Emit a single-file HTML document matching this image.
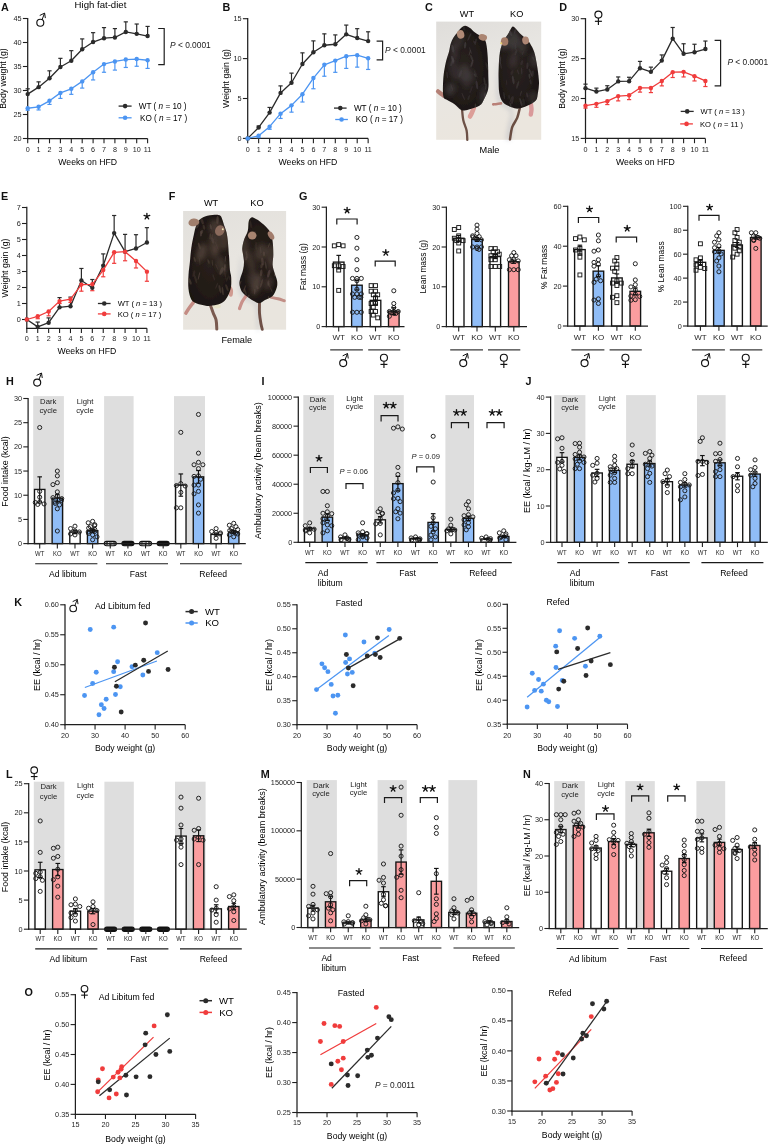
<!DOCTYPE html>
<html><head><meta charset="utf-8"><title>Figure</title>
<style>
html,body{margin:0;padding:0;background:#fff;}
body{width:769px;height:1144px;overflow:hidden;}
svg{display:block;will-change:transform;}
svg text{font-family:"Liberation Sans", sans-serif;}
</style></head><body>
<svg width="769" height="1144" viewBox="0 0 769 1144" font-family='"Liberation Sans", sans-serif'>
<rect x="0" y="0" width="769" height="1144" fill="#ffffff"/>
<text x="1" y="10.8" font-size="10.8" font-weight="bold" fill="#111">A</text>
<text x="74.6" y="7.8" font-size="9.6">High fat-diet</text>
<circle cx="40.3" cy="22.7" r="3.5" fill="none" stroke="#111" stroke-width="1.15"/>
<line x1="42" y1="19.9" x2="44.5" y2="13.3" stroke="#111" stroke-width="1"/>
<polyline points="40.1,15.3 44.6,13.1 45.3,17.7" stroke="#111" stroke-width="1" fill="none" stroke-linejoin="round" stroke-linecap="round"/>
<line x1="27.7" y1="17.9" x2="27.7" y2="139.1" stroke="#1f1f1f" stroke-width="1.25"/>
<line x1="22.9" y1="138.5" x2="27.7" y2="138.5" stroke="#1f1f1f" stroke-width="1.1"/>
<text x="21.6" y="141.13" font-size="7.3" text-anchor="end" fill="#1e1e1e">20</text>
<line x1="22.9" y1="114.5" x2="27.7" y2="114.5" stroke="#1f1f1f" stroke-width="1.1"/>
<text x="21.6" y="117.13" font-size="7.3" text-anchor="end" fill="#1e1e1e">25</text>
<line x1="22.9" y1="90.5" x2="27.7" y2="90.5" stroke="#1f1f1f" stroke-width="1.1"/>
<text x="21.6" y="93.13" font-size="7.3" text-anchor="end" fill="#1e1e1e">30</text>
<line x1="22.9" y1="66.5" x2="27.7" y2="66.5" stroke="#1f1f1f" stroke-width="1.1"/>
<text x="21.6" y="69.13" font-size="7.3" text-anchor="end" fill="#1e1e1e">35</text>
<line x1="22.9" y1="42.5" x2="27.7" y2="42.5" stroke="#1f1f1f" stroke-width="1.1"/>
<text x="21.6" y="45.13" font-size="7.3" text-anchor="end" fill="#1e1e1e">40</text>
<line x1="22.9" y1="18.5" x2="27.7" y2="18.5" stroke="#1f1f1f" stroke-width="1.1"/>
<text x="21.6" y="21.13" font-size="7.3" text-anchor="end" fill="#1e1e1e">45</text>
<line x1="27.1" y1="138.5" x2="147.6" y2="138.5" stroke="#1f1f1f" stroke-width="1.25"/>
<line x1="27.7" y1="138.5" x2="27.7" y2="143.3" stroke="#1f1f1f" stroke-width="1.1"/>
<text x="27.7" y="151.8" font-size="7.2" text-anchor="middle" fill="#1e1e1e">0</text>
<line x1="38.6" y1="138.5" x2="38.6" y2="143.3" stroke="#1f1f1f" stroke-width="1.1"/>
<text x="38.6" y="151.8" font-size="7.2" text-anchor="middle" fill="#1e1e1e">1</text>
<line x1="49.5" y1="138.5" x2="49.5" y2="143.3" stroke="#1f1f1f" stroke-width="1.1"/>
<text x="49.5" y="151.8" font-size="7.2" text-anchor="middle" fill="#1e1e1e">2</text>
<line x1="60.4" y1="138.5" x2="60.4" y2="143.3" stroke="#1f1f1f" stroke-width="1.1"/>
<text x="60.4" y="151.8" font-size="7.2" text-anchor="middle" fill="#1e1e1e">3</text>
<line x1="71.3" y1="138.5" x2="71.3" y2="143.3" stroke="#1f1f1f" stroke-width="1.1"/>
<text x="71.3" y="151.8" font-size="7.2" text-anchor="middle" fill="#1e1e1e">4</text>
<line x1="82.2" y1="138.5" x2="82.2" y2="143.3" stroke="#1f1f1f" stroke-width="1.1"/>
<text x="82.2" y="151.8" font-size="7.2" text-anchor="middle" fill="#1e1e1e">5</text>
<line x1="93.1" y1="138.5" x2="93.1" y2="143.3" stroke="#1f1f1f" stroke-width="1.1"/>
<text x="93.1" y="151.8" font-size="7.2" text-anchor="middle" fill="#1e1e1e">6</text>
<line x1="104" y1="138.5" x2="104" y2="143.3" stroke="#1f1f1f" stroke-width="1.1"/>
<text x="104" y="151.8" font-size="7.2" text-anchor="middle" fill="#1e1e1e">7</text>
<line x1="114.9" y1="138.5" x2="114.9" y2="143.3" stroke="#1f1f1f" stroke-width="1.1"/>
<text x="114.9" y="151.8" font-size="7.2" text-anchor="middle" fill="#1e1e1e">8</text>
<line x1="125.8" y1="138.5" x2="125.8" y2="143.3" stroke="#1f1f1f" stroke-width="1.1"/>
<text x="125.8" y="151.8" font-size="7.2" text-anchor="middle" fill="#1e1e1e">9</text>
<line x1="136.7" y1="138.5" x2="136.7" y2="143.3" stroke="#1f1f1f" stroke-width="1.1"/>
<text x="136.7" y="151.8" font-size="7.2" text-anchor="middle" fill="#1e1e1e">10</text>
<line x1="147.6" y1="138.5" x2="147.6" y2="143.3" stroke="#1f1f1f" stroke-width="1.1"/>
<text x="147.6" y="151.8" font-size="7.2" text-anchor="middle" fill="#1e1e1e">11</text>
<text x="87.65" y="165.3" font-size="8.7" text-anchor="middle">Weeks on HFD</text>
<line x1="27.7" y1="94.1" x2="27.7" y2="88.82" stroke="#2b2b2b" stroke-width="1.2"/>
<line x1="25.6" y1="88.82" x2="29.8" y2="88.82" stroke="#2b2b2b" stroke-width="1.2"/>
<line x1="38.6" y1="87.14" x2="38.6" y2="81.86" stroke="#2b2b2b" stroke-width="1.2"/>
<line x1="36.5" y1="81.86" x2="40.7" y2="81.86" stroke="#2b2b2b" stroke-width="1.2"/>
<line x1="49.5" y1="78.26" x2="49.5" y2="70.82" stroke="#2b2b2b" stroke-width="1.2"/>
<line x1="47.4" y1="70.82" x2="51.6" y2="70.82" stroke="#2b2b2b" stroke-width="1.2"/>
<line x1="60.4" y1="66.98" x2="60.4" y2="58.34" stroke="#2b2b2b" stroke-width="1.2"/>
<line x1="58.3" y1="58.34" x2="62.5" y2="58.34" stroke="#2b2b2b" stroke-width="1.2"/>
<line x1="71.3" y1="60.74" x2="71.3" y2="50.66" stroke="#2b2b2b" stroke-width="1.2"/>
<line x1="69.2" y1="50.66" x2="73.4" y2="50.66" stroke="#2b2b2b" stroke-width="1.2"/>
<line x1="82.2" y1="49.22" x2="82.2" y2="38.9" stroke="#2b2b2b" stroke-width="1.2"/>
<line x1="80.1" y1="38.9" x2="84.3" y2="38.9" stroke="#2b2b2b" stroke-width="1.2"/>
<line x1="93.1" y1="42.02" x2="93.1" y2="32.66" stroke="#2b2b2b" stroke-width="1.2"/>
<line x1="91" y1="32.66" x2="95.2" y2="32.66" stroke="#2b2b2b" stroke-width="1.2"/>
<line x1="104" y1="38.18" x2="104" y2="27.62" stroke="#2b2b2b" stroke-width="1.2"/>
<line x1="101.9" y1="27.62" x2="106.1" y2="27.62" stroke="#2b2b2b" stroke-width="1.2"/>
<line x1="114.9" y1="37.46" x2="114.9" y2="28.58" stroke="#2b2b2b" stroke-width="1.2"/>
<line x1="112.8" y1="28.58" x2="117" y2="28.58" stroke="#2b2b2b" stroke-width="1.2"/>
<line x1="125.8" y1="31.94" x2="125.8" y2="21.86" stroke="#2b2b2b" stroke-width="1.2"/>
<line x1="123.7" y1="21.86" x2="127.9" y2="21.86" stroke="#2b2b2b" stroke-width="1.2"/>
<line x1="136.7" y1="33.86" x2="136.7" y2="24.02" stroke="#2b2b2b" stroke-width="1.2"/>
<line x1="134.6" y1="24.02" x2="138.8" y2="24.02" stroke="#2b2b2b" stroke-width="1.2"/>
<line x1="147.6" y1="36.02" x2="147.6" y2="26.42" stroke="#2b2b2b" stroke-width="1.2"/>
<line x1="145.5" y1="26.42" x2="149.7" y2="26.42" stroke="#2b2b2b" stroke-width="1.2"/>
<polyline points="27.7,94.1 38.6,87.14 49.5,78.26 60.4,66.98 71.3,60.74 82.2,49.22 93.1,42.02 104,38.18 114.9,37.46 125.8,31.94 136.7,33.86 147.6,36.02" stroke="#2b2b2b" stroke-width="1.3" fill="none" stroke-linejoin="round"/>
<circle cx="27.7" cy="94.1" r="2.2" fill="#2b2b2b"/>
<circle cx="38.6" cy="87.14" r="2.2" fill="#2b2b2b"/>
<circle cx="49.5" cy="78.26" r="2.2" fill="#2b2b2b"/>
<circle cx="60.4" cy="66.98" r="2.2" fill="#2b2b2b"/>
<circle cx="71.3" cy="60.74" r="2.2" fill="#2b2b2b"/>
<circle cx="82.2" cy="49.22" r="2.2" fill="#2b2b2b"/>
<circle cx="93.1" cy="42.02" r="2.2" fill="#2b2b2b"/>
<circle cx="104" cy="38.18" r="2.2" fill="#2b2b2b"/>
<circle cx="114.9" cy="37.46" r="2.2" fill="#2b2b2b"/>
<circle cx="125.8" cy="31.94" r="2.2" fill="#2b2b2b"/>
<circle cx="136.7" cy="33.86" r="2.2" fill="#2b2b2b"/>
<circle cx="147.6" cy="36.02" r="2.2" fill="#2b2b2b"/>
<line x1="27.7" y1="108.26" x2="27.7" y2="110.18" stroke="#4c95f2" stroke-width="1.2"/>
<line x1="25.6" y1="110.18" x2="29.8" y2="110.18" stroke="#4c95f2" stroke-width="1.2"/>
<line x1="38.6" y1="106.82" x2="38.6" y2="109.94" stroke="#4c95f2" stroke-width="1.2"/>
<line x1="36.5" y1="109.94" x2="40.7" y2="109.94" stroke="#4c95f2" stroke-width="1.2"/>
<line x1="49.5" y1="100.82" x2="49.5" y2="104.42" stroke="#4c95f2" stroke-width="1.2"/>
<line x1="47.4" y1="104.42" x2="51.6" y2="104.42" stroke="#4c95f2" stroke-width="1.2"/>
<line x1="60.4" y1="92.9" x2="60.4" y2="98.42" stroke="#4c95f2" stroke-width="1.2"/>
<line x1="58.3" y1="98.42" x2="62.5" y2="98.42" stroke="#4c95f2" stroke-width="1.2"/>
<line x1="71.3" y1="88.82" x2="71.3" y2="94.34" stroke="#4c95f2" stroke-width="1.2"/>
<line x1="69.2" y1="94.34" x2="73.4" y2="94.34" stroke="#4c95f2" stroke-width="1.2"/>
<line x1="82.2" y1="81.38" x2="82.2" y2="88.1" stroke="#4c95f2" stroke-width="1.2"/>
<line x1="80.1" y1="88.1" x2="84.3" y2="88.1" stroke="#4c95f2" stroke-width="1.2"/>
<line x1="93.1" y1="72.26" x2="93.1" y2="79.94" stroke="#4c95f2" stroke-width="1.2"/>
<line x1="91" y1="79.94" x2="95.2" y2="79.94" stroke="#4c95f2" stroke-width="1.2"/>
<line x1="104" y1="64.1" x2="104" y2="72.26" stroke="#4c95f2" stroke-width="1.2"/>
<line x1="101.9" y1="72.26" x2="106.1" y2="72.26" stroke="#4c95f2" stroke-width="1.2"/>
<line x1="114.9" y1="61.46" x2="114.9" y2="70.1" stroke="#4c95f2" stroke-width="1.2"/>
<line x1="112.8" y1="70.1" x2="117" y2="70.1" stroke="#4c95f2" stroke-width="1.2"/>
<line x1="125.8" y1="59.54" x2="125.8" y2="67.46" stroke="#4c95f2" stroke-width="1.2"/>
<line x1="123.7" y1="67.46" x2="127.9" y2="67.46" stroke="#4c95f2" stroke-width="1.2"/>
<line x1="136.7" y1="59.06" x2="136.7" y2="66.26" stroke="#4c95f2" stroke-width="1.2"/>
<line x1="134.6" y1="66.26" x2="138.8" y2="66.26" stroke="#4c95f2" stroke-width="1.2"/>
<line x1="147.6" y1="60.26" x2="147.6" y2="68.42" stroke="#4c95f2" stroke-width="1.2"/>
<line x1="145.5" y1="68.42" x2="149.7" y2="68.42" stroke="#4c95f2" stroke-width="1.2"/>
<polyline points="27.7,108.26 38.6,106.82 49.5,100.82 60.4,92.9 71.3,88.82 82.2,81.38 93.1,72.26 104,64.1 114.9,61.46 125.8,59.54 136.7,59.06 147.6,60.26" stroke="#4c95f2" stroke-width="1.3" fill="none" stroke-linejoin="round"/>
<circle cx="27.7" cy="108.26" r="2.2" fill="#4c95f2"/>
<circle cx="38.6" cy="106.82" r="2.2" fill="#4c95f2"/>
<circle cx="49.5" cy="100.82" r="2.2" fill="#4c95f2"/>
<circle cx="60.4" cy="92.9" r="2.2" fill="#4c95f2"/>
<circle cx="71.3" cy="88.82" r="2.2" fill="#4c95f2"/>
<circle cx="82.2" cy="81.38" r="2.2" fill="#4c95f2"/>
<circle cx="93.1" cy="72.26" r="2.2" fill="#4c95f2"/>
<circle cx="104" cy="64.1" r="2.2" fill="#4c95f2"/>
<circle cx="114.9" cy="61.46" r="2.2" fill="#4c95f2"/>
<circle cx="125.8" cy="59.54" r="2.2" fill="#4c95f2"/>
<circle cx="136.7" cy="59.06" r="2.2" fill="#4c95f2"/>
<circle cx="147.6" cy="60.26" r="2.2" fill="#4c95f2"/>
<text x="6.3" y="78.5" font-size="8.7" text-anchor="middle" transform="rotate(-90 6.3 78.5)">Body weight (g)</text>
<line x1="118.6" y1="106.1" x2="131.6" y2="106.1" stroke="#2b2b2b" stroke-width="1.3"/>
<circle cx="125.1" cy="106.1" r="2.3" fill="#2b2b2b"/>
<text x="138.7" y="109.05" font-size="8.2">WT ( <tspan font-style="italic">n</tspan> = 10 )</text>
<line x1="118.6" y1="117.8" x2="131.6" y2="117.8" stroke="#4c95f2" stroke-width="1.3"/>
<circle cx="125.1" cy="117.8" r="2.3" fill="#4c95f2"/>
<text x="140" y="120.75" font-size="8.2">KO ( <tspan font-style="italic">n</tspan> = 17 )</text>
<polyline points="158.2,28.5 164.2,28.5 164.2,64.6 158.2,64.6" stroke="#1f1f1f" stroke-width="1.2" fill="none"/>
<text x="170" y="47.9" font-size="8.4" fill="#1a1a1a"><tspan font-style="italic">P</tspan> &lt; 0.0001</text>
<text x="222.5" y="10.8" font-size="10.8" font-weight="bold" fill="#111">B</text>
<line x1="247.7" y1="18.1" x2="247.7" y2="139" stroke="#1f1f1f" stroke-width="1.25"/>
<line x1="242.9" y1="138.4" x2="247.7" y2="138.4" stroke="#1f1f1f" stroke-width="1.1"/>
<text x="241.6" y="141.03" font-size="7.3" text-anchor="end" fill="#1e1e1e">0</text>
<line x1="242.9" y1="98.5" x2="247.7" y2="98.5" stroke="#1f1f1f" stroke-width="1.1"/>
<text x="241.6" y="101.13" font-size="7.3" text-anchor="end" fill="#1e1e1e">5</text>
<line x1="242.9" y1="58.6" x2="247.7" y2="58.6" stroke="#1f1f1f" stroke-width="1.1"/>
<text x="241.6" y="61.23" font-size="7.3" text-anchor="end" fill="#1e1e1e">10</text>
<line x1="242.9" y1="18.7" x2="247.7" y2="18.7" stroke="#1f1f1f" stroke-width="1.1"/>
<text x="241.6" y="21.33" font-size="7.3" text-anchor="end" fill="#1e1e1e">15</text>
<line x1="247.1" y1="138.4" x2="368.15" y2="138.4" stroke="#1f1f1f" stroke-width="1.25"/>
<line x1="247.7" y1="138.4" x2="247.7" y2="143.2" stroke="#1f1f1f" stroke-width="1.1"/>
<text x="247.7" y="151.8" font-size="7.2" text-anchor="middle" fill="#1e1e1e">0</text>
<line x1="258.65" y1="138.4" x2="258.65" y2="143.2" stroke="#1f1f1f" stroke-width="1.1"/>
<text x="258.65" y="151.8" font-size="7.2" text-anchor="middle" fill="#1e1e1e">1</text>
<line x1="269.6" y1="138.4" x2="269.6" y2="143.2" stroke="#1f1f1f" stroke-width="1.1"/>
<text x="269.6" y="151.8" font-size="7.2" text-anchor="middle" fill="#1e1e1e">2</text>
<line x1="280.55" y1="138.4" x2="280.55" y2="143.2" stroke="#1f1f1f" stroke-width="1.1"/>
<text x="280.55" y="151.8" font-size="7.2" text-anchor="middle" fill="#1e1e1e">3</text>
<line x1="291.5" y1="138.4" x2="291.5" y2="143.2" stroke="#1f1f1f" stroke-width="1.1"/>
<text x="291.5" y="151.8" font-size="7.2" text-anchor="middle" fill="#1e1e1e">4</text>
<line x1="302.45" y1="138.4" x2="302.45" y2="143.2" stroke="#1f1f1f" stroke-width="1.1"/>
<text x="302.45" y="151.8" font-size="7.2" text-anchor="middle" fill="#1e1e1e">5</text>
<line x1="313.4" y1="138.4" x2="313.4" y2="143.2" stroke="#1f1f1f" stroke-width="1.1"/>
<text x="313.4" y="151.8" font-size="7.2" text-anchor="middle" fill="#1e1e1e">6</text>
<line x1="324.35" y1="138.4" x2="324.35" y2="143.2" stroke="#1f1f1f" stroke-width="1.1"/>
<text x="324.35" y="151.8" font-size="7.2" text-anchor="middle" fill="#1e1e1e">7</text>
<line x1="335.3" y1="138.4" x2="335.3" y2="143.2" stroke="#1f1f1f" stroke-width="1.1"/>
<text x="335.3" y="151.8" font-size="7.2" text-anchor="middle" fill="#1e1e1e">8</text>
<line x1="346.25" y1="138.4" x2="346.25" y2="143.2" stroke="#1f1f1f" stroke-width="1.1"/>
<text x="346.25" y="151.8" font-size="7.2" text-anchor="middle" fill="#1e1e1e">9</text>
<line x1="357.2" y1="138.4" x2="357.2" y2="143.2" stroke="#1f1f1f" stroke-width="1.1"/>
<text x="357.2" y="151.8" font-size="7.2" text-anchor="middle" fill="#1e1e1e">10</text>
<line x1="368.15" y1="138.4" x2="368.15" y2="143.2" stroke="#1f1f1f" stroke-width="1.1"/>
<text x="368.15" y="151.8" font-size="7.2" text-anchor="middle" fill="#1e1e1e">11</text>
<text x="307.92" y="165.3" font-size="8.7" text-anchor="middle">Weeks on HFD</text>
<line x1="258.65" y1="127.47" x2="258.65" y2="126.03" stroke="#2b2b2b" stroke-width="1.2"/>
<line x1="256.55" y1="126.03" x2="260.75" y2="126.03" stroke="#2b2b2b" stroke-width="1.2"/>
<line x1="269.6" y1="112.62" x2="269.6" y2="107.44" stroke="#2b2b2b" stroke-width="1.2"/>
<line x1="267.5" y1="107.44" x2="271.7" y2="107.44" stroke="#2b2b2b" stroke-width="1.2"/>
<line x1="280.55" y1="92.91" x2="280.55" y2="85.89" stroke="#2b2b2b" stroke-width="1.2"/>
<line x1="278.45" y1="85.89" x2="282.65" y2="85.89" stroke="#2b2b2b" stroke-width="1.2"/>
<line x1="291.5" y1="82.78" x2="291.5" y2="73.12" stroke="#2b2b2b" stroke-width="1.2"/>
<line x1="289.4" y1="73.12" x2="293.6" y2="73.12" stroke="#2b2b2b" stroke-width="1.2"/>
<line x1="302.45" y1="64.03" x2="302.45" y2="52.85" stroke="#2b2b2b" stroke-width="1.2"/>
<line x1="300.35" y1="52.85" x2="304.55" y2="52.85" stroke="#2b2b2b" stroke-width="1.2"/>
<line x1="313.4" y1="52.3" x2="313.4" y2="40.88" stroke="#2b2b2b" stroke-width="1.2"/>
<line x1="311.3" y1="40.88" x2="315.5" y2="40.88" stroke="#2b2b2b" stroke-width="1.2"/>
<line x1="324.35" y1="45.27" x2="324.35" y2="33.86" stroke="#2b2b2b" stroke-width="1.2"/>
<line x1="322.25" y1="33.86" x2="326.45" y2="33.86" stroke="#2b2b2b" stroke-width="1.2"/>
<line x1="335.3" y1="44.24" x2="335.3" y2="34.9" stroke="#2b2b2b" stroke-width="1.2"/>
<line x1="333.2" y1="34.9" x2="337.4" y2="34.9" stroke="#2b2b2b" stroke-width="1.2"/>
<line x1="346.25" y1="34.34" x2="346.25" y2="25.08" stroke="#2b2b2b" stroke-width="1.2"/>
<line x1="344.15" y1="25.08" x2="348.35" y2="25.08" stroke="#2b2b2b" stroke-width="1.2"/>
<line x1="357.2" y1="38.01" x2="357.2" y2="28.67" stroke="#2b2b2b" stroke-width="1.2"/>
<line x1="355.1" y1="28.67" x2="359.3" y2="28.67" stroke="#2b2b2b" stroke-width="1.2"/>
<line x1="368.15" y1="41.12" x2="368.15" y2="31.79" stroke="#2b2b2b" stroke-width="1.2"/>
<line x1="366.05" y1="31.79" x2="370.25" y2="31.79" stroke="#2b2b2b" stroke-width="1.2"/>
<polyline points="247.7,138.4 258.65,127.47 269.6,112.62 280.55,92.91 291.5,82.78 302.45,64.03 313.4,52.3 324.35,45.27 335.3,44.24 346.25,34.34 357.2,38.01 368.15,41.12" stroke="#2b2b2b" stroke-width="1.3" fill="none" stroke-linejoin="round"/>
<circle cx="247.7" cy="138.4" r="2.2" fill="#2b2b2b"/>
<circle cx="258.65" cy="127.47" r="2.2" fill="#2b2b2b"/>
<circle cx="269.6" cy="112.62" r="2.2" fill="#2b2b2b"/>
<circle cx="280.55" cy="92.91" r="2.2" fill="#2b2b2b"/>
<circle cx="291.5" cy="82.78" r="2.2" fill="#2b2b2b"/>
<circle cx="302.45" cy="64.03" r="2.2" fill="#2b2b2b"/>
<circle cx="313.4" cy="52.3" r="2.2" fill="#2b2b2b"/>
<circle cx="324.35" cy="45.27" r="2.2" fill="#2b2b2b"/>
<circle cx="335.3" cy="44.24" r="2.2" fill="#2b2b2b"/>
<circle cx="346.25" cy="34.34" r="2.2" fill="#2b2b2b"/>
<circle cx="357.2" cy="38.01" r="2.2" fill="#2b2b2b"/>
<circle cx="368.15" cy="41.12" r="2.2" fill="#2b2b2b"/>
<line x1="258.65" y1="135.77" x2="258.65" y2="137.6" stroke="#4c95f2" stroke-width="1.2"/>
<line x1="256.55" y1="137.6" x2="260.75" y2="137.6" stroke="#4c95f2" stroke-width="1.2"/>
<line x1="269.6" y1="126.67" x2="269.6" y2="129.3" stroke="#4c95f2" stroke-width="1.2"/>
<line x1="267.5" y1="129.3" x2="271.7" y2="129.3" stroke="#4c95f2" stroke-width="1.2"/>
<line x1="280.55" y1="113.66" x2="280.55" y2="118.45" stroke="#4c95f2" stroke-width="1.2"/>
<line x1="278.45" y1="118.45" x2="282.65" y2="118.45" stroke="#4c95f2" stroke-width="1.2"/>
<line x1="291.5" y1="105.36" x2="291.5" y2="112.15" stroke="#4c95f2" stroke-width="1.2"/>
<line x1="289.4" y1="112.15" x2="293.6" y2="112.15" stroke="#4c95f2" stroke-width="1.2"/>
<line x1="302.45" y1="94.19" x2="302.45" y2="102.01" stroke="#4c95f2" stroke-width="1.2"/>
<line x1="300.35" y1="102.01" x2="304.55" y2="102.01" stroke="#4c95f2" stroke-width="1.2"/>
<line x1="313.4" y1="78.07" x2="313.4" y2="88.76" stroke="#4c95f2" stroke-width="1.2"/>
<line x1="311.3" y1="88.76" x2="315.5" y2="88.76" stroke="#4c95f2" stroke-width="1.2"/>
<line x1="324.35" y1="64.82" x2="324.35" y2="76.24" stroke="#4c95f2" stroke-width="1.2"/>
<line x1="322.25" y1="76.24" x2="326.45" y2="76.24" stroke="#4c95f2" stroke-width="1.2"/>
<line x1="335.3" y1="60.59" x2="335.3" y2="72.33" stroke="#4c95f2" stroke-width="1.2"/>
<line x1="333.2" y1="72.33" x2="337.4" y2="72.33" stroke="#4c95f2" stroke-width="1.2"/>
<line x1="346.25" y1="56.21" x2="346.25" y2="68.42" stroke="#4c95f2" stroke-width="1.2"/>
<line x1="344.15" y1="68.42" x2="348.35" y2="68.42" stroke="#4c95f2" stroke-width="1.2"/>
<line x1="357.2" y1="55.17" x2="357.2" y2="67.14" stroke="#4c95f2" stroke-width="1.2"/>
<line x1="355.1" y1="67.14" x2="359.3" y2="67.14" stroke="#4c95f2" stroke-width="1.2"/>
<line x1="368.15" y1="58.28" x2="368.15" y2="69.45" stroke="#4c95f2" stroke-width="1.2"/>
<line x1="366.05" y1="69.45" x2="370.25" y2="69.45" stroke="#4c95f2" stroke-width="1.2"/>
<polyline points="247.7,138.4 258.65,135.77 269.6,126.67 280.55,113.66 291.5,105.36 302.45,94.19 313.4,78.07 324.35,64.82 335.3,60.59 346.25,56.21 357.2,55.17 368.15,58.28" stroke="#4c95f2" stroke-width="1.3" fill="none" stroke-linejoin="round"/>
<circle cx="247.7" cy="138.4" r="2.2" fill="#4c95f2"/>
<circle cx="258.65" cy="135.77" r="2.2" fill="#4c95f2"/>
<circle cx="269.6" cy="126.67" r="2.2" fill="#4c95f2"/>
<circle cx="280.55" cy="113.66" r="2.2" fill="#4c95f2"/>
<circle cx="291.5" cy="105.36" r="2.2" fill="#4c95f2"/>
<circle cx="302.45" cy="94.19" r="2.2" fill="#4c95f2"/>
<circle cx="313.4" cy="78.07" r="2.2" fill="#4c95f2"/>
<circle cx="324.35" cy="64.82" r="2.2" fill="#4c95f2"/>
<circle cx="335.3" cy="60.59" r="2.2" fill="#4c95f2"/>
<circle cx="346.25" cy="56.21" r="2.2" fill="#4c95f2"/>
<circle cx="357.2" cy="55.17" r="2.2" fill="#4c95f2"/>
<circle cx="368.15" cy="58.28" r="2.2" fill="#4c95f2"/>
<text x="229" y="78.5" font-size="8.7" text-anchor="middle" transform="rotate(-90 229 78.5)">Weight gain (g)</text>
<line x1="334" y1="108.1" x2="346.6" y2="108.1" stroke="#2b2b2b" stroke-width="1.3"/>
<circle cx="340.3" cy="108.1" r="2.3" fill="#2b2b2b"/>
<text x="353.9" y="111.05" font-size="8.2">WT ( <tspan font-style="italic">n</tspan> = 10 )</text>
<line x1="335.2" y1="119.5" x2="347.9" y2="119.5" stroke="#4c95f2" stroke-width="1.3"/>
<circle cx="341.55" cy="119.5" r="2.3" fill="#4c95f2"/>
<text x="355.8" y="122.45" font-size="8.2">KO ( <tspan font-style="italic">n</tspan> = 17 )</text>
<polyline points="376.6,41.1 382.6,41.1 382.6,59.8 376.6,59.8" stroke="#1f1f1f" stroke-width="1.2" fill="none"/>
<text x="385" y="53.3" font-size="8.4" fill="#1a1a1a"><tspan font-style="italic">P</tspan> &lt; 0.0001</text>
<text x="425" y="10.8" font-size="10.8" font-weight="bold" fill="#111">C</text>
<text x="467" y="17" font-size="9.2" text-anchor="middle">WT</text>
<text x="516.7" y="17" font-size="9.2" text-anchor="middle">KO</text>
<text x="489.5" y="152.6" font-size="9.2" text-anchor="middle">Male</text>
<defs>
<linearGradient id="bgC" x1="0" y1="0" x2="0.3" y2="1"><stop offset="0" stop-color="#dfddda"/><stop offset="0.45" stop-color="#e8e6e2"/><stop offset="1" stop-color="#ebe6de"/></linearGradient>
<linearGradient id="bgF" x1="0" y1="0" x2="0.3" y2="1"><stop offset="0" stop-color="#e2e0dc"/><stop offset="0.5" stop-color="#e8e5e0"/><stop offset="1" stop-color="#e9e5de"/></linearGradient>
<radialGradient id="furC" cx="0.45" cy="0.5" r="0.65"><stop offset="0" stop-color="#2a2320"/><stop offset="0.6" stop-color="#211b19"/><stop offset="1" stop-color="#171312"/></radialGradient>
<radialGradient id="furF" cx="0.5" cy="0.5" r="0.65"><stop offset="0" stop-color="#2a211c"/><stop offset="0.6" stop-color="#211a16"/><stop offset="1" stop-color="#17120f"/></radialGradient>
<filter id="soft" x="-10%" y="-10%" width="120%" height="120%"><feGaussianBlur stdDeviation="0.4"/></filter>
<filter id="soft2" x="-20%" y="-20%" width="140%" height="140%"><feGaussianBlur stdDeviation="0.7"/></filter>
<filter id="soft3" x="-30%" y="-30%" width="160%" height="160%"><feGaussianBlur stdDeviation="2.2"/></filter>
</defs>
<rect x="436.2" y="21.6" width="105" height="118.2" fill="url(#bgC)"/>
<g filter="url(#soft3)" opacity="0.3">
<path d="M497.5,60 C497.08,62.5 496.08,87.67 496.5,95 C496.92,102.33 497.75,101.17 500,104 C502.25,106.83 508.67,108.5 510,112 C511.33,115.5 508.67,120.5 508,125 C507.33,129.5 505.5,136.67 506,139 C506.5,141.33 509.83,141.33 511,139 C512.17,136.67 512.83,130.17 513,125 C513.17,119.83 513.83,112.17 512,108 C510.17,103.83 504.17,104.67 502,100 C499.83,95.33 499.75,86.67 499,80 C498.25,73.33 497.92,57.5 497.5,60Z" fill="#9aa0b0"/>
</g>
<g filter="url(#soft)">
<path d="M462,108.5 C462.22,110.45 462.53,116.55 463.3,120.2 C464.07,123.85 465.93,127.13 466.6,130.4 C467.27,133.67 467.18,138.23 467.3,139.8" fill="none" stroke="#6d5146" stroke-width="2.3" stroke-linecap="round"/>
<path d="M443.5,95.5 C442.92,95.08 440.92,93.7 440,93 C439.08,92.3 438.33,91.58 438,91.3" fill="none" stroke="#b48076" stroke-width="4.2" stroke-linecap="round" stroke-linejoin="round"/>
<path d="M474,107.5 C473.67,108.33 472.67,111 472,112.5 C471.33,114 470.33,115.83 470,116.5" fill="none" stroke="#dc9e98" stroke-width="4.6" stroke-linecap="round" stroke-linejoin="round"/>
<clipPath id="mc1"><path d="M465.1,25.8 C466.6,25.8 468.52,27.02 470,28 C471.48,28.98 472.5,30.53 474,31.7 C475.5,32.87 477.33,33.87 479,35 C480.67,36.13 482.78,37 484,38.5 C485.22,40 485.68,41.02 486.3,44 C486.92,46.98 487.35,50.68 487.7,56.4 C488.05,62.12 488.33,72.77 488.4,78.3 C488.47,83.83 488.82,86.15 488.1,89.6 C487.38,93.05 485.5,96.33 484.1,99 C482.7,101.67 482.25,103.87 479.7,105.6 C477.15,107.33 471.83,108.63 468.8,109.4 C465.77,110.17 463.93,111.08 461.5,110.2 C459.07,109.32 456.63,105.83 454.2,104.1 C451.77,102.37 448.72,101.15 446.9,99.8 C445.08,98.45 443.9,99.58 443.3,96 C442.7,92.42 442.93,83.68 443.3,78.3 C443.67,72.92 444.53,68.2 445.5,63.7 C446.47,59.2 448.25,54.58 449.1,51.3 C449.95,48.02 449.87,46.3 450.6,44 C451.33,41.7 452.35,39.42 453.5,37.5 C454.65,35.58 456.25,34.08 457.5,32.5 C458.75,30.92 459.73,29.12 461,28 C462.27,26.88 463.6,25.8 465.1,25.8Z"/></clipPath>
<path d="M465.1,25.8 C466.6,25.8 468.52,27.02 470,28 C471.48,28.98 472.5,30.53 474,31.7 C475.5,32.87 477.33,33.87 479,35 C480.67,36.13 482.78,37 484,38.5 C485.22,40 485.68,41.02 486.3,44 C486.92,46.98 487.35,50.68 487.7,56.4 C488.05,62.12 488.33,72.77 488.4,78.3 C488.47,83.83 488.82,86.15 488.1,89.6 C487.38,93.05 485.5,96.33 484.1,99 C482.7,101.67 482.25,103.87 479.7,105.6 C477.15,107.33 471.83,108.63 468.8,109.4 C465.77,110.17 463.93,111.08 461.5,110.2 C459.07,109.32 456.63,105.83 454.2,104.1 C451.77,102.37 448.72,101.15 446.9,99.8 C445.08,98.45 443.9,99.58 443.3,96 C442.7,92.42 442.93,83.68 443.3,78.3 C443.67,72.92 444.53,68.2 445.5,63.7 C446.47,59.2 448.25,54.58 449.1,51.3 C449.95,48.02 449.87,46.3 450.6,44 C451.33,41.7 452.35,39.42 453.5,37.5 C454.65,35.58 456.25,34.08 457.5,32.5 C458.75,30.92 459.73,29.12 461,28 C462.27,26.88 463.6,25.8 465.1,25.8Z" fill="url(#furC)"/>
<g clip-path="url(#mc1)">
<g filter="url(#soft3)">
<ellipse cx="464.19" cy="72.94" rx="5.77" ry="8.79" fill="#4a4446" transform="rotate(0.31 464.19 72.94)" opacity="0.44"/>
<ellipse cx="454.02" cy="69.79" rx="4.89" ry="10.76" fill="#4a4446" transform="rotate(-16.24 454.02 69.79)" opacity="0.37"/>
<ellipse cx="450.45" cy="89.44" rx="5.08" ry="6.25" fill="#4a4446" transform="rotate(19.29 450.45 89.44)" opacity="0.53"/>
<ellipse cx="471.85" cy="76.63" rx="3.47" ry="6.09" fill="#4a4446" transform="rotate(1.14 471.85 76.63)" opacity="0.31"/>
<ellipse cx="454.23" cy="51.97" rx="3.09" ry="8.78" fill="#4a4446" transform="rotate(-2.38 454.23 51.97)" opacity="0.5"/>
<ellipse cx="466.73" cy="78.26" rx="4.5" ry="9.97" fill="#4a4446" transform="rotate(-1.71 466.73 78.26)" opacity="0.37"/>
<ellipse cx="484.91" cy="101.72" rx="5.52" ry="10.25" fill="#4a4446" transform="rotate(-7.39 484.91 101.72)" opacity="0.36"/>
<ellipse cx="457.98" cy="40.63" rx="5.3" ry="8.4" fill="#4a4446" transform="rotate(13.86 457.98 40.63)" opacity="0.39"/>
<ellipse cx="483.41" cy="91.92" rx="3" ry="7.26" fill="#4a4446" transform="rotate(16.41 483.41 91.92)" opacity="0.41"/>
</g><g filter="url(#soft2)">
<ellipse cx="488.1" cy="59.38" rx="0.56" ry="3.57" fill="#4a4446" transform="rotate(13.93 488.1 59.38)" opacity="0.34"/>
<ellipse cx="447.01" cy="53.94" rx="1.27" ry="3.9" fill="#4a4446" transform="rotate(-19.1 447.01 53.94)" opacity="0.33"/>
<ellipse cx="447.65" cy="31.03" rx="1.14" ry="2.44" fill="#4a4446" transform="rotate(2.96 447.65 31.03)" opacity="0.4"/>
<ellipse cx="451.77" cy="87.48" rx="0.6" ry="3.61" fill="#4a4446" transform="rotate(-19.17 451.77 87.48)" opacity="0.39"/>
<ellipse cx="452.79" cy="48.66" rx="1.28" ry="4.01" fill="#4a4446" transform="rotate(-9.79 452.79 48.66)" opacity="0.56"/>
<ellipse cx="452.69" cy="59.12" rx="1.18" ry="3.6" fill="#4a4446" transform="rotate(-19.98 452.69 59.12)" opacity="0.6"/>
<ellipse cx="452.81" cy="47.7" rx="1.12" ry="2.82" fill="#4a4446" transform="rotate(-10.18 452.81 47.7)" opacity="0.27"/>
<ellipse cx="447.15" cy="74.95" rx="0.69" ry="3.5" fill="#4a4446" transform="rotate(-6.41 447.15 74.95)" opacity="0.4"/>
<ellipse cx="487.12" cy="66.63" rx="0.96" ry="4.17" fill="#4a4446" transform="rotate(-15.86 487.12 66.63)" opacity="0.3"/>
<ellipse cx="484.79" cy="94.7" rx="0.7" ry="2.47" fill="#4a4446" transform="rotate(11.97 484.79 94.7)" opacity="0.58"/>
<ellipse cx="452.04" cy="105.81" rx="1.21" ry="3.51" fill="#4a4446" transform="rotate(-3.93 452.04 105.81)" opacity="0.28"/>
<ellipse cx="444.78" cy="106.87" rx="0.69" ry="3.76" fill="#4a4446" transform="rotate(-12.15 444.78 106.87)" opacity="0.54"/>
<ellipse cx="470.44" cy="50.65" rx="0.64" ry="3.8" fill="#4a4446" transform="rotate(-21.56 470.44 50.65)" opacity="0.32"/>
<ellipse cx="468.73" cy="97.6" rx="0.99" ry="2.7" fill="#4a4446" transform="rotate(20.87 468.73 97.6)" opacity="0.31"/>
<ellipse cx="443.76" cy="48.61" rx="0.86" ry="2.15" fill="#4a4446" transform="rotate(-16.19 443.76 48.61)" opacity="0.37"/>
<ellipse cx="469.32" cy="37.05" rx="0.79" ry="4.23" fill="#4a4446" transform="rotate(24.02 469.32 37.05)" opacity="0.48"/>
<ellipse cx="474.8" cy="75.09" rx="0.61" ry="2.09" fill="#4a4446" transform="rotate(-24.11 474.8 75.09)" opacity="0.57"/>
<ellipse cx="475.24" cy="106.87" rx="0.52" ry="3.59" fill="#4a4446" transform="rotate(-0.89 475.24 106.87)" opacity="0.5"/>
<ellipse cx="457.67" cy="109.95" rx="0.56" ry="3.37" fill="#4a4446" transform="rotate(11.85 457.67 109.95)" opacity="0.56"/>
<ellipse cx="476.91" cy="85.11" rx="1.13" ry="4.29" fill="#4a4446" transform="rotate(-7.41 476.91 85.11)" opacity="0.49"/>
<ellipse cx="484.44" cy="99.17" rx="0.83" ry="3.98" fill="#4a4446" transform="rotate(18.17 484.44 99.17)" opacity="0.45"/>
<ellipse cx="471.75" cy="58.12" rx="0.97" ry="3.52" fill="#4a4446" transform="rotate(-20.99 471.75 58.12)" opacity="0.47"/>
<ellipse cx="488.69" cy="99.9" rx="1.08" ry="2.97" fill="#4a4446" transform="rotate(11.75 488.69 99.9)" opacity="0.45"/>
<ellipse cx="463.26" cy="96.42" rx="0.57" ry="3.88" fill="#4a4446" transform="rotate(-23.51 463.26 96.42)" opacity="0.46"/>
<ellipse cx="465.12" cy="45.34" rx="1.06" ry="3.24" fill="#4a4446" transform="rotate(5.73 465.12 45.34)" opacity="0.57"/>
<ellipse cx="454.77" cy="26.95" rx="0.74" ry="3.7" fill="#4a4446" transform="rotate(-14.87 454.77 26.95)" opacity="0.3"/>
<ellipse cx="484.66" cy="81.44" rx="0.85" ry="4.23" fill="#4a4446" transform="rotate(-8.65 484.66 81.44)" opacity="0.48"/>
<ellipse cx="452.13" cy="62.2" rx="1.14" ry="4.29" fill="#4a4446" transform="rotate(19.01 452.13 62.2)" opacity="0.38"/>
<ellipse cx="469.82" cy="52.58" rx="0.61" ry="3.24" fill="#4a4446" transform="rotate(16.85 469.82 52.58)" opacity="0.55"/>
<ellipse cx="475.72" cy="105.8" rx="0.72" ry="2.42" fill="#4a4446" transform="rotate(-2.47 475.72 105.8)" opacity="0.34"/>
<ellipse cx="452.85" cy="60.77" rx="1" ry="3.23" fill="#4a4446" transform="rotate(-9.23 452.85 60.77)" opacity="0.54"/>
<ellipse cx="488.17" cy="64.01" rx="0.56" ry="2.08" fill="#4a4446" transform="rotate(18.64 488.17 64.01)" opacity="0.25"/>
<ellipse cx="475.6" cy="73.93" rx="0.75" ry="3.98" fill="#4a4446" transform="rotate(-24.04 475.6 73.93)" opacity="0.29"/>
<ellipse cx="463.92" cy="28.08" rx="1.16" ry="2.59" fill="#4a4446" transform="rotate(-17.96 463.92 28.08)" opacity="0.26"/>
<ellipse cx="471.94" cy="63.5" rx="1" ry="3.64" fill="#4a4446" transform="rotate(15.37 471.94 63.5)" opacity="0.59"/>
<ellipse cx="474.49" cy="42.74" rx="0.88" ry="2.45" fill="#4a4446" transform="rotate(-24.46 474.49 42.74)" opacity="0.41"/>
<ellipse cx="475.85" cy="41.04" rx="0.72" ry="2.86" fill="#4a4446" transform="rotate(9.87 475.85 41.04)" opacity="0.43"/>
<ellipse cx="471.26" cy="89.52" rx="0.81" ry="3.98" fill="#4a4446" transform="rotate(20.31 471.26 89.52)" opacity="0.27"/>
<ellipse cx="485.9" cy="86.68" rx="0.6" ry="3.13" fill="#4a4446" transform="rotate(6.28 485.9 86.68)" opacity="0.57"/>
<ellipse cx="460.33" cy="73.78" rx="1.2" ry="3.99" fill="#4a4446" transform="rotate(22.21 460.33 73.78)" opacity="0.41"/>
</g>
</g>
<ellipse cx="460.6" cy="34.4" rx="3.7" ry="4.3" fill="#b08a76" transform="rotate(-15 460.6 34.4)"/>
<ellipse cx="482.8" cy="37.3" rx="4.3" ry="3.2" fill="#ab8572" transform="rotate(15 482.8 37.3)"/>
<path d="M519.7,108.5 C519.28,110.07 518.45,114.78 517.2,117.9 C515.95,121.02 513.4,123.62 512.2,127.2 C511,130.78 510.37,137.37 510,139.4" fill="none" stroke="#6a4e43" stroke-width="2.5" stroke-linecap="round"/>
<path d="M501,103.4 C500.33,103.5 498.3,103.83 497,104 C495.7,104.17 493.83,104.33 493.2,104.4" fill="none" stroke="#b98077" stroke-width="2.6" stroke-linecap="round" stroke-linejoin="round"/>
<path d="M531,104.5 C531.08,105.33 531.53,107.83 531.5,109.5 C531.47,111.17 530.92,113.67 530.8,114.5" fill="none" stroke="#d9999a" stroke-width="4.4" stroke-linecap="round" stroke-linejoin="round"/>
<clipPath id="mc2"><path d="M512.9,26.4 C513.9,26.4 515.32,28.3 516.5,29.5 C517.68,30.7 518.75,32.35 520,33.6 C521.25,34.85 522.67,35.85 524,37 C525.33,38.15 526.98,39.4 528,40.5 C529.02,41.6 529.05,41.65 530.1,43.6 C531.15,45.55 533.12,48.38 534.3,52.2 C535.48,56.02 536.48,62.33 537.2,66.5 C537.92,70.67 538.3,74.25 538.6,77.2 C538.9,80.15 539.12,81.58 539,84.2 C538.88,86.82 538.43,90.18 537.9,92.9 C537.37,95.62 537.58,98.35 535.8,100.5 C534.02,102.65 530.07,104.45 527.2,105.8 C524.33,107.15 521.22,108.37 518.6,108.6 C515.98,108.83 514.12,108.27 511.5,107.2 C508.88,106.13 504.93,104.58 502.9,102.2 C500.87,99.82 500.02,96.6 499.3,92.9 C498.58,89.2 498.72,83.8 498.6,80 C498.48,76.2 498.48,73.9 498.6,70.1 C498.72,66.3 498.95,60.78 499.3,57.2 C499.65,53.62 500,51.3 500.7,48.6 C501.4,45.9 502.3,43.38 503.5,41 C504.7,38.62 506.73,36.22 507.9,34.3 C509.07,32.38 509.67,30.82 510.5,29.5 C511.33,28.18 511.9,26.4 512.9,26.4Z"/></clipPath>
<path d="M512.9,26.4 C513.9,26.4 515.32,28.3 516.5,29.5 C517.68,30.7 518.75,32.35 520,33.6 C521.25,34.85 522.67,35.85 524,37 C525.33,38.15 526.98,39.4 528,40.5 C529.02,41.6 529.05,41.65 530.1,43.6 C531.15,45.55 533.12,48.38 534.3,52.2 C535.48,56.02 536.48,62.33 537.2,66.5 C537.92,70.67 538.3,74.25 538.6,77.2 C538.9,80.15 539.12,81.58 539,84.2 C538.88,86.82 538.43,90.18 537.9,92.9 C537.37,95.62 537.58,98.35 535.8,100.5 C534.02,102.65 530.07,104.45 527.2,105.8 C524.33,107.15 521.22,108.37 518.6,108.6 C515.98,108.83 514.12,108.27 511.5,107.2 C508.88,106.13 504.93,104.58 502.9,102.2 C500.87,99.82 500.02,96.6 499.3,92.9 C498.58,89.2 498.72,83.8 498.6,80 C498.48,76.2 498.48,73.9 498.6,70.1 C498.72,66.3 498.95,60.78 499.3,57.2 C499.65,53.62 500,51.3 500.7,48.6 C501.4,45.9 502.3,43.38 503.5,41 C504.7,38.62 506.73,36.22 507.9,34.3 C509.07,32.38 509.67,30.82 510.5,29.5 C511.33,28.18 511.9,26.4 512.9,26.4Z" fill="url(#furC)"/>
<g clip-path="url(#mc2)">
<g filter="url(#soft3)">
<ellipse cx="533.45" cy="97.66" rx="5.68" ry="6.5" fill="#4a4446" transform="rotate(3.68 533.45 97.66)" opacity="0.4"/>
<ellipse cx="520.02" cy="44.47" rx="3.58" ry="8.67" fill="#4a4446" transform="rotate(-11.16 520.02 44.47)" opacity="0.41"/>
<ellipse cx="502.84" cy="41.58" rx="5.13" ry="8.53" fill="#4a4446" transform="rotate(0.51 502.84 41.58)" opacity="0.48"/>
<ellipse cx="514.21" cy="39.74" rx="5.35" ry="9.53" fill="#4a4446" transform="rotate(6.32 514.21 39.74)" opacity="0.45"/>
<ellipse cx="535" cy="59.58" rx="5.28" ry="8.21" fill="#4a4446" transform="rotate(2.88 535 59.58)" opacity="0.46"/>
<ellipse cx="512.69" cy="41.57" rx="4.42" ry="10.31" fill="#4a4446" transform="rotate(3.62 512.69 41.57)" opacity="0.41"/>
<ellipse cx="523.84" cy="47.83" rx="3.54" ry="7.94" fill="#4a4446" transform="rotate(12.63 523.84 47.83)" opacity="0.35"/>
<ellipse cx="505.89" cy="42.41" rx="3.12" ry="7.65" fill="#4a4446" transform="rotate(2.91 505.89 42.41)" opacity="0.5"/>
<ellipse cx="513.25" cy="60.03" rx="3.87" ry="7.83" fill="#4a4446" transform="rotate(11.1 513.25 60.03)" opacity="0.43"/>
</g><g filter="url(#soft2)">
<ellipse cx="508.85" cy="34.89" rx="1.13" ry="3.77" fill="#4a4446" transform="rotate(16.43 508.85 34.89)" opacity="0.33"/>
<ellipse cx="520.91" cy="102.26" rx="0.97" ry="4.36" fill="#4a4446" transform="rotate(-16.64 520.91 102.26)" opacity="0.59"/>
<ellipse cx="500.35" cy="60.55" rx="0.52" ry="4.02" fill="#4a4446" transform="rotate(9.36 500.35 60.55)" opacity="0.59"/>
<ellipse cx="531.81" cy="104.75" rx="0.93" ry="4.47" fill="#4a4446" transform="rotate(12.45 531.81 104.75)" opacity="0.36"/>
<ellipse cx="538.92" cy="57.29" rx="0.65" ry="2.19" fill="#4a4446" transform="rotate(-1.7 538.92 57.29)" opacity="0.31"/>
<ellipse cx="537.21" cy="104.89" rx="0.67" ry="2.26" fill="#4a4446" transform="rotate(1.45 537.21 104.89)" opacity="0.3"/>
<ellipse cx="520.83" cy="93.47" rx="0.7" ry="3.05" fill="#4a4446" transform="rotate(20.04 520.83 93.47)" opacity="0.4"/>
<ellipse cx="512.4" cy="100.06" rx="1.15" ry="4.24" fill="#4a4446" transform="rotate(9.39 512.4 100.06)" opacity="0.39"/>
<ellipse cx="527.11" cy="94.88" rx="1.01" ry="2.6" fill="#4a4446" transform="rotate(-10.24 527.11 94.88)" opacity="0.39"/>
<ellipse cx="530.41" cy="72.24" rx="0.94" ry="4.07" fill="#4a4446" transform="rotate(-19.58 530.41 72.24)" opacity="0.47"/>
<ellipse cx="511.97" cy="72.43" rx="1.17" ry="2.62" fill="#4a4446" transform="rotate(22.58 511.97 72.43)" opacity="0.27"/>
<ellipse cx="521.6" cy="70.97" rx="0.69" ry="3.4" fill="#4a4446" transform="rotate(-1.46 521.6 70.97)" opacity="0.4"/>
<ellipse cx="528.17" cy="26.33" rx="0.8" ry="3.96" fill="#4a4446" transform="rotate(-17.91 528.17 26.33)" opacity="0.55"/>
<ellipse cx="506.55" cy="82.53" rx="0.64" ry="3.12" fill="#4a4446" transform="rotate(-3.87 506.55 82.53)" opacity="0.27"/>
<ellipse cx="527.38" cy="65.85" rx="1.05" ry="3.35" fill="#4a4446" transform="rotate(2.79 527.38 65.85)" opacity="0.43"/>
<ellipse cx="510.51" cy="100.6" rx="0.57" ry="4.19" fill="#4a4446" transform="rotate(18.17 510.51 100.6)" opacity="0.42"/>
<ellipse cx="530.63" cy="81.89" rx="0.98" ry="2.73" fill="#4a4446" transform="rotate(-9.02 530.63 81.89)" opacity="0.37"/>
<ellipse cx="510.69" cy="105.66" rx="0.77" ry="2.97" fill="#4a4446" transform="rotate(-4.02 510.69 105.66)" opacity="0.53"/>
<ellipse cx="518.07" cy="71.96" rx="0.7" ry="2.7" fill="#4a4446" transform="rotate(-20.55 518.07 71.96)" opacity="0.32"/>
<ellipse cx="509.08" cy="96.74" rx="0.9" ry="2.28" fill="#4a4446" transform="rotate(-1.86 509.08 96.74)" opacity="0.28"/>
<ellipse cx="521.77" cy="62.7" rx="1.19" ry="2.65" fill="#4a4446" transform="rotate(17.54 521.77 62.7)" opacity="0.33"/>
<ellipse cx="539.27" cy="78.64" rx="0.53" ry="4.02" fill="#4a4446" transform="rotate(-11.22 539.27 78.64)" opacity="0.37"/>
<ellipse cx="504.16" cy="95.51" rx="0.57" ry="3.85" fill="#4a4446" transform="rotate(-5.21 504.16 95.51)" opacity="0.48"/>
<ellipse cx="510.31" cy="32.5" rx="1.23" ry="3.64" fill="#4a4446" transform="rotate(-16.52 510.31 32.5)" opacity="0.59"/>
<ellipse cx="536.3" cy="41.16" rx="0.52" ry="3.53" fill="#4a4446" transform="rotate(-18.04 536.3 41.16)" opacity="0.5"/>
<ellipse cx="517.69" cy="84.85" rx="0.96" ry="3.93" fill="#4a4446" transform="rotate(16.08 517.69 84.85)" opacity="0.46"/>
<ellipse cx="522.84" cy="53.13" rx="0.61" ry="2.23" fill="#4a4446" transform="rotate(17.85 522.84 53.13)" opacity="0.31"/>
<ellipse cx="515.92" cy="52.29" rx="1" ry="3.33" fill="#4a4446" transform="rotate(17.95 515.92 52.29)" opacity="0.4"/>
<ellipse cx="513.2" cy="80.05" rx="1.1" ry="4.31" fill="#4a4446" transform="rotate(-9.41 513.2 80.05)" opacity="0.56"/>
<ellipse cx="539.22" cy="107.54" rx="0.6" ry="2.95" fill="#4a4446" transform="rotate(13.7 539.22 107.54)" opacity="0.54"/>
<ellipse cx="499.66" cy="58.79" rx="1.08" ry="3.9" fill="#4a4446" transform="rotate(1.75 499.66 58.79)" opacity="0.32"/>
<ellipse cx="515.09" cy="30.86" rx="0.75" ry="3.07" fill="#4a4446" transform="rotate(16.15 515.09 30.86)" opacity="0.45"/>
<ellipse cx="515.4" cy="46.41" rx="0.75" ry="3.68" fill="#4a4446" transform="rotate(-2.73 515.4 46.41)" opacity="0.3"/>
<ellipse cx="532.51" cy="73.78" rx="1.27" ry="3.34" fill="#4a4446" transform="rotate(6.15 532.51 73.78)" opacity="0.39"/>
<ellipse cx="523.55" cy="102.26" rx="1.29" ry="3.65" fill="#4a4446" transform="rotate(-3.49 523.55 102.26)" opacity="0.26"/>
<ellipse cx="533.29" cy="58.49" rx="0.81" ry="2.14" fill="#4a4446" transform="rotate(-23.29 533.29 58.49)" opacity="0.38"/>
<ellipse cx="538.94" cy="87.47" rx="1.07" ry="3.67" fill="#4a4446" transform="rotate(-11.36 538.94 87.47)" opacity="0.3"/>
<ellipse cx="523.3" cy="31.28" rx="0.97" ry="3.29" fill="#4a4446" transform="rotate(2.12 523.3 31.28)" opacity="0.28"/>
<ellipse cx="500.84" cy="65.28" rx="0.62" ry="3.6" fill="#4a4446" transform="rotate(-9.52 500.84 65.28)" opacity="0.46"/>
<ellipse cx="529.51" cy="76.33" rx="0.93" ry="2.49" fill="#4a4446" transform="rotate(-7.64 529.51 76.33)" opacity="0.59"/>
</g>
</g>
<ellipse cx="504.6" cy="41.5" rx="3.7" ry="4.3" fill="#a47c68"/>
<ellipse cx="525.6" cy="40.4" rx="3.4" ry="4" fill="#ad8774" transform="rotate(-10 525.6 40.4)"/>
<ellipse cx="501.2" cy="43.2" rx="1.1" ry="1" fill="#e8d070"/>
</g>
<text x="559.3" y="10.8" font-size="10.8" font-weight="bold" fill="#111">D</text>
<circle cx="598.4" cy="14.6" r="3.5" fill="none" stroke="#111" stroke-width="1.15"/>
<line x1="598.4" y1="18.1" x2="598.4" y2="24.9" stroke="#111" stroke-width="1.15"/>
<line x1="594.9" y1="21.3" x2="601.9" y2="21.3" stroke="#111" stroke-width="1.15"/>
<line x1="585.5" y1="18.1" x2="585.5" y2="139" stroke="#1f1f1f" stroke-width="1.25"/>
<line x1="580.7" y1="138.4" x2="585.5" y2="138.4" stroke="#1f1f1f" stroke-width="1.1"/>
<text x="579.4" y="141.03" font-size="7.3" text-anchor="end" fill="#1e1e1e">15</text>
<line x1="580.7" y1="98.5" x2="585.5" y2="98.5" stroke="#1f1f1f" stroke-width="1.1"/>
<text x="579.4" y="101.13" font-size="7.3" text-anchor="end" fill="#1e1e1e">20</text>
<line x1="580.7" y1="58.6" x2="585.5" y2="58.6" stroke="#1f1f1f" stroke-width="1.1"/>
<text x="579.4" y="61.23" font-size="7.3" text-anchor="end" fill="#1e1e1e">25</text>
<line x1="580.7" y1="18.7" x2="585.5" y2="18.7" stroke="#1f1f1f" stroke-width="1.1"/>
<text x="579.4" y="21.33" font-size="7.3" text-anchor="end" fill="#1e1e1e">30</text>
<line x1="584.9" y1="138.4" x2="705.4" y2="138.4" stroke="#1f1f1f" stroke-width="1.25"/>
<line x1="585.5" y1="138.4" x2="585.5" y2="143.2" stroke="#1f1f1f" stroke-width="1.1"/>
<text x="585.5" y="151.8" font-size="7.2" text-anchor="middle" fill="#1e1e1e">0</text>
<line x1="596.4" y1="138.4" x2="596.4" y2="143.2" stroke="#1f1f1f" stroke-width="1.1"/>
<text x="596.4" y="151.8" font-size="7.2" text-anchor="middle" fill="#1e1e1e">1</text>
<line x1="607.3" y1="138.4" x2="607.3" y2="143.2" stroke="#1f1f1f" stroke-width="1.1"/>
<text x="607.3" y="151.8" font-size="7.2" text-anchor="middle" fill="#1e1e1e">2</text>
<line x1="618.2" y1="138.4" x2="618.2" y2="143.2" stroke="#1f1f1f" stroke-width="1.1"/>
<text x="618.2" y="151.8" font-size="7.2" text-anchor="middle" fill="#1e1e1e">3</text>
<line x1="629.1" y1="138.4" x2="629.1" y2="143.2" stroke="#1f1f1f" stroke-width="1.1"/>
<text x="629.1" y="151.8" font-size="7.2" text-anchor="middle" fill="#1e1e1e">4</text>
<line x1="640" y1="138.4" x2="640" y2="143.2" stroke="#1f1f1f" stroke-width="1.1"/>
<text x="640" y="151.8" font-size="7.2" text-anchor="middle" fill="#1e1e1e">5</text>
<line x1="650.9" y1="138.4" x2="650.9" y2="143.2" stroke="#1f1f1f" stroke-width="1.1"/>
<text x="650.9" y="151.8" font-size="7.2" text-anchor="middle" fill="#1e1e1e">6</text>
<line x1="661.8" y1="138.4" x2="661.8" y2="143.2" stroke="#1f1f1f" stroke-width="1.1"/>
<text x="661.8" y="151.8" font-size="7.2" text-anchor="middle" fill="#1e1e1e">7</text>
<line x1="672.7" y1="138.4" x2="672.7" y2="143.2" stroke="#1f1f1f" stroke-width="1.1"/>
<text x="672.7" y="151.8" font-size="7.2" text-anchor="middle" fill="#1e1e1e">8</text>
<line x1="683.6" y1="138.4" x2="683.6" y2="143.2" stroke="#1f1f1f" stroke-width="1.1"/>
<text x="683.6" y="151.8" font-size="7.2" text-anchor="middle" fill="#1e1e1e">9</text>
<line x1="694.5" y1="138.4" x2="694.5" y2="143.2" stroke="#1f1f1f" stroke-width="1.1"/>
<text x="694.5" y="151.8" font-size="7.2" text-anchor="middle" fill="#1e1e1e">10</text>
<line x1="705.4" y1="138.4" x2="705.4" y2="143.2" stroke="#1f1f1f" stroke-width="1.1"/>
<text x="705.4" y="151.8" font-size="7.2" text-anchor="middle" fill="#1e1e1e">11</text>
<text x="645.45" y="165.3" font-size="8.7" text-anchor="middle">Weeks on HFD</text>
<line x1="585.5" y1="88.13" x2="585.5" y2="84.14" stroke="#2b2b2b" stroke-width="1.2"/>
<line x1="583.4" y1="84.14" x2="587.6" y2="84.14" stroke="#2b2b2b" stroke-width="1.2"/>
<line x1="596.4" y1="91.56" x2="596.4" y2="88.13" stroke="#2b2b2b" stroke-width="1.2"/>
<line x1="594.3" y1="88.13" x2="598.5" y2="88.13" stroke="#2b2b2b" stroke-width="1.2"/>
<line x1="607.3" y1="89.48" x2="607.3" y2="85.73" stroke="#2b2b2b" stroke-width="1.2"/>
<line x1="605.2" y1="85.73" x2="609.4" y2="85.73" stroke="#2b2b2b" stroke-width="1.2"/>
<line x1="618.2" y1="81.42" x2="618.2" y2="76.95" stroke="#2b2b2b" stroke-width="1.2"/>
<line x1="616.1" y1="76.95" x2="620.3" y2="76.95" stroke="#2b2b2b" stroke-width="1.2"/>
<line x1="629.1" y1="81.18" x2="629.1" y2="77.27" stroke="#2b2b2b" stroke-width="1.2"/>
<line x1="627" y1="77.27" x2="631.2" y2="77.27" stroke="#2b2b2b" stroke-width="1.2"/>
<line x1="640" y1="68.18" x2="640" y2="61.39" stroke="#2b2b2b" stroke-width="1.2"/>
<line x1="637.9" y1="61.39" x2="642.1" y2="61.39" stroke="#2b2b2b" stroke-width="1.2"/>
<line x1="650.9" y1="71.85" x2="650.9" y2="67.14" stroke="#2b2b2b" stroke-width="1.2"/>
<line x1="648.8" y1="67.14" x2="653" y2="67.14" stroke="#2b2b2b" stroke-width="1.2"/>
<line x1="661.8" y1="60.59" x2="661.8" y2="54.93" stroke="#2b2b2b" stroke-width="1.2"/>
<line x1="659.7" y1="54.93" x2="663.9" y2="54.93" stroke="#2b2b2b" stroke-width="1.2"/>
<line x1="672.7" y1="38.65" x2="672.7" y2="27.48" stroke="#2b2b2b" stroke-width="1.2"/>
<line x1="670.6" y1="27.48" x2="674.8" y2="27.48" stroke="#2b2b2b" stroke-width="1.2"/>
<line x1="683.6" y1="53.81" x2="683.6" y2="43.76" stroke="#2b2b2b" stroke-width="1.2"/>
<line x1="681.5" y1="43.76" x2="685.7" y2="43.76" stroke="#2b2b2b" stroke-width="1.2"/>
<line x1="694.5" y1="52.22" x2="694.5" y2="44.24" stroke="#2b2b2b" stroke-width="1.2"/>
<line x1="692.4" y1="44.24" x2="696.6" y2="44.24" stroke="#2b2b2b" stroke-width="1.2"/>
<line x1="705.4" y1="49.02" x2="705.4" y2="41.04" stroke="#2b2b2b" stroke-width="1.2"/>
<line x1="703.3" y1="41.04" x2="707.5" y2="41.04" stroke="#2b2b2b" stroke-width="1.2"/>
<polyline points="585.5,88.13 596.4,91.56 607.3,89.48 618.2,81.42 629.1,81.18 640,68.18 650.9,71.85 661.8,60.59 672.7,38.65 683.6,53.81 694.5,52.22 705.4,49.02" stroke="#2b2b2b" stroke-width="1.3" fill="none" stroke-linejoin="round"/>
<circle cx="585.5" cy="88.13" r="2.2" fill="#2b2b2b"/>
<circle cx="596.4" cy="91.56" r="2.2" fill="#2b2b2b"/>
<circle cx="607.3" cy="89.48" r="2.2" fill="#2b2b2b"/>
<circle cx="618.2" cy="81.42" r="2.2" fill="#2b2b2b"/>
<circle cx="629.1" cy="81.18" r="2.2" fill="#2b2b2b"/>
<circle cx="640" cy="68.18" r="2.2" fill="#2b2b2b"/>
<circle cx="650.9" cy="71.85" r="2.2" fill="#2b2b2b"/>
<circle cx="661.8" cy="60.59" r="2.2" fill="#2b2b2b"/>
<circle cx="672.7" cy="38.65" r="2.2" fill="#2b2b2b"/>
<circle cx="683.6" cy="53.81" r="2.2" fill="#2b2b2b"/>
<circle cx="694.5" cy="52.22" r="2.2" fill="#2b2b2b"/>
<circle cx="705.4" cy="49.02" r="2.2" fill="#2b2b2b"/>
<line x1="585.5" y1="105.68" x2="585.5" y2="108.08" stroke="#f03c3c" stroke-width="1.2"/>
<line x1="583.4" y1="108.08" x2="587.6" y2="108.08" stroke="#f03c3c" stroke-width="1.2"/>
<line x1="596.4" y1="103.85" x2="596.4" y2="107.28" stroke="#f03c3c" stroke-width="1.2"/>
<line x1="594.3" y1="107.28" x2="598.5" y2="107.28" stroke="#f03c3c" stroke-width="1.2"/>
<line x1="607.3" y1="101.21" x2="607.3" y2="104.56" stroke="#f03c3c" stroke-width="1.2"/>
<line x1="605.2" y1="104.56" x2="609.4" y2="104.56" stroke="#f03c3c" stroke-width="1.2"/>
<line x1="618.2" y1="96.11" x2="618.2" y2="100.89" stroke="#f03c3c" stroke-width="1.2"/>
<line x1="616.1" y1="100.89" x2="620.3" y2="100.89" stroke="#f03c3c" stroke-width="1.2"/>
<line x1="629.1" y1="95.31" x2="629.1" y2="99.62" stroke="#f03c3c" stroke-width="1.2"/>
<line x1="627" y1="99.62" x2="631.2" y2="99.62" stroke="#f03c3c" stroke-width="1.2"/>
<line x1="640" y1="87.97" x2="640" y2="92.12" stroke="#f03c3c" stroke-width="1.2"/>
<line x1="637.9" y1="92.12" x2="642.1" y2="92.12" stroke="#f03c3c" stroke-width="1.2"/>
<line x1="650.9" y1="87.97" x2="650.9" y2="92.59" stroke="#f03c3c" stroke-width="1.2"/>
<line x1="648.8" y1="92.59" x2="653" y2="92.59" stroke="#f03c3c" stroke-width="1.2"/>
<line x1="661.8" y1="80.94" x2="661.8" y2="85.89" stroke="#f03c3c" stroke-width="1.2"/>
<line x1="659.7" y1="85.89" x2="663.9" y2="85.89" stroke="#f03c3c" stroke-width="1.2"/>
<line x1="672.7" y1="72.17" x2="672.7" y2="77.51" stroke="#f03c3c" stroke-width="1.2"/>
<line x1="670.6" y1="77.51" x2="674.8" y2="77.51" stroke="#f03c3c" stroke-width="1.2"/>
<line x1="683.6" y1="71.85" x2="683.6" y2="76.95" stroke="#f03c3c" stroke-width="1.2"/>
<line x1="681.5" y1="76.95" x2="685.7" y2="76.95" stroke="#f03c3c" stroke-width="1.2"/>
<line x1="694.5" y1="76.16" x2="694.5" y2="80.94" stroke="#f03c3c" stroke-width="1.2"/>
<line x1="692.4" y1="80.94" x2="696.6" y2="80.94" stroke="#f03c3c" stroke-width="1.2"/>
<line x1="705.4" y1="80.94" x2="705.4" y2="86.53" stroke="#f03c3c" stroke-width="1.2"/>
<line x1="703.3" y1="86.53" x2="707.5" y2="86.53" stroke="#f03c3c" stroke-width="1.2"/>
<polyline points="585.5,105.68 596.4,103.85 607.3,101.21 618.2,96.11 629.1,95.31 640,87.97 650.9,87.97 661.8,80.94 672.7,72.17 683.6,71.85 694.5,76.16 705.4,80.94" stroke="#f03c3c" stroke-width="1.3" fill="none" stroke-linejoin="round"/>
<circle cx="585.5" cy="105.68" r="2.2" fill="#f03c3c"/>
<circle cx="596.4" cy="103.85" r="2.2" fill="#f03c3c"/>
<circle cx="607.3" cy="101.21" r="2.2" fill="#f03c3c"/>
<circle cx="618.2" cy="96.11" r="2.2" fill="#f03c3c"/>
<circle cx="629.1" cy="95.31" r="2.2" fill="#f03c3c"/>
<circle cx="640" cy="87.97" r="2.2" fill="#f03c3c"/>
<circle cx="650.9" cy="87.97" r="2.2" fill="#f03c3c"/>
<circle cx="661.8" cy="80.94" r="2.2" fill="#f03c3c"/>
<circle cx="672.7" cy="72.17" r="2.2" fill="#f03c3c"/>
<circle cx="683.6" cy="71.85" r="2.2" fill="#f03c3c"/>
<circle cx="694.5" cy="76.16" r="2.2" fill="#f03c3c"/>
<circle cx="705.4" cy="80.94" r="2.2" fill="#f03c3c"/>
<text x="565" y="78.5" font-size="8.7" text-anchor="middle" transform="rotate(-90 565 78.5)">Body weight (g)</text>
<line x1="680.7" y1="111.4" x2="693.7" y2="111.4" stroke="#2b2b2b" stroke-width="1.3"/>
<circle cx="687.2" cy="111.4" r="2.3" fill="#2b2b2b"/>
<text x="700.5" y="114.14" font-size="7.6">WT ( <tspan font-style="italic">n</tspan> = 13 )</text>
<line x1="680.2" y1="123.9" x2="692.9" y2="123.9" stroke="#f03c3c" stroke-width="1.3"/>
<circle cx="686.55" cy="123.9" r="2.3" fill="#f03c3c"/>
<text x="700" y="126.64" font-size="7.6">KO ( <tspan font-style="italic">n</tspan> = 11 )</text>
<polyline points="714.6,40.3 720.6,40.3 720.6,85.8 714.6,85.8" stroke="#1f1f1f" stroke-width="1.2" fill="none"/>
<text x="727.4" y="64.5" font-size="8.4" fill="#1a1a1a"><tspan font-style="italic">P</tspan> &lt; 0.0001</text>
<text x="1" y="200.2" font-size="10.8" font-weight="bold" fill="#111">E</text>
<line x1="26.8" y1="206.8" x2="26.8" y2="328.9" stroke="#1f1f1f" stroke-width="1.25"/>
<line x1="22" y1="319.5" x2="26.8" y2="319.5" stroke="#1f1f1f" stroke-width="1.1"/>
<text x="20.7" y="322.13" font-size="7.3" text-anchor="end" fill="#1e1e1e">0</text>
<line x1="22" y1="303.5" x2="26.8" y2="303.5" stroke="#1f1f1f" stroke-width="1.1"/>
<text x="20.7" y="306.13" font-size="7.3" text-anchor="end" fill="#1e1e1e">1</text>
<line x1="22" y1="287.5" x2="26.8" y2="287.5" stroke="#1f1f1f" stroke-width="1.1"/>
<text x="20.7" y="290.13" font-size="7.3" text-anchor="end" fill="#1e1e1e">2</text>
<line x1="22" y1="271.5" x2="26.8" y2="271.5" stroke="#1f1f1f" stroke-width="1.1"/>
<text x="20.7" y="274.13" font-size="7.3" text-anchor="end" fill="#1e1e1e">3</text>
<line x1="22" y1="255.5" x2="26.8" y2="255.5" stroke="#1f1f1f" stroke-width="1.1"/>
<text x="20.7" y="258.13" font-size="7.3" text-anchor="end" fill="#1e1e1e">4</text>
<line x1="22" y1="239.5" x2="26.8" y2="239.5" stroke="#1f1f1f" stroke-width="1.1"/>
<text x="20.7" y="242.13" font-size="7.3" text-anchor="end" fill="#1e1e1e">5</text>
<line x1="22" y1="223.5" x2="26.8" y2="223.5" stroke="#1f1f1f" stroke-width="1.1"/>
<text x="20.7" y="226.13" font-size="7.3" text-anchor="end" fill="#1e1e1e">6</text>
<line x1="22" y1="207.5" x2="26.8" y2="207.5" stroke="#1f1f1f" stroke-width="1.1"/>
<text x="20.7" y="210.13" font-size="7.3" text-anchor="end" fill="#1e1e1e">7</text>
<line x1="26.2" y1="328.3" x2="146.92" y2="328.3" stroke="#1f1f1f" stroke-width="1.25"/>
<line x1="26.8" y1="328.3" x2="26.8" y2="333.1" stroke="#1f1f1f" stroke-width="1.1"/>
<text x="26.8" y="340.9" font-size="7.2" text-anchor="middle" fill="#1e1e1e">0</text>
<line x1="37.72" y1="328.3" x2="37.72" y2="333.1" stroke="#1f1f1f" stroke-width="1.1"/>
<text x="37.72" y="340.9" font-size="7.2" text-anchor="middle" fill="#1e1e1e">1</text>
<line x1="48.64" y1="328.3" x2="48.64" y2="333.1" stroke="#1f1f1f" stroke-width="1.1"/>
<text x="48.64" y="340.9" font-size="7.2" text-anchor="middle" fill="#1e1e1e">2</text>
<line x1="59.56" y1="328.3" x2="59.56" y2="333.1" stroke="#1f1f1f" stroke-width="1.1"/>
<text x="59.56" y="340.9" font-size="7.2" text-anchor="middle" fill="#1e1e1e">3</text>
<line x1="70.48" y1="328.3" x2="70.48" y2="333.1" stroke="#1f1f1f" stroke-width="1.1"/>
<text x="70.48" y="340.9" font-size="7.2" text-anchor="middle" fill="#1e1e1e">4</text>
<line x1="81.4" y1="328.3" x2="81.4" y2="333.1" stroke="#1f1f1f" stroke-width="1.1"/>
<text x="81.4" y="340.9" font-size="7.2" text-anchor="middle" fill="#1e1e1e">5</text>
<line x1="92.32" y1="328.3" x2="92.32" y2="333.1" stroke="#1f1f1f" stroke-width="1.1"/>
<text x="92.32" y="340.9" font-size="7.2" text-anchor="middle" fill="#1e1e1e">6</text>
<line x1="103.24" y1="328.3" x2="103.24" y2="333.1" stroke="#1f1f1f" stroke-width="1.1"/>
<text x="103.24" y="340.9" font-size="7.2" text-anchor="middle" fill="#1e1e1e">7</text>
<line x1="114.16" y1="328.3" x2="114.16" y2="333.1" stroke="#1f1f1f" stroke-width="1.1"/>
<text x="114.16" y="340.9" font-size="7.2" text-anchor="middle" fill="#1e1e1e">8</text>
<line x1="125.08" y1="328.3" x2="125.08" y2="333.1" stroke="#1f1f1f" stroke-width="1.1"/>
<text x="125.08" y="340.9" font-size="7.2" text-anchor="middle" fill="#1e1e1e">9</text>
<line x1="136" y1="328.3" x2="136" y2="333.1" stroke="#1f1f1f" stroke-width="1.1"/>
<text x="136" y="340.9" font-size="7.2" text-anchor="middle" fill="#1e1e1e">10</text>
<line x1="146.92" y1="328.3" x2="146.92" y2="333.1" stroke="#1f1f1f" stroke-width="1.1"/>
<text x="146.92" y="340.9" font-size="7.2" text-anchor="middle" fill="#1e1e1e">11</text>
<text x="86.86" y="354" font-size="8.7" text-anchor="middle">Weeks on HFD</text>
<line x1="37.72" y1="326.86" x2="37.72" y2="322.06" stroke="#2b2b2b" stroke-width="1.2"/>
<line x1="35.62" y1="322.06" x2="39.82" y2="322.06" stroke="#2b2b2b" stroke-width="1.2"/>
<line x1="48.64" y1="322.7" x2="48.64" y2="317.9" stroke="#2b2b2b" stroke-width="1.2"/>
<line x1="46.54" y1="317.9" x2="50.74" y2="317.9" stroke="#2b2b2b" stroke-width="1.2"/>
<line x1="59.56" y1="307.34" x2="59.56" y2="297.58" stroke="#2b2b2b" stroke-width="1.2"/>
<line x1="57.46" y1="297.58" x2="61.66" y2="297.58" stroke="#2b2b2b" stroke-width="1.2"/>
<line x1="70.48" y1="306.22" x2="70.48" y2="297.1" stroke="#2b2b2b" stroke-width="1.2"/>
<line x1="68.38" y1="297.1" x2="72.58" y2="297.1" stroke="#2b2b2b" stroke-width="1.2"/>
<line x1="81.4" y1="280.46" x2="81.4" y2="268.46" stroke="#2b2b2b" stroke-width="1.2"/>
<line x1="79.3" y1="268.46" x2="83.5" y2="268.46" stroke="#2b2b2b" stroke-width="1.2"/>
<line x1="92.32" y1="287.82" x2="92.32" y2="279.5" stroke="#2b2b2b" stroke-width="1.2"/>
<line x1="90.22" y1="279.5" x2="94.42" y2="279.5" stroke="#2b2b2b" stroke-width="1.2"/>
<line x1="103.24" y1="265.58" x2="103.24" y2="253.9" stroke="#2b2b2b" stroke-width="1.2"/>
<line x1="101.14" y1="253.9" x2="105.34" y2="253.9" stroke="#2b2b2b" stroke-width="1.2"/>
<line x1="114.16" y1="233.1" x2="114.16" y2="215.5" stroke="#2b2b2b" stroke-width="1.2"/>
<line x1="112.06" y1="215.5" x2="116.26" y2="215.5" stroke="#2b2b2b" stroke-width="1.2"/>
<line x1="125.08" y1="251.66" x2="125.08" y2="234.38" stroke="#2b2b2b" stroke-width="1.2"/>
<line x1="122.98" y1="234.38" x2="127.18" y2="234.38" stroke="#2b2b2b" stroke-width="1.2"/>
<line x1="136" y1="248.46" x2="136" y2="234.7" stroke="#2b2b2b" stroke-width="1.2"/>
<line x1="133.9" y1="234.7" x2="138.1" y2="234.7" stroke="#2b2b2b" stroke-width="1.2"/>
<line x1="146.92" y1="242.54" x2="146.92" y2="227.66" stroke="#2b2b2b" stroke-width="1.2"/>
<line x1="144.82" y1="227.66" x2="149.02" y2="227.66" stroke="#2b2b2b" stroke-width="1.2"/>
<line x1="37.72" y1="316.3" x2="37.72" y2="318.7" stroke="#f03c3c" stroke-width="1.2"/>
<line x1="35.62" y1="318.7" x2="39.82" y2="318.7" stroke="#f03c3c" stroke-width="1.2"/>
<line x1="48.64" y1="311.5" x2="48.64" y2="315.82" stroke="#f03c3c" stroke-width="1.2"/>
<line x1="46.54" y1="315.82" x2="50.74" y2="315.82" stroke="#f03c3c" stroke-width="1.2"/>
<line x1="59.56" y1="301.1" x2="59.56" y2="303.5" stroke="#f03c3c" stroke-width="1.2"/>
<line x1="57.46" y1="303.5" x2="61.66" y2="303.5" stroke="#f03c3c" stroke-width="1.2"/>
<line x1="70.48" y1="299.18" x2="70.48" y2="302.38" stroke="#f03c3c" stroke-width="1.2"/>
<line x1="68.38" y1="302.38" x2="72.58" y2="302.38" stroke="#f03c3c" stroke-width="1.2"/>
<line x1="81.4" y1="284.62" x2="81.4" y2="291.18" stroke="#f03c3c" stroke-width="1.2"/>
<line x1="79.3" y1="291.18" x2="83.5" y2="291.18" stroke="#f03c3c" stroke-width="1.2"/>
<line x1="92.32" y1="284.3" x2="92.32" y2="290.7" stroke="#f03c3c" stroke-width="1.2"/>
<line x1="90.22" y1="290.7" x2="94.42" y2="290.7" stroke="#f03c3c" stroke-width="1.2"/>
<line x1="103.24" y1="270.06" x2="103.24" y2="276.78" stroke="#f03c3c" stroke-width="1.2"/>
<line x1="101.14" y1="276.78" x2="105.34" y2="276.78" stroke="#f03c3c" stroke-width="1.2"/>
<line x1="114.16" y1="252.3" x2="114.16" y2="263.34" stroke="#f03c3c" stroke-width="1.2"/>
<line x1="112.06" y1="263.34" x2="116.26" y2="263.34" stroke="#f03c3c" stroke-width="1.2"/>
<line x1="125.08" y1="251.66" x2="125.08" y2="260.78" stroke="#f03c3c" stroke-width="1.2"/>
<line x1="122.98" y1="260.78" x2="127.18" y2="260.78" stroke="#f03c3c" stroke-width="1.2"/>
<line x1="136" y1="260.94" x2="136" y2="267.98" stroke="#f03c3c" stroke-width="1.2"/>
<line x1="133.9" y1="267.98" x2="138.1" y2="267.98" stroke="#f03c3c" stroke-width="1.2"/>
<line x1="146.92" y1="271.66" x2="146.92" y2="281.26" stroke="#f03c3c" stroke-width="1.2"/>
<line x1="144.82" y1="281.26" x2="149.02" y2="281.26" stroke="#f03c3c" stroke-width="1.2"/>
<polyline points="26.8,319.5 37.72,326.86 48.64,322.7 59.56,307.34 70.48,306.22 81.4,280.46 92.32,287.82 103.24,265.58 114.16,233.1 125.08,251.66 136,248.46 146.92,242.54" stroke="#2b2b2b" stroke-width="1.3" fill="none" stroke-linejoin="round"/>
<circle cx="26.8" cy="319.5" r="2.2" fill="#2b2b2b"/>
<circle cx="37.72" cy="326.86" r="2.2" fill="#2b2b2b"/>
<circle cx="48.64" cy="322.7" r="2.2" fill="#2b2b2b"/>
<circle cx="59.56" cy="307.34" r="2.2" fill="#2b2b2b"/>
<circle cx="70.48" cy="306.22" r="2.2" fill="#2b2b2b"/>
<circle cx="81.4" cy="280.46" r="2.2" fill="#2b2b2b"/>
<circle cx="92.32" cy="287.82" r="2.2" fill="#2b2b2b"/>
<circle cx="103.24" cy="265.58" r="2.2" fill="#2b2b2b"/>
<circle cx="114.16" cy="233.1" r="2.2" fill="#2b2b2b"/>
<circle cx="125.08" cy="251.66" r="2.2" fill="#2b2b2b"/>
<circle cx="136" cy="248.46" r="2.2" fill="#2b2b2b"/>
<circle cx="146.92" cy="242.54" r="2.2" fill="#2b2b2b"/>
<polyline points="26.8,319.5 37.72,316.3 48.64,311.5 59.56,301.1 70.48,299.18 81.4,284.62 92.32,284.3 103.24,270.06 114.16,252.3 125.08,251.66 136,260.94 146.92,271.66" stroke="#f03c3c" stroke-width="1.3" fill="none" stroke-linejoin="round"/>
<circle cx="26.8" cy="319.5" r="2.2" fill="#f03c3c"/>
<circle cx="37.72" cy="316.3" r="2.2" fill="#f03c3c"/>
<circle cx="48.64" cy="311.5" r="2.2" fill="#f03c3c"/>
<circle cx="59.56" cy="301.1" r="2.2" fill="#f03c3c"/>
<circle cx="70.48" cy="299.18" r="2.2" fill="#f03c3c"/>
<circle cx="81.4" cy="284.62" r="2.2" fill="#f03c3c"/>
<circle cx="92.32" cy="284.3" r="2.2" fill="#f03c3c"/>
<circle cx="103.24" cy="270.06" r="2.2" fill="#f03c3c"/>
<circle cx="114.16" cy="252.3" r="2.2" fill="#f03c3c"/>
<circle cx="125.08" cy="251.66" r="2.2" fill="#f03c3c"/>
<circle cx="136" cy="260.94" r="2.2" fill="#f03c3c"/>
<circle cx="146.92" cy="271.66" r="2.2" fill="#f03c3c"/>
<text x="7.6" y="268" font-size="8.7" text-anchor="middle" transform="rotate(-90 7.6 268)">Weight gain (g)</text>
<line x1="97.9" y1="303.5" x2="110.6" y2="303.5" stroke="#2b2b2b" stroke-width="1.3"/>
<circle cx="104.25" cy="303.5" r="2.3" fill="#2b2b2b"/>
<text x="117.7" y="306.24" font-size="7.6">WT ( <tspan font-style="italic">n</tspan> = 13 )</text>
<line x1="97.9" y1="313.9" x2="110.6" y2="313.9" stroke="#f03c3c" stroke-width="1.3"/>
<circle cx="104.25" cy="313.9" r="2.3" fill="#f03c3c"/>
<text x="117.7" y="316.64" font-size="7.6">KO ( <tspan font-style="italic">n</tspan> = 17 )</text>
<path d="M146.9,216.4L146.9,213.4M146.9,216.4L149.75,215.47M146.9,216.4L148.66,218.83M146.9,216.4L145.14,218.83M146.9,216.4L144.05,215.47" stroke="#111" stroke-width="1.35" stroke-linecap="round" fill="none"/>
<text x="168.8" y="200.2" font-size="10.8" font-weight="bold" fill="#111">F</text>
<text x="211.1" y="205.6" font-size="9.2" text-anchor="middle">WT</text>
<text x="257" y="205.6" font-size="9.2" text-anchor="middle">KO</text>
<text x="236.8" y="343.2" font-size="9.2" text-anchor="middle">Female</text>
<rect x="183.1" y="211" width="103" height="118.7" fill="url(#bgF)"/>
<g filter="url(#soft3)" opacity="0.3">
<path d="M240.5,255 C239.92,255.83 238.08,277.83 238.5,285 C238.92,292.17 240.25,294.5 243,298 C245.75,301.5 252.67,300.83 255,306 C257.33,311.17 256.33,325.17 257,329 C257.67,332.83 258.67,333 259,329 C259.33,325 261.17,310.67 259,305 C256.83,299.33 248.83,299.17 246,295 C243.17,290.83 242.92,286.67 242,280 C241.08,273.33 241.08,254.17 240.5,255Z" fill="#9aa0b0"/>
</g>
<g filter="url(#soft)">
<path d="M210.2,304.5 C210.72,305.95 212.32,310.6 213.3,313.2 C214.28,315.8 215.52,317.45 216.1,320.1 C216.68,322.75 216.68,327.6 216.8,329.1" fill="none" stroke="#7a5a50" stroke-width="3" stroke-linecap="round"/>
<path d="M193.3,302.6 C192.67,303.42 190.75,305.73 189.5,307.5 C188.25,309.27 186.42,312.25 185.8,313.2" fill="none" stroke="#c48c84" stroke-width="3.4" stroke-linecap="round" stroke-linejoin="round"/>
<path d="M230.2,288 C230.37,288.53 231.1,290.07 231.2,291.2 C231.3,292.33 230.87,294.2 230.8,294.8" fill="none" stroke="#d09a90" stroke-width="3.8" stroke-linecap="round" stroke-linejoin="round"/>
<ellipse cx="216.8" cy="306.2" rx="4" ry="2.2" fill="#e6e2c8"/>
<clipPath id="mf1"><path d="M214.7,214.8 C216.95,214.55 217.47,214.77 218.5,215 C219.53,215.23 220.23,215.37 220.9,216.2 C221.57,217.03 221.98,218.53 222.5,220 C223.02,221.47 223.35,223 224,225 C224.65,227 225.77,229.33 226.4,232 C227.03,234.67 227.33,236.63 227.8,241 C228.27,245.37 228.85,253.37 229.2,258.2 C229.55,263.03 229.57,266.8 229.9,270 C230.23,273.2 231.08,274.22 231.2,277.4 C231.32,280.58 231.52,285.42 230.6,289.1 C229.68,292.78 227.67,296.97 225.7,299.5 C223.73,302.03 221.32,303.27 218.8,304.3 C216.28,305.33 212.78,305.47 210.6,305.7 C208.42,305.93 208,306.05 205.7,305.7 C203.4,305.35 199.2,304.63 196.8,303.6 C194.4,302.57 192.68,301.92 191.3,299.5 C189.92,297.08 188.97,293.18 188.5,289.1 C188.03,285.02 188.27,279.52 188.5,275 C188.73,270.48 189.43,266.52 189.9,262 C190.37,257.48 190.62,252.55 191.3,247.9 C191.98,243.25 193.22,237.75 194,234.1 C194.78,230.45 195.18,228.3 196,226 C196.82,223.7 197.4,221.88 198.9,220.3 C200.4,218.72 202.37,217.42 205,216.5 C207.63,215.58 212.45,215.05 214.7,214.8Z"/></clipPath>
<path d="M214.7,214.8 C216.95,214.55 217.47,214.77 218.5,215 C219.53,215.23 220.23,215.37 220.9,216.2 C221.57,217.03 221.98,218.53 222.5,220 C223.02,221.47 223.35,223 224,225 C224.65,227 225.77,229.33 226.4,232 C227.03,234.67 227.33,236.63 227.8,241 C228.27,245.37 228.85,253.37 229.2,258.2 C229.55,263.03 229.57,266.8 229.9,270 C230.23,273.2 231.08,274.22 231.2,277.4 C231.32,280.58 231.52,285.42 230.6,289.1 C229.68,292.78 227.67,296.97 225.7,299.5 C223.73,302.03 221.32,303.27 218.8,304.3 C216.28,305.33 212.78,305.47 210.6,305.7 C208.42,305.93 208,306.05 205.7,305.7 C203.4,305.35 199.2,304.63 196.8,303.6 C194.4,302.57 192.68,301.92 191.3,299.5 C189.92,297.08 188.97,293.18 188.5,289.1 C188.03,285.02 188.27,279.52 188.5,275 C188.73,270.48 189.43,266.52 189.9,262 C190.37,257.48 190.62,252.55 191.3,247.9 C191.98,243.25 193.22,237.75 194,234.1 C194.78,230.45 195.18,228.3 196,226 C196.82,223.7 197.4,221.88 198.9,220.3 C200.4,218.72 202.37,217.42 205,216.5 C207.63,215.58 212.45,215.05 214.7,214.8Z" fill="url(#furF)"/>
<g clip-path="url(#mf1)">
<g filter="url(#soft3)">
<ellipse cx="216.55" cy="230.78" rx="4.85" ry="11.05" fill="#5a4a42" transform="rotate(13.38 216.55 230.78)" opacity="0.42"/>
<ellipse cx="214.72" cy="251.32" rx="4.58" ry="6.65" fill="#5a4a42" transform="rotate(7.32 214.72 251.32)" opacity="0.44"/>
<ellipse cx="202.15" cy="252.01" rx="5.21" ry="8.66" fill="#5a4a42" transform="rotate(18.38 202.15 252.01)" opacity="0.53"/>
<ellipse cx="222.18" cy="230.74" rx="3.23" ry="7.73" fill="#5a4a42" transform="rotate(-5.56 222.18 230.74)" opacity="0.47"/>
<ellipse cx="221.77" cy="265.63" rx="4.92" ry="9.44" fill="#5a4a42" transform="rotate(-18.64 221.77 265.63)" opacity="0.43"/>
<ellipse cx="199.68" cy="254.86" rx="3.03" ry="9.93" fill="#5a4a42" transform="rotate(16.41 199.68 254.86)" opacity="0.32"/>
<ellipse cx="212.88" cy="225.74" rx="4.06" ry="6.96" fill="#5a4a42" transform="rotate(14.42 212.88 225.74)" opacity="0.47"/>
<ellipse cx="224.28" cy="240.13" rx="5.16" ry="10.2" fill="#5a4a42" transform="rotate(0.43 224.28 240.13)" opacity="0.52"/>
<ellipse cx="214.5" cy="244.93" rx="5.15" ry="8.89" fill="#5a4a42" transform="rotate(-11.48 214.5 244.93)" opacity="0.45"/>
</g><g filter="url(#soft2)">
<ellipse cx="190.12" cy="255.31" rx="0.95" ry="2.01" fill="#5a4a42" transform="rotate(7.43 190.12 255.31)" opacity="0.27"/>
<ellipse cx="216.59" cy="245.38" rx="0.52" ry="4.5" fill="#5a4a42" transform="rotate(-21.79 216.59 245.38)" opacity="0.3"/>
<ellipse cx="210.25" cy="236.55" rx="0.92" ry="3.19" fill="#5a4a42" transform="rotate(3.83 210.25 236.55)" opacity="0.44"/>
<ellipse cx="200.95" cy="233.45" rx="1.06" ry="3.07" fill="#5a4a42" transform="rotate(1.03 200.95 233.45)" opacity="0.57"/>
<ellipse cx="188.37" cy="239.52" rx="0.95" ry="2.13" fill="#5a4a42" transform="rotate(12.7 188.37 239.52)" opacity="0.38"/>
<ellipse cx="201.92" cy="231.89" rx="1.27" ry="2.12" fill="#5a4a42" transform="rotate(16.07 201.92 231.89)" opacity="0.49"/>
<ellipse cx="227.49" cy="278.51" rx="0.78" ry="3.37" fill="#5a4a42" transform="rotate(21.08 227.49 278.51)" opacity="0.25"/>
<ellipse cx="225.4" cy="275.96" rx="0.66" ry="4.42" fill="#5a4a42" transform="rotate(-10.02 225.4 275.96)" opacity="0.24"/>
<ellipse cx="199.77" cy="261.4" rx="0.52" ry="3.48" fill="#5a4a42" transform="rotate(-2.77 199.77 261.4)" opacity="0.36"/>
<ellipse cx="221.25" cy="270.89" rx="1.27" ry="4.17" fill="#5a4a42" transform="rotate(18.01 221.25 270.89)" opacity="0.58"/>
<ellipse cx="225.4" cy="258.78" rx="0.55" ry="3.12" fill="#5a4a42" transform="rotate(5.98 225.4 258.78)" opacity="0.59"/>
<ellipse cx="216.77" cy="266.83" rx="0.57" ry="3.63" fill="#5a4a42" transform="rotate(-23.15 216.77 266.83)" opacity="0.29"/>
<ellipse cx="189.9" cy="281.41" rx="1.25" ry="3.49" fill="#5a4a42" transform="rotate(-20.63 189.9 281.41)" opacity="0.51"/>
<ellipse cx="195.67" cy="279.27" rx="1.04" ry="4.36" fill="#5a4a42" transform="rotate(-16.73 195.67 279.27)" opacity="0.32"/>
<ellipse cx="202.05" cy="221.04" rx="1.26" ry="3.56" fill="#5a4a42" transform="rotate(-19.69 202.05 221.04)" opacity="0.41"/>
<ellipse cx="192.34" cy="302.65" rx="0.79" ry="2.01" fill="#5a4a42" transform="rotate(12.01 192.34 302.65)" opacity="0.36"/>
<ellipse cx="216.58" cy="285.98" rx="0.56" ry="3.37" fill="#5a4a42" transform="rotate(22.51 216.58 285.98)" opacity="0.32"/>
<ellipse cx="198.97" cy="276.01" rx="0.55" ry="4.05" fill="#5a4a42" transform="rotate(15.1 198.97 276.01)" opacity="0.58"/>
<ellipse cx="224.66" cy="267.4" rx="0.87" ry="3.34" fill="#5a4a42" transform="rotate(6.8 224.66 267.4)" opacity="0.59"/>
<ellipse cx="194.71" cy="259.5" rx="0.86" ry="2.61" fill="#5a4a42" transform="rotate(-16.81 194.71 259.5)" opacity="0.52"/>
<ellipse cx="213.74" cy="277.41" rx="0.71" ry="3.2" fill="#5a4a42" transform="rotate(-17.04 213.74 277.41)" opacity="0.29"/>
<ellipse cx="193.93" cy="273.69" rx="1.18" ry="3.43" fill="#5a4a42" transform="rotate(14 193.93 273.69)" opacity="0.27"/>
<ellipse cx="210.8" cy="226.84" rx="0.92" ry="2.62" fill="#5a4a42" transform="rotate(-12.31 210.8 226.84)" opacity="0.57"/>
<ellipse cx="212.13" cy="236.38" rx="0.89" ry="2.71" fill="#5a4a42" transform="rotate(14.75 212.13 236.38)" opacity="0.38"/>
<ellipse cx="225.06" cy="268.69" rx="1.02" ry="3.52" fill="#5a4a42" transform="rotate(4.32 225.06 268.69)" opacity="0.26"/>
<ellipse cx="222.78" cy="270.49" rx="0.68" ry="3.24" fill="#5a4a42" transform="rotate(22.55 222.78 270.49)" opacity="0.48"/>
<ellipse cx="212.3" cy="262.8" rx="0.56" ry="3.24" fill="#5a4a42" transform="rotate(-3.36 212.3 262.8)" opacity="0.47"/>
<ellipse cx="203.93" cy="227.26" rx="1.18" ry="2.62" fill="#5a4a42" transform="rotate(-13.73 203.93 227.26)" opacity="0.4"/>
<ellipse cx="229.53" cy="278.35" rx="0.61" ry="2.24" fill="#5a4a42" transform="rotate(0.02 229.53 278.35)" opacity="0.26"/>
<ellipse cx="198.01" cy="224.42" rx="1.19" ry="4.21" fill="#5a4a42" transform="rotate(18.45 198.01 224.42)" opacity="0.48"/>
<ellipse cx="189.74" cy="239.31" rx="1.16" ry="2.1" fill="#5a4a42" transform="rotate(-0.08 189.74 239.31)" opacity="0.53"/>
<ellipse cx="199.29" cy="245.91" rx="1.01" ry="3.64" fill="#5a4a42" transform="rotate(-17.34 199.29 245.91)" opacity="0.52"/>
<ellipse cx="191.65" cy="228.78" rx="0.75" ry="2.5" fill="#5a4a42" transform="rotate(-2.21 191.65 228.78)" opacity="0.37"/>
<ellipse cx="219.95" cy="289.12" rx="1.12" ry="4.15" fill="#5a4a42" transform="rotate(-12.37 219.95 289.12)" opacity="0.48"/>
<ellipse cx="222.7" cy="291.05" rx="0.84" ry="4.24" fill="#5a4a42" transform="rotate(-7.04 222.7 291.05)" opacity="0.56"/>
<ellipse cx="217.53" cy="219.94" rx="1.23" ry="3.93" fill="#5a4a42" transform="rotate(2.27 217.53 219.94)" opacity="0.58"/>
<ellipse cx="226.97" cy="287.76" rx="1.11" ry="3.79" fill="#5a4a42" transform="rotate(-19.18 226.97 287.76)" opacity="0.45"/>
<ellipse cx="188.28" cy="260.61" rx="0.64" ry="3.76" fill="#5a4a42" transform="rotate(20.75 188.28 260.61)" opacity="0.31"/>
<ellipse cx="212.69" cy="240.35" rx="1.28" ry="3.24" fill="#5a4a42" transform="rotate(-16.33 212.69 240.35)" opacity="0.47"/>
<ellipse cx="208.52" cy="261.63" rx="0.86" ry="2.39" fill="#5a4a42" transform="rotate(-19.05 208.52 261.63)" opacity="0.46"/>
</g>
</g>
<ellipse cx="193.8" cy="222.4" rx="5.4" ry="3.9" fill="#a07e6c" transform="rotate(-8 193.8 222.4)"/>
<ellipse cx="219.8" cy="230.5" rx="4.6" ry="5.4" fill="#8a6a5c" transform="rotate(30 219.8 230.5)"/>
<ellipse cx="222.8" cy="229.2" rx="1" ry="1" fill="#eadfb0"/>
<path d="M259.5,302.5 C259.5,304.28 259.27,309.68 259.5,313.2 C259.73,316.72 260.43,320.9 260.9,323.6 C261.37,326.3 262.07,328.43 262.3,329.4" fill="none" stroke="#6e4f45" stroke-width="2.9" stroke-linecap="round"/>
<path d="M245.7,296.4 C245.08,297.33 243.03,299.97 242,302 C240.97,304.03 239.92,307.5 239.5,308.6" fill="none" stroke="#c9908a" stroke-width="3.2" stroke-linecap="round" stroke-linejoin="round"/>
<path d="M271.2,297.4 C272.33,297.63 275.82,298.23 278,298.8 C280.18,299.37 283.25,300.47 284.3,300.8" fill="none" stroke="#c28e86" stroke-width="3" stroke-linecap="round" stroke-linejoin="round"/>
<clipPath id="mf2"><path d="M251.9,217.2 C253.1,216.87 254.62,218.25 256,219 C257.38,219.75 258.47,220.33 260.2,221.7 C261.93,223.07 264.77,225.48 266.4,227.2 C268.03,228.92 268.97,229.7 270,232 C271.03,234.3 272.05,237.2 272.6,241 C273.15,244.8 273.3,250.8 273.3,254.8 C273.3,258.8 272.37,261.92 272.6,265 C272.83,268.08 273.95,270.65 274.7,273.3 C275.45,275.95 276.77,278.5 277.1,280.9 C277.43,283.3 277.45,285.18 276.7,287.7 C275.95,290.22 274.55,293.93 272.6,296 C270.65,298.07 267.18,298.9 265,300.1 C262.82,301.3 261.45,303.08 259.5,303.2 C257.55,303.32 255.48,302 253.3,300.8 C251.12,299.6 248.35,297.6 246.4,296 C244.45,294.4 242.75,293.15 241.6,291.2 C240.45,289.25 239.73,286.37 239.5,284.3 C239.27,282.23 239.62,281.18 240.2,278.8 C240.78,276.42 242.37,272.8 243,270 C243.63,267.2 244,264.67 244,262 C244,259.33 243.28,256.35 243,254 C242.72,251.65 242.08,250.4 242.3,247.9 C242.52,245.4 243.38,241.87 244.3,239 C245.22,236.13 247.05,233.7 247.8,230.7 C248.55,227.7 248.12,223.25 248.8,221 C249.48,218.75 250.7,217.53 251.9,217.2Z"/></clipPath>
<path d="M251.9,217.2 C253.1,216.87 254.62,218.25 256,219 C257.38,219.75 258.47,220.33 260.2,221.7 C261.93,223.07 264.77,225.48 266.4,227.2 C268.03,228.92 268.97,229.7 270,232 C271.03,234.3 272.05,237.2 272.6,241 C273.15,244.8 273.3,250.8 273.3,254.8 C273.3,258.8 272.37,261.92 272.6,265 C272.83,268.08 273.95,270.65 274.7,273.3 C275.45,275.95 276.77,278.5 277.1,280.9 C277.43,283.3 277.45,285.18 276.7,287.7 C275.95,290.22 274.55,293.93 272.6,296 C270.65,298.07 267.18,298.9 265,300.1 C262.82,301.3 261.45,303.08 259.5,303.2 C257.55,303.32 255.48,302 253.3,300.8 C251.12,299.6 248.35,297.6 246.4,296 C244.45,294.4 242.75,293.15 241.6,291.2 C240.45,289.25 239.73,286.37 239.5,284.3 C239.27,282.23 239.62,281.18 240.2,278.8 C240.78,276.42 242.37,272.8 243,270 C243.63,267.2 244,264.67 244,262 C244,259.33 243.28,256.35 243,254 C242.72,251.65 242.08,250.4 242.3,247.9 C242.52,245.4 243.38,241.87 244.3,239 C245.22,236.13 247.05,233.7 247.8,230.7 C248.55,227.7 248.12,223.25 248.8,221 C249.48,218.75 250.7,217.53 251.9,217.2Z" fill="url(#furF)"/>
<g clip-path="url(#mf2)">
<g filter="url(#soft3)">
<ellipse cx="250.55" cy="261.65" rx="3.49" ry="10.93" fill="#5a4a42" transform="rotate(-10.74 250.55 261.65)" opacity="0.43"/>
<ellipse cx="271.72" cy="254.42" rx="5.9" ry="10.39" fill="#5a4a42" transform="rotate(1.92 271.72 254.42)" opacity="0.45"/>
<ellipse cx="261.17" cy="251.86" rx="5.99" ry="8.42" fill="#5a4a42" transform="rotate(19.35 261.17 251.86)" opacity="0.5"/>
<ellipse cx="243.88" cy="244.82" rx="4.43" ry="10.89" fill="#5a4a42" transform="rotate(-12.89 243.88 244.82)" opacity="0.45"/>
<ellipse cx="254.38" cy="281.21" rx="5.78" ry="10.57" fill="#5a4a42" transform="rotate(-12.27 254.38 281.21)" opacity="0.48"/>
<ellipse cx="256.58" cy="284.77" rx="4.41" ry="11.44" fill="#5a4a42" transform="rotate(19.45 256.58 284.77)" opacity="0.5"/>
<ellipse cx="268.61" cy="283.51" rx="4.78" ry="7.05" fill="#5a4a42" transform="rotate(19.45 268.61 283.51)" opacity="0.41"/>
<ellipse cx="243.5" cy="256.98" rx="4.24" ry="7.21" fill="#5a4a42" transform="rotate(18.41 243.5 256.98)" opacity="0.33"/>
<ellipse cx="271.03" cy="264.93" rx="3.54" ry="8.15" fill="#5a4a42" transform="rotate(-1.99 271.03 264.93)" opacity="0.33"/>
</g><g filter="url(#soft2)">
<ellipse cx="268.76" cy="273.69" rx="1.29" ry="4.07" fill="#5a4a42" transform="rotate(14.3 268.76 273.69)" opacity="0.6"/>
<ellipse cx="275.34" cy="273.03" rx="0.93" ry="3.31" fill="#5a4a42" transform="rotate(15.69 275.34 273.03)" opacity="0.57"/>
<ellipse cx="271.39" cy="290.01" rx="0.52" ry="3.05" fill="#5a4a42" transform="rotate(-20.64 271.39 290.01)" opacity="0.45"/>
<ellipse cx="261.62" cy="265.78" rx="1.19" ry="2.56" fill="#5a4a42" transform="rotate(11.44 261.62 265.78)" opacity="0.45"/>
<ellipse cx="247.31" cy="302.13" rx="0.54" ry="3.16" fill="#5a4a42" transform="rotate(1.78 247.31 302.13)" opacity="0.45"/>
<ellipse cx="277.3" cy="264.98" rx="1.21" ry="2.74" fill="#5a4a42" transform="rotate(-0.93 277.3 264.98)" opacity="0.29"/>
<ellipse cx="263.95" cy="253.74" rx="1.13" ry="2.28" fill="#5a4a42" transform="rotate(-1.78 263.95 253.74)" opacity="0.59"/>
<ellipse cx="239.44" cy="274.45" rx="1.04" ry="3.81" fill="#5a4a42" transform="rotate(2.87 239.44 274.45)" opacity="0.42"/>
<ellipse cx="276.42" cy="241.64" rx="1.06" ry="3.67" fill="#5a4a42" transform="rotate(11.42 276.42 241.64)" opacity="0.41"/>
<ellipse cx="239.66" cy="284.47" rx="0.72" ry="3.96" fill="#5a4a42" transform="rotate(24.36 239.66 284.47)" opacity="0.52"/>
<ellipse cx="254.71" cy="291.57" rx="0.81" ry="2.8" fill="#5a4a42" transform="rotate(3.55 254.71 291.57)" opacity="0.48"/>
<ellipse cx="265.75" cy="265.08" rx="0.83" ry="3.86" fill="#5a4a42" transform="rotate(-8.78 265.75 265.08)" opacity="0.46"/>
<ellipse cx="239.21" cy="228.39" rx="1.19" ry="2.54" fill="#5a4a42" transform="rotate(-4.36 239.21 228.39)" opacity="0.26"/>
<ellipse cx="268.84" cy="245.57" rx="0.54" ry="2.68" fill="#5a4a42" transform="rotate(21.53 268.84 245.57)" opacity="0.51"/>
<ellipse cx="239.12" cy="299.96" rx="0.56" ry="3.21" fill="#5a4a42" transform="rotate(1.72 239.12 299.96)" opacity="0.52"/>
<ellipse cx="244.52" cy="288.77" rx="0.72" ry="3.85" fill="#5a4a42" transform="rotate(21.34 244.52 288.77)" opacity="0.45"/>
<ellipse cx="239.07" cy="275.04" rx="0.85" ry="3.83" fill="#5a4a42" transform="rotate(14.22 239.07 275.04)" opacity="0.28"/>
<ellipse cx="261.14" cy="272.98" rx="1.24" ry="3.53" fill="#5a4a42" transform="rotate(5.74 261.14 272.98)" opacity="0.52"/>
<ellipse cx="245.23" cy="291.78" rx="0.96" ry="3.59" fill="#5a4a42" transform="rotate(-17.27 245.23 291.78)" opacity="0.43"/>
<ellipse cx="254.97" cy="234.89" rx="1.25" ry="4.12" fill="#5a4a42" transform="rotate(-2.05 254.97 234.89)" opacity="0.27"/>
<ellipse cx="277.37" cy="227.24" rx="0.91" ry="3.41" fill="#5a4a42" transform="rotate(17.77 277.37 227.24)" opacity="0.48"/>
<ellipse cx="262.54" cy="261.62" rx="1.28" ry="4.05" fill="#5a4a42" transform="rotate(-7.19 262.54 261.62)" opacity="0.53"/>
<ellipse cx="275.96" cy="259.3" rx="0.57" ry="2.17" fill="#5a4a42" transform="rotate(23.37 275.96 259.3)" opacity="0.31"/>
<ellipse cx="270.36" cy="233.8" rx="0.68" ry="2.4" fill="#5a4a42" transform="rotate(15.77 270.36 233.8)" opacity="0.27"/>
<ellipse cx="257.4" cy="287.36" rx="0.92" ry="2.02" fill="#5a4a42" transform="rotate(-24.17 257.4 287.36)" opacity="0.54"/>
<ellipse cx="250.71" cy="224.24" rx="0.92" ry="3.96" fill="#5a4a42" transform="rotate(-9.85 250.71 224.24)" opacity="0.29"/>
<ellipse cx="246.24" cy="258.26" rx="1.12" ry="2.21" fill="#5a4a42" transform="rotate(13.05 246.24 258.26)" opacity="0.49"/>
<ellipse cx="260.76" cy="250.31" rx="0.53" ry="3.26" fill="#5a4a42" transform="rotate(-4.42 260.76 250.31)" opacity="0.48"/>
<ellipse cx="241.43" cy="231.41" rx="0.51" ry="3.22" fill="#5a4a42" transform="rotate(-22.03 241.43 231.41)" opacity="0.43"/>
<ellipse cx="256.04" cy="245.78" rx="0.65" ry="4.3" fill="#5a4a42" transform="rotate(-0.97 256.04 245.78)" opacity="0.28"/>
<ellipse cx="261.53" cy="283.39" rx="0.89" ry="4.23" fill="#5a4a42" transform="rotate(16.93 261.53 283.39)" opacity="0.49"/>
<ellipse cx="240.02" cy="252" rx="0.91" ry="2.42" fill="#5a4a42" transform="rotate(-0 240.02 252)" opacity="0.48"/>
<ellipse cx="268.35" cy="283.08" rx="1.1" ry="2.75" fill="#5a4a42" transform="rotate(5.6 268.35 283.08)" opacity="0.42"/>
<ellipse cx="268.58" cy="227.59" rx="0.64" ry="3.79" fill="#5a4a42" transform="rotate(11.2 268.58 227.59)" opacity="0.32"/>
<ellipse cx="268.96" cy="284.53" rx="1.02" ry="3.15" fill="#5a4a42" transform="rotate(-22.14 268.96 284.53)" opacity="0.32"/>
<ellipse cx="268.86" cy="298.07" rx="0.63" ry="2.09" fill="#5a4a42" transform="rotate(-7.54 268.86 298.07)" opacity="0.58"/>
<ellipse cx="247.44" cy="298.25" rx="1.13" ry="4.1" fill="#5a4a42" transform="rotate(24.54 247.44 298.25)" opacity="0.48"/>
<ellipse cx="246.71" cy="254.72" rx="0.82" ry="3.66" fill="#5a4a42" transform="rotate(-7.33 246.71 254.72)" opacity="0.5"/>
<ellipse cx="240.17" cy="236.36" rx="0.68" ry="2.43" fill="#5a4a42" transform="rotate(12.47 240.17 236.36)" opacity="0.56"/>
<ellipse cx="242.69" cy="258.49" rx="0.51" ry="2.62" fill="#5a4a42" transform="rotate(-17.77 242.69 258.49)" opacity="0.49"/>
</g>
</g>
<ellipse cx="252.2" cy="235.5" rx="4.3" ry="4" fill="#a88470"/>
<ellipse cx="271" cy="235.5" rx="2.6" ry="4.6" fill="#a27c6c" transform="rotate(-30 271 235.5)"/>
</g>
<text x="298.9" y="200.2" font-size="10.8" font-weight="bold" fill="#111">G</text>
<rect x="333.4" y="262.12" width="10.6" height="64.48" fill="#ffffff" stroke="#141414" stroke-width="1.35"/>
<rect x="336.75" y="242.66" width="3.9" height="3.9" fill="none" stroke="#1a1a1a" stroke-width="0.95"/>
<rect x="332.35" y="243.86" width="3.9" height="3.9" fill="none" stroke="#1a1a1a" stroke-width="0.95"/>
<rect x="341.15" y="243.86" width="3.9" height="3.9" fill="none" stroke="#1a1a1a" stroke-width="0.95"/>
<rect x="336.75" y="263.76" width="3.9" height="3.9" fill="none" stroke="#1a1a1a" stroke-width="0.95"/>
<rect x="332.35" y="263.76" width="3.9" height="3.9" fill="none" stroke="#1a1a1a" stroke-width="0.95"/>
<rect x="341.15" y="264.55" width="3.9" height="3.9" fill="none" stroke="#1a1a1a" stroke-width="0.95"/>
<rect x="336.75" y="268.13" width="3.9" height="3.9" fill="none" stroke="#1a1a1a" stroke-width="0.95"/>
<rect x="336.75" y="288.43" width="3.9" height="3.9" fill="none" stroke="#1a1a1a" stroke-width="0.95"/>
<line x1="338.7" y1="255.36" x2="338.7" y2="268.89" stroke="#111" stroke-width="1.15"/>
<line x1="336.4" y1="255.36" x2="341" y2="255.36" stroke="#111" stroke-width="1.15"/>
<line x1="336.4" y1="268.89" x2="341" y2="268.89" stroke="#111" stroke-width="1.15"/>
<rect x="351.6" y="285.21" width="10.6" height="41.39" fill="#90bdf7" stroke="#141414" stroke-width="1.35"/>
<circle cx="356.9" cy="237.45" r="2.05" fill="none" stroke="#1a1a1a" stroke-width="0.95"/>
<circle cx="356.9" cy="248.19" r="2.05" fill="none" stroke="#1a1a1a" stroke-width="0.95"/>
<circle cx="356.9" cy="259.74" r="2.05" fill="none" stroke="#1a1a1a" stroke-width="0.95"/>
<circle cx="356.9" cy="269.69" r="2.05" fill="none" stroke="#1a1a1a" stroke-width="0.95"/>
<circle cx="356.9" cy="278.44" r="2.05" fill="none" stroke="#1a1a1a" stroke-width="0.95"/>
<circle cx="352.5" cy="278.44" r="2.05" fill="none" stroke="#1a1a1a" stroke-width="0.95"/>
<circle cx="361.3" cy="278.44" r="2.05" fill="none" stroke="#1a1a1a" stroke-width="0.95"/>
<circle cx="356.9" cy="280.83" r="2.05" fill="none" stroke="#1a1a1a" stroke-width="0.95"/>
<circle cx="356.9" cy="289.19" r="2.05" fill="none" stroke="#1a1a1a" stroke-width="0.95"/>
<circle cx="356.9" cy="293.96" r="2.05" fill="none" stroke="#1a1a1a" stroke-width="0.95"/>
<circle cx="352.5" cy="293.96" r="2.05" fill="none" stroke="#1a1a1a" stroke-width="0.95"/>
<circle cx="361.3" cy="293.96" r="2.05" fill="none" stroke="#1a1a1a" stroke-width="0.95"/>
<circle cx="354.7" cy="297.35" r="2.05" fill="none" stroke="#1a1a1a" stroke-width="0.95"/>
<circle cx="359.1" cy="297.35" r="2.05" fill="none" stroke="#1a1a1a" stroke-width="0.95"/>
<circle cx="360.86" cy="297.35" r="2.05" fill="none" stroke="#1a1a1a" stroke-width="0.95"/>
<circle cx="356.9" cy="312.27" r="2.05" fill="none" stroke="#1a1a1a" stroke-width="0.95"/>
<circle cx="352.5" cy="312.27" r="2.05" fill="none" stroke="#1a1a1a" stroke-width="0.95"/>
<circle cx="361.3" cy="312.27" r="2.05" fill="none" stroke="#1a1a1a" stroke-width="0.95"/>
<line x1="356.9" y1="280.43" x2="356.9" y2="289.98" stroke="#111" stroke-width="1.15"/>
<line x1="354.6" y1="280.43" x2="359.2" y2="280.43" stroke="#111" stroke-width="1.15"/>
<line x1="354.6" y1="289.98" x2="359.2" y2="289.98" stroke="#111" stroke-width="1.15"/>
<rect x="370.2" y="300.33" width="10.6" height="26.27" fill="#ffffff" stroke="#141414" stroke-width="1.35"/>
<rect x="373.55" y="283.66" width="3.9" height="3.9" fill="none" stroke="#1a1a1a" stroke-width="0.95"/>
<rect x="369.15" y="283.66" width="3.9" height="3.9" fill="none" stroke="#1a1a1a" stroke-width="0.95"/>
<rect x="373.55" y="289.23" width="3.9" height="3.9" fill="none" stroke="#1a1a1a" stroke-width="0.95"/>
<rect x="369.15" y="289.23" width="3.9" height="3.9" fill="none" stroke="#1a1a1a" stroke-width="0.95"/>
<rect x="371.35" y="292.81" width="3.9" height="3.9" fill="none" stroke="#1a1a1a" stroke-width="0.95"/>
<rect x="375.75" y="292.81" width="3.9" height="3.9" fill="none" stroke="#1a1a1a" stroke-width="0.95"/>
<rect x="373.55" y="295.99" width="3.9" height="3.9" fill="none" stroke="#1a1a1a" stroke-width="0.95"/>
<rect x="373.55" y="301.57" width="3.9" height="3.9" fill="none" stroke="#1a1a1a" stroke-width="0.95"/>
<rect x="369.15" y="301.57" width="3.9" height="3.9" fill="none" stroke="#1a1a1a" stroke-width="0.95"/>
<rect x="371.35" y="305.15" width="3.9" height="3.9" fill="none" stroke="#1a1a1a" stroke-width="0.95"/>
<rect x="373.55" y="309.53" width="3.9" height="3.9" fill="none" stroke="#1a1a1a" stroke-width="0.95"/>
<rect x="369.15" y="309.53" width="3.9" height="3.9" fill="none" stroke="#1a1a1a" stroke-width="0.95"/>
<rect x="371.35" y="313.11" width="3.9" height="3.9" fill="none" stroke="#1a1a1a" stroke-width="0.95"/>
<rect x="375.75" y="315.89" width="3.9" height="3.9" fill="none" stroke="#1a1a1a" stroke-width="0.95"/>
<line x1="375.5" y1="296.35" x2="375.5" y2="304.31" stroke="#111" stroke-width="1.15"/>
<line x1="373.2" y1="296.35" x2="377.8" y2="296.35" stroke="#111" stroke-width="1.15"/>
<line x1="373.2" y1="304.31" x2="377.8" y2="304.31" stroke="#111" stroke-width="1.15"/>
<rect x="388.5" y="311.08" width="10.6" height="15.52" fill="#fb9d9f" stroke="#141414" stroke-width="1.35"/>
<circle cx="393.8" cy="290.78" r="2.05" fill="none" stroke="#1a1a1a" stroke-width="0.95"/>
<circle cx="393.8" cy="303.52" r="2.05" fill="none" stroke="#1a1a1a" stroke-width="0.95"/>
<circle cx="393.8" cy="307.5" r="2.05" fill="none" stroke="#1a1a1a" stroke-width="0.95"/>
<circle cx="393.8" cy="311.48" r="2.05" fill="none" stroke="#1a1a1a" stroke-width="0.95"/>
<circle cx="389.4" cy="311.48" r="2.05" fill="none" stroke="#1a1a1a" stroke-width="0.95"/>
<circle cx="398.2" cy="311.48" r="2.05" fill="none" stroke="#1a1a1a" stroke-width="0.95"/>
<circle cx="391.82" cy="312.67" r="2.05" fill="none" stroke="#1a1a1a" stroke-width="0.95"/>
<circle cx="393.8" cy="313.47" r="2.05" fill="none" stroke="#1a1a1a" stroke-width="0.95"/>
<circle cx="395.78" cy="313.47" r="2.05" fill="none" stroke="#1a1a1a" stroke-width="0.95"/>
<circle cx="389.4" cy="316.25" r="2.05" fill="none" stroke="#1a1a1a" stroke-width="0.95"/>
<line x1="393.8" y1="307.69" x2="393.8" y2="314.46" stroke="#111" stroke-width="1.15"/>
<line x1="391.5" y1="307.69" x2="396.1" y2="307.69" stroke="#111" stroke-width="1.15"/>
<line x1="391.5" y1="314.46" x2="396.1" y2="314.46" stroke="#111" stroke-width="1.15"/>
<line x1="326.4" y1="206.6" x2="326.4" y2="327.2" stroke="#1f1f1f" stroke-width="1.25"/>
<line x1="321.6" y1="326.6" x2="326.4" y2="326.6" stroke="#1f1f1f" stroke-width="1.1"/>
<text x="320.3" y="329.23" font-size="7.3" text-anchor="end" fill="#1e1e1e">0</text>
<line x1="321.6" y1="286.8" x2="326.4" y2="286.8" stroke="#1f1f1f" stroke-width="1.1"/>
<text x="320.3" y="289.43" font-size="7.3" text-anchor="end" fill="#1e1e1e">10</text>
<line x1="321.6" y1="247" x2="326.4" y2="247" stroke="#1f1f1f" stroke-width="1.1"/>
<text x="320.3" y="249.63" font-size="7.3" text-anchor="end" fill="#1e1e1e">20</text>
<line x1="321.6" y1="207.2" x2="326.4" y2="207.2" stroke="#1f1f1f" stroke-width="1.1"/>
<text x="320.3" y="209.83" font-size="7.3" text-anchor="end" fill="#1e1e1e">30</text>
<line x1="325.8" y1="326.6" x2="404.5" y2="326.6" stroke="#1f1f1f" stroke-width="1.25"/>
<line x1="338.7" y1="326.6" x2="338.7" y2="331.4" stroke="#1f1f1f" stroke-width="1.1"/>
<text x="338.7" y="340.1" font-size="8" text-anchor="middle" fill="#1e1e1e">WT</text>
<line x1="356.9" y1="326.6" x2="356.9" y2="331.4" stroke="#1f1f1f" stroke-width="1.1"/>
<text x="356.9" y="340.1" font-size="8" text-anchor="middle" fill="#1e1e1e">KO</text>
<line x1="375.5" y1="326.6" x2="375.5" y2="331.4" stroke="#1f1f1f" stroke-width="1.1"/>
<text x="375.5" y="340.1" font-size="8" text-anchor="middle" fill="#1e1e1e">WT</text>
<line x1="393.8" y1="326.6" x2="393.8" y2="331.4" stroke="#1f1f1f" stroke-width="1.1"/>
<text x="393.8" y="340.1" font-size="8" text-anchor="middle" fill="#1e1e1e">KO</text>
<line x1="330.2" y1="349.9" x2="362.9" y2="349.9" stroke="#3a3a3a" stroke-width="1.1"/>
<line x1="368.2" y1="349.9" x2="400.3" y2="349.9" stroke="#3a3a3a" stroke-width="1.1"/>
<circle cx="343.2" cy="363.1" r="3.5" fill="none" stroke="#111" stroke-width="1.15"/>
<line x1="344.9" y1="360.3" x2="347.4" y2="353.7" stroke="#111" stroke-width="1"/>
<polyline points="343,355.7 347.5,353.5 348.2,358.1" stroke="#111" stroke-width="1" fill="none" stroke-linejoin="round" stroke-linecap="round"/>
<circle cx="383.95" cy="357.7" r="3.5" fill="none" stroke="#111" stroke-width="1.15"/>
<line x1="383.95" y1="361.2" x2="383.95" y2="368" stroke="#111" stroke-width="1.15"/>
<line x1="380.45" y1="364.4" x2="387.45" y2="364.4" stroke="#111" stroke-width="1.15"/>
<text x="306.2" y="266.8" font-size="8.4" text-anchor="middle" transform="rotate(-90 306.2 266.8)">Fat mass (g)</text>
<polyline points="336.8,224.4 336.8,219 357.1,219 357.1,224.4" stroke="#1a1a1a" stroke-width="1.2" fill="none"/>
<path d="M347.1,210.3L347.1,207.3M347.1,210.3L349.95,209.37M347.1,210.3L348.86,212.73M347.1,210.3L345.34,212.73M347.1,210.3L344.25,209.37" stroke="#111" stroke-width="1.35" stroke-linecap="round" fill="none"/>
<polyline points="375.2,266.5 375.2,261.1 395.2,261.1 395.2,266.5" stroke="#1a1a1a" stroke-width="1.2" fill="none"/>
<path d="M385.8,252.7L385.8,249.7M385.8,252.7L388.65,251.77M385.8,252.7L387.56,255.13M385.8,252.7L384.04,255.13M385.8,252.7L382.95,251.77" stroke="#111" stroke-width="1.35" stroke-linecap="round" fill="none"/>
<rect x="453.4" y="238.24" width="10.6" height="88.36" fill="#ffffff" stroke="#141414" stroke-width="1.35"/>
<rect x="456.75" y="225.55" width="3.9" height="3.9" fill="none" stroke="#1a1a1a" stroke-width="0.95"/>
<rect x="452.35" y="227.54" width="3.9" height="3.9" fill="none" stroke="#1a1a1a" stroke-width="0.95"/>
<rect x="456.75" y="233.91" width="3.9" height="3.9" fill="none" stroke="#1a1a1a" stroke-width="0.95"/>
<rect x="452.35" y="236.29" width="3.9" height="3.9" fill="none" stroke="#1a1a1a" stroke-width="0.95"/>
<rect x="456.75" y="237.89" width="3.9" height="3.9" fill="none" stroke="#1a1a1a" stroke-width="0.95"/>
<rect x="461.15" y="238.68" width="3.9" height="3.9" fill="none" stroke="#1a1a1a" stroke-width="0.95"/>
<rect x="454.77" y="238.68" width="3.9" height="3.9" fill="none" stroke="#1a1a1a" stroke-width="0.95"/>
<rect x="456.75" y="241.07" width="3.9" height="3.9" fill="none" stroke="#1a1a1a" stroke-width="0.95"/>
<rect x="456.75" y="249.03" width="3.9" height="3.9" fill="none" stroke="#1a1a1a" stroke-width="0.95"/>
<line x1="458.7" y1="235.46" x2="458.7" y2="241.03" stroke="#111" stroke-width="1.15"/>
<line x1="456.4" y1="235.46" x2="461" y2="235.46" stroke="#111" stroke-width="1.15"/>
<line x1="456.4" y1="241.03" x2="461" y2="241.03" stroke="#111" stroke-width="1.15"/>
<rect x="471.7" y="239.44" width="10.6" height="87.16" fill="#90bdf7" stroke="#141414" stroke-width="1.35"/>
<circle cx="477" cy="225.11" r="2.05" fill="none" stroke="#1a1a1a" stroke-width="0.95"/>
<circle cx="477" cy="229.09" r="2.05" fill="none" stroke="#1a1a1a" stroke-width="0.95"/>
<circle cx="477" cy="233.47" r="2.05" fill="none" stroke="#1a1a1a" stroke-width="0.95"/>
<circle cx="472.6" cy="235.86" r="2.05" fill="none" stroke="#1a1a1a" stroke-width="0.95"/>
<circle cx="479.2" cy="236.65" r="2.05" fill="none" stroke="#1a1a1a" stroke-width="0.95"/>
<circle cx="473.04" cy="237.05" r="2.05" fill="none" stroke="#1a1a1a" stroke-width="0.95"/>
<circle cx="475.02" cy="238.24" r="2.05" fill="none" stroke="#1a1a1a" stroke-width="0.95"/>
<circle cx="477" cy="239.04" r="2.05" fill="none" stroke="#1a1a1a" stroke-width="0.95"/>
<circle cx="481.4" cy="239.84" r="2.05" fill="none" stroke="#1a1a1a" stroke-width="0.95"/>
<circle cx="477" cy="247" r="2.05" fill="none" stroke="#1a1a1a" stroke-width="0.95"/>
<circle cx="472.6" cy="247" r="2.05" fill="none" stroke="#1a1a1a" stroke-width="0.95"/>
<circle cx="481.4" cy="247" r="2.05" fill="none" stroke="#1a1a1a" stroke-width="0.95"/>
<circle cx="477" cy="248.59" r="2.05" fill="none" stroke="#1a1a1a" stroke-width="0.95"/>
<circle cx="478.98" cy="249.39" r="2.05" fill="none" stroke="#1a1a1a" stroke-width="0.95"/>
<line x1="477" y1="237.45" x2="477" y2="241.43" stroke="#111" stroke-width="1.15"/>
<line x1="474.7" y1="237.45" x2="479.3" y2="237.45" stroke="#111" stroke-width="1.15"/>
<line x1="474.7" y1="241.43" x2="479.3" y2="241.43" stroke="#111" stroke-width="1.15"/>
<rect x="490" y="256.55" width="10.6" height="70.05" fill="#ffffff" stroke="#141414" stroke-width="1.35"/>
<rect x="493.35" y="246.64" width="3.9" height="3.9" fill="none" stroke="#1a1a1a" stroke-width="0.95"/>
<rect x="488.95" y="246.64" width="3.9" height="3.9" fill="none" stroke="#1a1a1a" stroke-width="0.95"/>
<rect x="491.15" y="249.83" width="3.9" height="3.9" fill="none" stroke="#1a1a1a" stroke-width="0.95"/>
<rect x="495.55" y="249.83" width="3.9" height="3.9" fill="none" stroke="#1a1a1a" stroke-width="0.95"/>
<rect x="497.31" y="252.21" width="3.9" height="3.9" fill="none" stroke="#1a1a1a" stroke-width="0.95"/>
<rect x="493.35" y="253.81" width="3.9" height="3.9" fill="none" stroke="#1a1a1a" stroke-width="0.95"/>
<rect x="488.95" y="253.81" width="3.9" height="3.9" fill="none" stroke="#1a1a1a" stroke-width="0.95"/>
<rect x="493.35" y="257.79" width="3.9" height="3.9" fill="none" stroke="#1a1a1a" stroke-width="0.95"/>
<rect x="488.95" y="257.79" width="3.9" height="3.9" fill="none" stroke="#1a1a1a" stroke-width="0.95"/>
<rect x="493.35" y="264.55" width="3.9" height="3.9" fill="none" stroke="#1a1a1a" stroke-width="0.95"/>
<rect x="488.95" y="264.55" width="3.9" height="3.9" fill="none" stroke="#1a1a1a" stroke-width="0.95"/>
<rect x="497.75" y="264.55" width="3.9" height="3.9" fill="none" stroke="#1a1a1a" stroke-width="0.95"/>
<line x1="495.3" y1="254.56" x2="495.3" y2="258.54" stroke="#111" stroke-width="1.15"/>
<line x1="493" y1="254.56" x2="497.6" y2="254.56" stroke="#111" stroke-width="1.15"/>
<line x1="493" y1="258.54" x2="497.6" y2="258.54" stroke="#111" stroke-width="1.15"/>
<rect x="508.5" y="261.73" width="10.6" height="64.87" fill="#fb9d9f" stroke="#141414" stroke-width="1.35"/>
<circle cx="513.8" cy="252.57" r="2.05" fill="none" stroke="#1a1a1a" stroke-width="0.95"/>
<circle cx="511.6" cy="255.76" r="2.05" fill="none" stroke="#1a1a1a" stroke-width="0.95"/>
<circle cx="516" cy="255.76" r="2.05" fill="none" stroke="#1a1a1a" stroke-width="0.95"/>
<circle cx="513.8" cy="259.74" r="2.05" fill="none" stroke="#1a1a1a" stroke-width="0.95"/>
<circle cx="509.4" cy="259.74" r="2.05" fill="none" stroke="#1a1a1a" stroke-width="0.95"/>
<circle cx="518.2" cy="260.93" r="2.05" fill="none" stroke="#1a1a1a" stroke-width="0.95"/>
<circle cx="511.82" cy="261.33" r="2.05" fill="none" stroke="#1a1a1a" stroke-width="0.95"/>
<circle cx="513.8" cy="269.69" r="2.05" fill="none" stroke="#1a1a1a" stroke-width="0.95"/>
<circle cx="509.4" cy="269.69" r="2.05" fill="none" stroke="#1a1a1a" stroke-width="0.95"/>
<circle cx="518.2" cy="269.69" r="2.05" fill="none" stroke="#1a1a1a" stroke-width="0.95"/>
<line x1="513.8" y1="260.13" x2="513.8" y2="263.32" stroke="#111" stroke-width="1.15"/>
<line x1="511.5" y1="260.13" x2="516.1" y2="260.13" stroke="#111" stroke-width="1.15"/>
<line x1="511.5" y1="263.32" x2="516.1" y2="263.32" stroke="#111" stroke-width="1.15"/>
<line x1="446.4" y1="206.6" x2="446.4" y2="327.2" stroke="#1f1f1f" stroke-width="1.25"/>
<line x1="441.6" y1="326.6" x2="446.4" y2="326.6" stroke="#1f1f1f" stroke-width="1.1"/>
<text x="440.3" y="329.23" font-size="7.3" text-anchor="end" fill="#1e1e1e">0</text>
<line x1="441.6" y1="286.8" x2="446.4" y2="286.8" stroke="#1f1f1f" stroke-width="1.1"/>
<text x="440.3" y="289.43" font-size="7.3" text-anchor="end" fill="#1e1e1e">10</text>
<line x1="441.6" y1="247" x2="446.4" y2="247" stroke="#1f1f1f" stroke-width="1.1"/>
<text x="440.3" y="249.63" font-size="7.3" text-anchor="end" fill="#1e1e1e">20</text>
<line x1="441.6" y1="207.2" x2="446.4" y2="207.2" stroke="#1f1f1f" stroke-width="1.1"/>
<text x="440.3" y="209.83" font-size="7.3" text-anchor="end" fill="#1e1e1e">30</text>
<line x1="445.8" y1="326.6" x2="527" y2="326.6" stroke="#1f1f1f" stroke-width="1.25"/>
<line x1="458.7" y1="326.6" x2="458.7" y2="331.4" stroke="#1f1f1f" stroke-width="1.1"/>
<text x="458.7" y="340.1" font-size="8" text-anchor="middle" fill="#1e1e1e">WT</text>
<line x1="477" y1="326.6" x2="477" y2="331.4" stroke="#1f1f1f" stroke-width="1.1"/>
<text x="477" y="340.1" font-size="8" text-anchor="middle" fill="#1e1e1e">KO</text>
<line x1="495.3" y1="326.6" x2="495.3" y2="331.4" stroke="#1f1f1f" stroke-width="1.1"/>
<text x="495.3" y="340.1" font-size="8" text-anchor="middle" fill="#1e1e1e">WT</text>
<line x1="513.8" y1="326.6" x2="513.8" y2="331.4" stroke="#1f1f1f" stroke-width="1.1"/>
<text x="513.8" y="340.1" font-size="8" text-anchor="middle" fill="#1e1e1e">KO</text>
<line x1="450.2" y1="349.9" x2="483" y2="349.9" stroke="#3a3a3a" stroke-width="1.1"/>
<line x1="488" y1="349.9" x2="520.3" y2="349.9" stroke="#3a3a3a" stroke-width="1.1"/>
<circle cx="463.25" cy="363.1" r="3.5" fill="none" stroke="#111" stroke-width="1.15"/>
<line x1="464.95" y1="360.3" x2="467.45" y2="353.7" stroke="#111" stroke-width="1"/>
<polyline points="463.05,355.7 467.55,353.5 468.25,358.1" stroke="#111" stroke-width="1" fill="none" stroke-linejoin="round" stroke-linecap="round"/>
<circle cx="503.85" cy="357.7" r="3.5" fill="none" stroke="#111" stroke-width="1.15"/>
<line x1="503.85" y1="361.2" x2="503.85" y2="368" stroke="#111" stroke-width="1.15"/>
<line x1="500.35" y1="364.4" x2="507.35" y2="364.4" stroke="#111" stroke-width="1.15"/>
<text x="426" y="266.8" font-size="8.4" text-anchor="middle" transform="rotate(-90 426 266.8)">Lean mass (g)</text>
<rect x="574.6" y="249.59" width="10.6" height="76.41" fill="#ffffff" stroke="#141414" stroke-width="1.35"/>
<rect x="577.95" y="235.07" width="3.9" height="3.9" fill="none" stroke="#1a1a1a" stroke-width="0.95"/>
<rect x="573.55" y="236.67" width="3.9" height="3.9" fill="none" stroke="#1a1a1a" stroke-width="0.95"/>
<rect x="582.35" y="237.87" width="3.9" height="3.9" fill="none" stroke="#1a1a1a" stroke-width="0.95"/>
<rect x="577.95" y="246.44" width="3.9" height="3.9" fill="none" stroke="#1a1a1a" stroke-width="0.95"/>
<rect x="573.55" y="248.04" width="3.9" height="3.9" fill="none" stroke="#1a1a1a" stroke-width="0.95"/>
<rect x="577.95" y="251.23" width="3.9" height="3.9" fill="none" stroke="#1a1a1a" stroke-width="0.95"/>
<rect x="577.95" y="255.22" width="3.9" height="3.9" fill="none" stroke="#1a1a1a" stroke-width="0.95"/>
<rect x="577.95" y="272.98" width="3.9" height="3.9" fill="none" stroke="#1a1a1a" stroke-width="0.95"/>
<line x1="579.9" y1="245.2" x2="579.9" y2="253.98" stroke="#111" stroke-width="1.15"/>
<line x1="577.6" y1="245.2" x2="582.2" y2="245.2" stroke="#111" stroke-width="1.15"/>
<line x1="577.6" y1="253.98" x2="582.2" y2="253.98" stroke="#111" stroke-width="1.15"/>
<rect x="593.1" y="271.14" width="10.6" height="54.86" fill="#90bdf7" stroke="#141414" stroke-width="1.35"/>
<circle cx="598.4" cy="235.03" r="2.05" fill="none" stroke="#1a1a1a" stroke-width="0.95"/>
<circle cx="598.4" cy="240.81" r="2.05" fill="none" stroke="#1a1a1a" stroke-width="0.95"/>
<circle cx="598.4" cy="249.99" r="2.05" fill="none" stroke="#1a1a1a" stroke-width="0.95"/>
<circle cx="594" cy="251.19" r="2.05" fill="none" stroke="#1a1a1a" stroke-width="0.95"/>
<circle cx="598.4" cy="259.77" r="2.05" fill="none" stroke="#1a1a1a" stroke-width="0.95"/>
<circle cx="594" cy="262.36" r="2.05" fill="none" stroke="#1a1a1a" stroke-width="0.95"/>
<circle cx="598.4" cy="264.15" r="2.05" fill="none" stroke="#1a1a1a" stroke-width="0.95"/>
<circle cx="594" cy="266.15" r="2.05" fill="none" stroke="#1a1a1a" stroke-width="0.95"/>
<circle cx="598.4" cy="275.93" r="2.05" fill="none" stroke="#1a1a1a" stroke-width="0.95"/>
<circle cx="596.2" cy="279.12" r="2.05" fill="none" stroke="#1a1a1a" stroke-width="0.95"/>
<circle cx="600.6" cy="280.71" r="2.05" fill="none" stroke="#1a1a1a" stroke-width="0.95"/>
<circle cx="594" cy="282.31" r="2.05" fill="none" stroke="#1a1a1a" stroke-width="0.95"/>
<circle cx="598.4" cy="298.87" r="2.05" fill="none" stroke="#1a1a1a" stroke-width="0.95"/>
<circle cx="594" cy="300.06" r="2.05" fill="none" stroke="#1a1a1a" stroke-width="0.95"/>
<circle cx="598.4" cy="303.46" r="2.05" fill="none" stroke="#1a1a1a" stroke-width="0.95"/>
<line x1="598.4" y1="265.75" x2="598.4" y2="276.52" stroke="#111" stroke-width="1.15"/>
<line x1="596.1" y1="265.75" x2="600.7" y2="265.75" stroke="#111" stroke-width="1.15"/>
<line x1="596.1" y1="276.52" x2="600.7" y2="276.52" stroke="#111" stroke-width="1.15"/>
<rect x="611.6" y="277.92" width="10.6" height="48.08" fill="#ffffff" stroke="#141414" stroke-width="1.35"/>
<rect x="614.95" y="255.62" width="3.9" height="3.9" fill="none" stroke="#1a1a1a" stroke-width="0.95"/>
<rect x="612.75" y="259.01" width="3.9" height="3.9" fill="none" stroke="#1a1a1a" stroke-width="0.95"/>
<rect x="614.95" y="262.2" width="3.9" height="3.9" fill="none" stroke="#1a1a1a" stroke-width="0.95"/>
<rect x="614.95" y="266.19" width="3.9" height="3.9" fill="none" stroke="#1a1a1a" stroke-width="0.95"/>
<rect x="610.55" y="266.19" width="3.9" height="3.9" fill="none" stroke="#1a1a1a" stroke-width="0.95"/>
<rect x="612.75" y="269.39" width="3.9" height="3.9" fill="none" stroke="#1a1a1a" stroke-width="0.95"/>
<rect x="614.95" y="278.76" width="3.9" height="3.9" fill="none" stroke="#1a1a1a" stroke-width="0.95"/>
<rect x="610.55" y="281.16" width="3.9" height="3.9" fill="none" stroke="#1a1a1a" stroke-width="0.95"/>
<rect x="619.35" y="281.16" width="3.9" height="3.9" fill="none" stroke="#1a1a1a" stroke-width="0.95"/>
<rect x="614.95" y="283.55" width="3.9" height="3.9" fill="none" stroke="#1a1a1a" stroke-width="0.95"/>
<rect x="614.95" y="293.73" width="3.9" height="3.9" fill="none" stroke="#1a1a1a" stroke-width="0.95"/>
<rect x="610.55" y="295.32" width="3.9" height="3.9" fill="none" stroke="#1a1a1a" stroke-width="0.95"/>
<rect x="614.95" y="300.71" width="3.9" height="3.9" fill="none" stroke="#1a1a1a" stroke-width="0.95"/>
<line x1="616.9" y1="273.93" x2="616.9" y2="281.91" stroke="#111" stroke-width="1.15"/>
<line x1="614.6" y1="273.93" x2="619.2" y2="273.93" stroke="#111" stroke-width="1.15"/>
<line x1="614.6" y1="281.91" x2="619.2" y2="281.91" stroke="#111" stroke-width="1.15"/>
<rect x="630" y="291.29" width="10.6" height="34.71" fill="#fb9d9f" stroke="#141414" stroke-width="1.35"/>
<circle cx="635.3" cy="263.76" r="2.05" fill="none" stroke="#1a1a1a" stroke-width="0.95"/>
<circle cx="635.3" cy="279.92" r="2.05" fill="none" stroke="#1a1a1a" stroke-width="0.95"/>
<circle cx="635.3" cy="284.7" r="2.05" fill="none" stroke="#1a1a1a" stroke-width="0.95"/>
<circle cx="630.9" cy="286.9" r="2.05" fill="none" stroke="#1a1a1a" stroke-width="0.95"/>
<circle cx="635.3" cy="290.09" r="2.05" fill="none" stroke="#1a1a1a" stroke-width="0.95"/>
<circle cx="635.3" cy="294.08" r="2.05" fill="none" stroke="#1a1a1a" stroke-width="0.95"/>
<circle cx="630.9" cy="296.07" r="2.05" fill="none" stroke="#1a1a1a" stroke-width="0.95"/>
<circle cx="639.7" cy="296.47" r="2.05" fill="none" stroke="#1a1a1a" stroke-width="0.95"/>
<circle cx="635.3" cy="299.67" r="2.05" fill="none" stroke="#1a1a1a" stroke-width="0.95"/>
<circle cx="630.9" cy="300.26" r="2.05" fill="none" stroke="#1a1a1a" stroke-width="0.95"/>
<line x1="635.3" y1="287.9" x2="635.3" y2="294.68" stroke="#111" stroke-width="1.15"/>
<line x1="633" y1="287.9" x2="637.6" y2="287.9" stroke="#111" stroke-width="1.15"/>
<line x1="633" y1="294.68" x2="637.6" y2="294.68" stroke="#111" stroke-width="1.15"/>
<line x1="567.7" y1="205.7" x2="567.7" y2="326.6" stroke="#1f1f1f" stroke-width="1.25"/>
<line x1="562.9" y1="326" x2="567.7" y2="326" stroke="#1f1f1f" stroke-width="1.1"/>
<text x="561.6" y="328.63" font-size="7.3" text-anchor="end" fill="#1e1e1e">0</text>
<line x1="562.9" y1="286.1" x2="567.7" y2="286.1" stroke="#1f1f1f" stroke-width="1.1"/>
<text x="561.6" y="288.73" font-size="7.3" text-anchor="end" fill="#1e1e1e">20</text>
<line x1="562.9" y1="246.2" x2="567.7" y2="246.2" stroke="#1f1f1f" stroke-width="1.1"/>
<text x="561.6" y="248.83" font-size="7.3" text-anchor="end" fill="#1e1e1e">40</text>
<line x1="562.9" y1="206.3" x2="567.7" y2="206.3" stroke="#1f1f1f" stroke-width="1.1"/>
<text x="561.6" y="208.93" font-size="7.3" text-anchor="end" fill="#1e1e1e">60</text>
<line x1="567.1" y1="326" x2="648" y2="326" stroke="#1f1f1f" stroke-width="1.25"/>
<line x1="579.9" y1="326" x2="579.9" y2="330.8" stroke="#1f1f1f" stroke-width="1.1"/>
<text x="579.9" y="340.1" font-size="8" text-anchor="middle" fill="#1e1e1e">WT</text>
<line x1="598.4" y1="326" x2="598.4" y2="330.8" stroke="#1f1f1f" stroke-width="1.1"/>
<text x="598.4" y="340.1" font-size="8" text-anchor="middle" fill="#1e1e1e">KO</text>
<line x1="616.9" y1="326" x2="616.9" y2="330.8" stroke="#1f1f1f" stroke-width="1.1"/>
<text x="616.9" y="340.1" font-size="8" text-anchor="middle" fill="#1e1e1e">WT</text>
<line x1="635.3" y1="326" x2="635.3" y2="330.8" stroke="#1f1f1f" stroke-width="1.1"/>
<text x="635.3" y="340.1" font-size="8" text-anchor="middle" fill="#1e1e1e">KO</text>
<line x1="571.4" y1="349.9" x2="604.4" y2="349.9" stroke="#3a3a3a" stroke-width="1.1"/>
<line x1="609.6" y1="349.9" x2="641.8" y2="349.9" stroke="#3a3a3a" stroke-width="1.1"/>
<circle cx="584.55" cy="363.1" r="3.5" fill="none" stroke="#111" stroke-width="1.15"/>
<line x1="586.25" y1="360.3" x2="588.75" y2="353.7" stroke="#111" stroke-width="1"/>
<polyline points="584.35,355.7 588.85,353.5 589.55,358.1" stroke="#111" stroke-width="1" fill="none" stroke-linejoin="round" stroke-linecap="round"/>
<circle cx="625.4" cy="357.7" r="3.5" fill="none" stroke="#111" stroke-width="1.15"/>
<line x1="625.4" y1="361.2" x2="625.4" y2="368" stroke="#111" stroke-width="1.15"/>
<line x1="621.9" y1="364.4" x2="628.9" y2="364.4" stroke="#111" stroke-width="1.15"/>
<text x="547.4" y="266.8" font-size="8.4" text-anchor="middle" transform="rotate(-90 547.4 266.8)">% Fat mass</text>
<polyline points="578.4,222.9 578.4,217.5 598.7,217.5 598.7,222.9" stroke="#1a1a1a" stroke-width="1.2" fill="none"/>
<path d="M589.5,209.2L589.5,206.2M589.5,209.2L592.35,208.27M589.5,209.2L591.26,211.63M589.5,209.2L587.74,211.63M589.5,209.2L586.65,208.27" stroke="#111" stroke-width="1.35" stroke-linecap="round" fill="none"/>
<polyline points="616.2,242.6 616.2,237.2 636.6,237.2 636.6,242.6" stroke="#1a1a1a" stroke-width="1.2" fill="none"/>
<path d="M627.2,228.5L627.2,225.5M627.2,228.5L630.05,227.57M627.2,228.5L628.96,230.93M627.2,228.5L625.44,230.93M627.2,228.5L624.35,227.57" stroke="#111" stroke-width="1.35" stroke-linecap="round" fill="none"/>
<rect x="695.1" y="262.32" width="10.6" height="63.68" fill="#ffffff" stroke="#141414" stroke-width="1.35"/>
<rect x="698.45" y="241.82" width="3.9" height="3.9" fill="none" stroke="#1a1a1a" stroke-width="0.95"/>
<rect x="698.45" y="255.94" width="3.9" height="3.9" fill="none" stroke="#1a1a1a" stroke-width="0.95"/>
<rect x="694.05" y="257.86" width="3.9" height="3.9" fill="none" stroke="#1a1a1a" stroke-width="0.95"/>
<rect x="698.45" y="260.61" width="3.9" height="3.9" fill="none" stroke="#1a1a1a" stroke-width="0.95"/>
<rect x="694.05" y="263" width="3.9" height="3.9" fill="none" stroke="#1a1a1a" stroke-width="0.95"/>
<rect x="698.45" y="265.4" width="3.9" height="3.9" fill="none" stroke="#1a1a1a" stroke-width="0.95"/>
<rect x="702.85" y="266.59" width="3.9" height="3.9" fill="none" stroke="#1a1a1a" stroke-width="0.95"/>
<rect x="694.05" y="268.27" width="3.9" height="3.9" fill="none" stroke="#1a1a1a" stroke-width="0.95"/>
<line x1="700.4" y1="259.57" x2="700.4" y2="265.07" stroke="#111" stroke-width="1.15"/>
<line x1="698.1" y1="259.57" x2="702.7" y2="259.57" stroke="#111" stroke-width="1.15"/>
<line x1="698.1" y1="265.07" x2="702.7" y2="265.07" stroke="#111" stroke-width="1.15"/>
<rect x="713.6" y="250.35" width="10.6" height="75.65" fill="#90bdf7" stroke="#141414" stroke-width="1.35"/>
<circle cx="718.9" cy="232.75" r="2.05" fill="none" stroke="#1a1a1a" stroke-width="0.95"/>
<circle cx="716.7" cy="235.87" r="2.05" fill="none" stroke="#1a1a1a" stroke-width="0.95"/>
<circle cx="718.9" cy="239.82" r="2.05" fill="none" stroke="#1a1a1a" stroke-width="0.95"/>
<circle cx="714.5" cy="242.21" r="2.05" fill="none" stroke="#1a1a1a" stroke-width="0.95"/>
<circle cx="718.9" cy="245.8" r="2.05" fill="none" stroke="#1a1a1a" stroke-width="0.95"/>
<circle cx="714.5" cy="247.72" r="2.05" fill="none" stroke="#1a1a1a" stroke-width="0.95"/>
<circle cx="718.9" cy="250.83" r="2.05" fill="none" stroke="#1a1a1a" stroke-width="0.95"/>
<circle cx="714.5" cy="251.79" r="2.05" fill="none" stroke="#1a1a1a" stroke-width="0.95"/>
<circle cx="721.1" cy="253.94" r="2.05" fill="none" stroke="#1a1a1a" stroke-width="0.95"/>
<circle cx="718.9" cy="257.89" r="2.05" fill="none" stroke="#1a1a1a" stroke-width="0.95"/>
<circle cx="716.7" cy="261" r="2.05" fill="none" stroke="#1a1a1a" stroke-width="0.95"/>
<circle cx="718.9" cy="266.03" r="2.05" fill="none" stroke="#1a1a1a" stroke-width="0.95"/>
<circle cx="718.9" cy="271.78" r="2.05" fill="none" stroke="#1a1a1a" stroke-width="0.95"/>
<line x1="718.9" y1="247.48" x2="718.9" y2="253.22" stroke="#111" stroke-width="1.15"/>
<line x1="716.6" y1="247.48" x2="721.2" y2="247.48" stroke="#111" stroke-width="1.15"/>
<line x1="716.6" y1="253.22" x2="721.2" y2="253.22" stroke="#111" stroke-width="1.15"/>
<rect x="731.8" y="244.96" width="10.6" height="81.04" fill="#ffffff" stroke="#141414" stroke-width="1.35"/>
<rect x="735.15" y="227.57" width="3.9" height="3.9" fill="none" stroke="#1a1a1a" stroke-width="0.95"/>
<rect x="732.95" y="230.8" width="3.9" height="3.9" fill="none" stroke="#1a1a1a" stroke-width="0.95"/>
<rect x="735.15" y="235.47" width="3.9" height="3.9" fill="none" stroke="#1a1a1a" stroke-width="0.95"/>
<rect x="732.95" y="238.58" width="3.9" height="3.9" fill="none" stroke="#1a1a1a" stroke-width="0.95"/>
<rect x="737.35" y="240.26" width="3.9" height="3.9" fill="none" stroke="#1a1a1a" stroke-width="0.95"/>
<rect x="732.95" y="242.53" width="3.9" height="3.9" fill="none" stroke="#1a1a1a" stroke-width="0.95"/>
<rect x="737.35" y="244.93" width="3.9" height="3.9" fill="none" stroke="#1a1a1a" stroke-width="0.95"/>
<rect x="732.95" y="246.25" width="3.9" height="3.9" fill="none" stroke="#1a1a1a" stroke-width="0.95"/>
<rect x="737.35" y="248.88" width="3.9" height="3.9" fill="none" stroke="#1a1a1a" stroke-width="0.95"/>
<rect x="735.15" y="252.23" width="3.9" height="3.9" fill="none" stroke="#1a1a1a" stroke-width="0.95"/>
<rect x="730.75" y="255.1" width="3.9" height="3.9" fill="none" stroke="#1a1a1a" stroke-width="0.95"/>
<line x1="737.1" y1="242.57" x2="737.1" y2="247.36" stroke="#111" stroke-width="1.15"/>
<line x1="734.8" y1="242.57" x2="739.4" y2="242.57" stroke="#111" stroke-width="1.15"/>
<line x1="734.8" y1="247.36" x2="739.4" y2="247.36" stroke="#111" stroke-width="1.15"/>
<rect x="750.5" y="237.54" width="10.6" height="88.46" fill="#fb9d9f" stroke="#141414" stroke-width="1.35"/>
<circle cx="755.8" cy="232.75" r="2.05" fill="none" stroke="#1a1a1a" stroke-width="0.95"/>
<circle cx="751.4" cy="232.75" r="2.05" fill="none" stroke="#1a1a1a" stroke-width="0.95"/>
<circle cx="753.6" cy="235.87" r="2.05" fill="none" stroke="#1a1a1a" stroke-width="0.95"/>
<circle cx="758" cy="237.42" r="2.05" fill="none" stroke="#1a1a1a" stroke-width="0.95"/>
<circle cx="759.76" cy="238.26" r="2.05" fill="none" stroke="#1a1a1a" stroke-width="0.95"/>
<circle cx="753.6" cy="239.82" r="2.05" fill="none" stroke="#1a1a1a" stroke-width="0.95"/>
<circle cx="753.82" cy="240.53" r="2.05" fill="none" stroke="#1a1a1a" stroke-width="0.95"/>
<circle cx="755.8" cy="248.43" r="2.05" fill="none" stroke="#1a1a1a" stroke-width="0.95"/>
<line x1="755.8" y1="235.99" x2="755.8" y2="239.1" stroke="#111" stroke-width="1.15"/>
<line x1="753.5" y1="235.99" x2="758.1" y2="235.99" stroke="#111" stroke-width="1.15"/>
<line x1="753.5" y1="239.1" x2="758.1" y2="239.1" stroke="#111" stroke-width="1.15"/>
<line x1="687.8" y1="205.7" x2="687.8" y2="326.6" stroke="#1f1f1f" stroke-width="1.25"/>
<line x1="683" y1="326" x2="687.8" y2="326" stroke="#1f1f1f" stroke-width="1.1"/>
<text x="681.7" y="328.63" font-size="7.3" text-anchor="end" fill="#1e1e1e">0</text>
<line x1="683" y1="302.06" x2="687.8" y2="302.06" stroke="#1f1f1f" stroke-width="1.1"/>
<text x="681.7" y="304.69" font-size="7.3" text-anchor="end" fill="#1e1e1e">20</text>
<line x1="683" y1="278.12" x2="687.8" y2="278.12" stroke="#1f1f1f" stroke-width="1.1"/>
<text x="681.7" y="280.75" font-size="7.3" text-anchor="end" fill="#1e1e1e">40</text>
<line x1="683" y1="254.18" x2="687.8" y2="254.18" stroke="#1f1f1f" stroke-width="1.1"/>
<text x="681.7" y="256.81" font-size="7.3" text-anchor="end" fill="#1e1e1e">60</text>
<line x1="683" y1="230.24" x2="687.8" y2="230.24" stroke="#1f1f1f" stroke-width="1.1"/>
<text x="681.7" y="232.87" font-size="7.3" text-anchor="end" fill="#1e1e1e">80</text>
<line x1="683" y1="206.3" x2="687.8" y2="206.3" stroke="#1f1f1f" stroke-width="1.1"/>
<text x="681.7" y="208.93" font-size="7.3" text-anchor="end" fill="#1e1e1e">100</text>
<line x1="687.2" y1="326" x2="767.7" y2="326" stroke="#1f1f1f" stroke-width="1.25"/>
<line x1="700.4" y1="326" x2="700.4" y2="330.8" stroke="#1f1f1f" stroke-width="1.1"/>
<text x="700.4" y="340.1" font-size="8" text-anchor="middle" fill="#1e1e1e">WT</text>
<line x1="718.9" y1="326" x2="718.9" y2="330.8" stroke="#1f1f1f" stroke-width="1.1"/>
<text x="718.9" y="340.1" font-size="8" text-anchor="middle" fill="#1e1e1e">KO</text>
<line x1="737.1" y1="326" x2="737.1" y2="330.8" stroke="#1f1f1f" stroke-width="1.1"/>
<text x="737.1" y="340.1" font-size="8" text-anchor="middle" fill="#1e1e1e">WT</text>
<line x1="755.8" y1="326" x2="755.8" y2="330.8" stroke="#1f1f1f" stroke-width="1.1"/>
<text x="755.8" y="340.1" font-size="8" text-anchor="middle" fill="#1e1e1e">KO</text>
<line x1="691.9" y1="349.9" x2="724.9" y2="349.9" stroke="#3a3a3a" stroke-width="1.1"/>
<line x1="729.8" y1="349.9" x2="762.3" y2="349.9" stroke="#3a3a3a" stroke-width="1.1"/>
<circle cx="705.05" cy="363.1" r="3.5" fill="none" stroke="#111" stroke-width="1.15"/>
<line x1="706.75" y1="360.3" x2="709.25" y2="353.7" stroke="#111" stroke-width="1"/>
<polyline points="704.85,355.7 709.35,353.5 710.05,358.1" stroke="#111" stroke-width="1" fill="none" stroke-linejoin="round" stroke-linecap="round"/>
<circle cx="745.75" cy="357.7" r="3.5" fill="none" stroke="#111" stroke-width="1.15"/>
<line x1="745.75" y1="361.2" x2="745.75" y2="368" stroke="#111" stroke-width="1.15"/>
<line x1="742.25" y1="364.4" x2="749.25" y2="364.4" stroke="#111" stroke-width="1.15"/>
<text x="664" y="266.8" font-size="8.4" text-anchor="middle" transform="rotate(-90 664 266.8)">% Lean mass</text>
<polyline points="699,220.8 699,215.4 719,215.4 719,220.8" stroke="#1a1a1a" stroke-width="1.2" fill="none"/>
<path d="M709.6,207.3L709.6,204.3M709.6,207.3L712.45,206.37M709.6,207.3L711.36,209.73M709.6,207.3L707.84,209.73M709.6,207.3L706.75,206.37" stroke="#111" stroke-width="1.35" stroke-linecap="round" fill="none"/>
<text x="6" y="385.3" font-size="10.8" font-weight="bold" fill="#111">H</text>
<circle cx="37.2" cy="382.6" r="3.5" fill="none" stroke="#111" stroke-width="1.15"/>
<line x1="38.9" y1="379.8" x2="41.4" y2="373.2" stroke="#111" stroke-width="1"/>
<polyline points="37,375.2 41.5,373 42.2,377.6" stroke="#111" stroke-width="1" fill="none" stroke-linejoin="round" stroke-linecap="round"/>
<rect x="33.2" y="396.1" width="30.7" height="147.5" fill="#dedede"/>
<rect x="104.1" y="396.1" width="29.5" height="147.5" fill="#dedede"/>
<rect x="174" y="396.1" width="31" height="147.5" fill="#dedede"/>
<rect x="34.5" y="489.43" width="10.4" height="54.17" fill="#ffffff" stroke="#141414" stroke-width="1.35"/>
<circle cx="39.7" cy="427.52" r="2.05" fill="none" stroke="#1a1a1a" stroke-width="0.95"/>
<circle cx="39.7" cy="491.36" r="2.05" fill="none" stroke="#1a1a1a" stroke-width="0.95"/>
<circle cx="39.7" cy="497.17" r="2.05" fill="none" stroke="#1a1a1a" stroke-width="0.95"/>
<circle cx="39.7" cy="502" r="2.05" fill="none" stroke="#1a1a1a" stroke-width="0.95"/>
<circle cx="35.3" cy="502.49" r="2.05" fill="none" stroke="#1a1a1a" stroke-width="0.95"/>
<circle cx="44.1" cy="503.94" r="2.05" fill="none" stroke="#1a1a1a" stroke-width="0.95"/>
<circle cx="37.72" cy="504.42" r="2.05" fill="none" stroke="#1a1a1a" stroke-width="0.95"/>
<line x1="39.7" y1="476.85" x2="39.7" y2="502" stroke="#111" stroke-width="1.15"/>
<line x1="37.4" y1="476.85" x2="42" y2="476.85" stroke="#111" stroke-width="1.15"/>
<line x1="37.4" y1="502" x2="42" y2="502" stroke="#111" stroke-width="1.15"/>
<rect x="52.14" y="498.14" width="10.4" height="45.46" fill="#90bdf7" stroke="#141414" stroke-width="1.35"/>
<circle cx="57.34" cy="471.05" r="2.05" fill="none" stroke="#1a1a1a" stroke-width="0.95"/>
<circle cx="57.34" cy="475.89" r="2.05" fill="none" stroke="#1a1a1a" stroke-width="0.95"/>
<circle cx="57.34" cy="482.66" r="2.05" fill="none" stroke="#1a1a1a" stroke-width="0.95"/>
<circle cx="52.94" cy="484.59" r="2.05" fill="none" stroke="#1a1a1a" stroke-width="0.95"/>
<circle cx="57.34" cy="491.85" r="2.05" fill="none" stroke="#1a1a1a" stroke-width="0.95"/>
<circle cx="57.34" cy="496.2" r="2.05" fill="none" stroke="#1a1a1a" stroke-width="0.95"/>
<circle cx="52.94" cy="497.65" r="2.05" fill="none" stroke="#1a1a1a" stroke-width="0.95"/>
<circle cx="61.74" cy="498.62" r="2.05" fill="none" stroke="#1a1a1a" stroke-width="0.95"/>
<circle cx="59.32" cy="499.59" r="2.05" fill="none" stroke="#1a1a1a" stroke-width="0.95"/>
<circle cx="61.3" cy="500.55" r="2.05" fill="none" stroke="#1a1a1a" stroke-width="0.95"/>
<circle cx="55.14" cy="502" r="2.05" fill="none" stroke="#1a1a1a" stroke-width="0.95"/>
<circle cx="55.36" cy="503.46" r="2.05" fill="none" stroke="#1a1a1a" stroke-width="0.95"/>
<circle cx="59.54" cy="504.91" r="2.05" fill="none" stroke="#1a1a1a" stroke-width="0.95"/>
<circle cx="57.34" cy="508.78" r="2.05" fill="none" stroke="#1a1a1a" stroke-width="0.95"/>
<circle cx="57.34" cy="531.02" r="2.05" fill="none" stroke="#1a1a1a" stroke-width="0.95"/>
<line x1="57.34" y1="494.27" x2="57.34" y2="502" stroke="#111" stroke-width="1.15"/>
<line x1="55.04" y1="494.27" x2="59.64" y2="494.27" stroke="#111" stroke-width="1.15"/>
<line x1="55.04" y1="502" x2="59.64" y2="502" stroke="#111" stroke-width="1.15"/>
<rect x="69.78" y="531.99" width="10.4" height="11.61" fill="#ffffff" stroke="#141414" stroke-width="1.35"/>
<circle cx="74.98" cy="526.19" r="2.05" fill="none" stroke="#1a1a1a" stroke-width="0.95"/>
<circle cx="70.58" cy="528.61" r="2.05" fill="none" stroke="#1a1a1a" stroke-width="0.95"/>
<circle cx="74.98" cy="531.02" r="2.05" fill="none" stroke="#1a1a1a" stroke-width="0.95"/>
<circle cx="79.38" cy="531.99" r="2.05" fill="none" stroke="#1a1a1a" stroke-width="0.95"/>
<circle cx="70.58" cy="533.93" r="2.05" fill="none" stroke="#1a1a1a" stroke-width="0.95"/>
<circle cx="74.98" cy="534.89" r="2.05" fill="none" stroke="#1a1a1a" stroke-width="0.95"/>
<line x1="74.98" y1="530.3" x2="74.98" y2="533.68" stroke="#111" stroke-width="1.15"/>
<line x1="72.68" y1="530.3" x2="77.28" y2="530.3" stroke="#111" stroke-width="1.15"/>
<line x1="72.68" y1="533.68" x2="77.28" y2="533.68" stroke="#111" stroke-width="1.15"/>
<rect x="87.42" y="530.69" width="10.4" height="12.91" fill="#90bdf7" stroke="#141414" stroke-width="1.35"/>
<circle cx="92.62" cy="521.35" r="2.05" fill="none" stroke="#1a1a1a" stroke-width="0.95"/>
<circle cx="88.22" cy="522.8" r="2.05" fill="none" stroke="#1a1a1a" stroke-width="0.95"/>
<circle cx="94.82" cy="524.74" r="2.05" fill="none" stroke="#1a1a1a" stroke-width="0.95"/>
<circle cx="94.6" cy="525.7" r="2.05" fill="none" stroke="#1a1a1a" stroke-width="0.95"/>
<circle cx="90.42" cy="526.67" r="2.05" fill="none" stroke="#1a1a1a" stroke-width="0.95"/>
<circle cx="88.66" cy="528.12" r="2.05" fill="none" stroke="#1a1a1a" stroke-width="0.95"/>
<circle cx="94.82" cy="529.57" r="2.05" fill="none" stroke="#1a1a1a" stroke-width="0.95"/>
<circle cx="92.62" cy="530.54" r="2.05" fill="none" stroke="#1a1a1a" stroke-width="0.95"/>
<circle cx="94.6" cy="531.51" r="2.05" fill="none" stroke="#1a1a1a" stroke-width="0.95"/>
<circle cx="88.22" cy="531.99" r="2.05" fill="none" stroke="#1a1a1a" stroke-width="0.95"/>
<circle cx="88.66" cy="533.44" r="2.05" fill="none" stroke="#1a1a1a" stroke-width="0.95"/>
<circle cx="92.62" cy="534.89" r="2.05" fill="none" stroke="#1a1a1a" stroke-width="0.95"/>
<circle cx="97.02" cy="536.83" r="2.05" fill="none" stroke="#1a1a1a" stroke-width="0.95"/>
<circle cx="92.62" cy="539.73" r="2.05" fill="none" stroke="#1a1a1a" stroke-width="0.95"/>
<line x1="92.62" y1="529.24" x2="92.62" y2="532.14" stroke="#111" stroke-width="1.15"/>
<line x1="90.32" y1="529.24" x2="94.92" y2="529.24" stroke="#111" stroke-width="1.15"/>
<line x1="90.32" y1="532.14" x2="94.92" y2="532.14" stroke="#111" stroke-width="1.15"/>
<rect x="105.06" y="543.36" width="10.4" height="0.24" fill="#ffffff" stroke="#141414" stroke-width="1.35"/>
<rect x="104.26" y="541.4" width="12" height="4.4" rx="2.2" fill="#fff" stroke="#111" stroke-width="1.1"/>
<circle cx="106.96" cy="543.6" r="1.3" fill="none" stroke="#222" stroke-width="0.8"/>
<circle cx="110.46" cy="543.6" r="1.3" fill="none" stroke="#222" stroke-width="0.8"/>
<circle cx="113.76" cy="543.6" r="1.3" fill="none" stroke="#222" stroke-width="0.8"/>
<rect x="122.7" y="543.36" width="10.4" height="0.24" fill="#90bdf7" stroke="#141414" stroke-width="1.35"/>
<rect x="121.9" y="541.4" width="12" height="4.4" rx="2.2" fill="#111" stroke="#111" stroke-width="1.1"/>
<rect x="140.34" y="543.36" width="10.4" height="0.24" fill="#ffffff" stroke="#141414" stroke-width="1.35"/>
<rect x="139.54" y="541.4" width="12" height="4.4" rx="2.2" fill="#fff" stroke="#111" stroke-width="1.1"/>
<circle cx="142.24" cy="543.6" r="1.3" fill="none" stroke="#222" stroke-width="0.8"/>
<circle cx="145.74" cy="543.6" r="1.3" fill="none" stroke="#222" stroke-width="0.8"/>
<circle cx="149.04" cy="543.6" r="1.3" fill="none" stroke="#222" stroke-width="0.8"/>
<rect x="157.98" y="543.36" width="10.4" height="0.24" fill="#90bdf7" stroke="#141414" stroke-width="1.35"/>
<rect x="157.18" y="541.4" width="12" height="4.4" rx="2.2" fill="#111" stroke="#111" stroke-width="1.1"/>
<rect x="175.62" y="485.08" width="10.4" height="58.52" fill="#ffffff" stroke="#141414" stroke-width="1.35"/>
<circle cx="180.82" cy="432.36" r="2.05" fill="none" stroke="#1a1a1a" stroke-width="0.95"/>
<circle cx="180.82" cy="483.63" r="2.05" fill="none" stroke="#1a1a1a" stroke-width="0.95"/>
<circle cx="176.42" cy="485.56" r="2.05" fill="none" stroke="#1a1a1a" stroke-width="0.95"/>
<circle cx="185.22" cy="486.04" r="2.05" fill="none" stroke="#1a1a1a" stroke-width="0.95"/>
<circle cx="180.82" cy="492.33" r="2.05" fill="none" stroke="#1a1a1a" stroke-width="0.95"/>
<circle cx="180.82" cy="507.81" r="2.05" fill="none" stroke="#1a1a1a" stroke-width="0.95"/>
<circle cx="176.42" cy="507.81" r="2.05" fill="none" stroke="#1a1a1a" stroke-width="0.95"/>
<line x1="180.82" y1="473.95" x2="180.82" y2="496.2" stroke="#111" stroke-width="1.15"/>
<line x1="178.52" y1="473.95" x2="183.12" y2="473.95" stroke="#111" stroke-width="1.15"/>
<line x1="178.52" y1="496.2" x2="183.12" y2="496.2" stroke="#111" stroke-width="1.15"/>
<rect x="193.26" y="476.85" width="10.4" height="66.75" fill="#90bdf7" stroke="#141414" stroke-width="1.35"/>
<circle cx="198.46" cy="414.46" r="2.05" fill="none" stroke="#1a1a1a" stroke-width="0.95"/>
<circle cx="198.46" cy="453.15" r="2.05" fill="none" stroke="#1a1a1a" stroke-width="0.95"/>
<circle cx="198.46" cy="462.34" r="2.05" fill="none" stroke="#1a1a1a" stroke-width="0.95"/>
<circle cx="194.06" cy="464.76" r="2.05" fill="none" stroke="#1a1a1a" stroke-width="0.95"/>
<circle cx="202.86" cy="464.76" r="2.05" fill="none" stroke="#1a1a1a" stroke-width="0.95"/>
<circle cx="198.46" cy="468.63" r="2.05" fill="none" stroke="#1a1a1a" stroke-width="0.95"/>
<circle cx="198.46" cy="475.89" r="2.05" fill="none" stroke="#1a1a1a" stroke-width="0.95"/>
<circle cx="194.06" cy="476.37" r="2.05" fill="none" stroke="#1a1a1a" stroke-width="0.95"/>
<circle cx="200.66" cy="479.27" r="2.05" fill="none" stroke="#1a1a1a" stroke-width="0.95"/>
<circle cx="198.46" cy="485.08" r="2.05" fill="none" stroke="#1a1a1a" stroke-width="0.95"/>
<circle cx="194.06" cy="485.08" r="2.05" fill="none" stroke="#1a1a1a" stroke-width="0.95"/>
<circle cx="198.46" cy="491.36" r="2.05" fill="none" stroke="#1a1a1a" stroke-width="0.95"/>
<circle cx="194.06" cy="493.78" r="2.05" fill="none" stroke="#1a1a1a" stroke-width="0.95"/>
<circle cx="198.46" cy="504.91" r="2.05" fill="none" stroke="#1a1a1a" stroke-width="0.95"/>
<circle cx="198.46" cy="513.13" r="2.05" fill="none" stroke="#1a1a1a" stroke-width="0.95"/>
<line x1="198.46" y1="470.57" x2="198.46" y2="483.14" stroke="#111" stroke-width="1.15"/>
<line x1="196.16" y1="470.57" x2="200.76" y2="470.57" stroke="#111" stroke-width="1.15"/>
<line x1="196.16" y1="483.14" x2="200.76" y2="483.14" stroke="#111" stroke-width="1.15"/>
<rect x="210.9" y="534.41" width="10.4" height="9.19" fill="#ffffff" stroke="#141414" stroke-width="1.35"/>
<circle cx="216.1" cy="528.61" r="2.05" fill="none" stroke="#1a1a1a" stroke-width="0.95"/>
<circle cx="211.7" cy="531.51" r="2.05" fill="none" stroke="#1a1a1a" stroke-width="0.95"/>
<circle cx="216.1" cy="532.48" r="2.05" fill="none" stroke="#1a1a1a" stroke-width="0.95"/>
<circle cx="220.5" cy="532.96" r="2.05" fill="none" stroke="#1a1a1a" stroke-width="0.95"/>
<circle cx="220.06" cy="533.93" r="2.05" fill="none" stroke="#1a1a1a" stroke-width="0.95"/>
<circle cx="216.1" cy="538.28" r="2.05" fill="none" stroke="#1a1a1a" stroke-width="0.95"/>
<line x1="216.1" y1="532.96" x2="216.1" y2="535.86" stroke="#111" stroke-width="1.15"/>
<line x1="213.8" y1="532.96" x2="218.4" y2="532.96" stroke="#111" stroke-width="1.15"/>
<line x1="213.8" y1="535.86" x2="218.4" y2="535.86" stroke="#111" stroke-width="1.15"/>
<rect x="228.54" y="531.99" width="10.4" height="11.61" fill="#90bdf7" stroke="#141414" stroke-width="1.35"/>
<circle cx="233.74" cy="523.29" r="2.05" fill="none" stroke="#1a1a1a" stroke-width="0.95"/>
<circle cx="229.34" cy="525.22" r="2.05" fill="none" stroke="#1a1a1a" stroke-width="0.95"/>
<circle cx="235.94" cy="526.67" r="2.05" fill="none" stroke="#1a1a1a" stroke-width="0.95"/>
<circle cx="231.54" cy="528.61" r="2.05" fill="none" stroke="#1a1a1a" stroke-width="0.95"/>
<circle cx="237.7" cy="529.57" r="2.05" fill="none" stroke="#1a1a1a" stroke-width="0.95"/>
<circle cx="229.78" cy="530.54" r="2.05" fill="none" stroke="#1a1a1a" stroke-width="0.95"/>
<circle cx="231.76" cy="531.51" r="2.05" fill="none" stroke="#1a1a1a" stroke-width="0.95"/>
<circle cx="233.74" cy="531.99" r="2.05" fill="none" stroke="#1a1a1a" stroke-width="0.95"/>
<circle cx="235.72" cy="532.96" r="2.05" fill="none" stroke="#1a1a1a" stroke-width="0.95"/>
<circle cx="237.7" cy="533.93" r="2.05" fill="none" stroke="#1a1a1a" stroke-width="0.95"/>
<circle cx="229.34" cy="534.89" r="2.05" fill="none" stroke="#1a1a1a" stroke-width="0.95"/>
<circle cx="233.74" cy="536.83" r="2.05" fill="none" stroke="#1a1a1a" stroke-width="0.95"/>
<line x1="233.74" y1="530.78" x2="233.74" y2="533.2" stroke="#111" stroke-width="1.15"/>
<line x1="231.44" y1="530.78" x2="236.04" y2="530.78" stroke="#111" stroke-width="1.15"/>
<line x1="231.44" y1="533.2" x2="236.04" y2="533.2" stroke="#111" stroke-width="1.15"/>
<line x1="28.1" y1="397.9" x2="28.1" y2="544.2" stroke="#1f1f1f" stroke-width="1.25"/>
<line x1="23.3" y1="543.6" x2="28.1" y2="543.6" stroke="#1f1f1f" stroke-width="1.1"/>
<text x="22" y="546.23" font-size="7.3" text-anchor="end" fill="#1e1e1e">0</text>
<line x1="23.3" y1="519.42" x2="28.1" y2="519.42" stroke="#1f1f1f" stroke-width="1.1"/>
<text x="22" y="522.04" font-size="7.3" text-anchor="end" fill="#1e1e1e">5</text>
<line x1="23.3" y1="495.23" x2="28.1" y2="495.23" stroke="#1f1f1f" stroke-width="1.1"/>
<text x="22" y="497.86" font-size="7.3" text-anchor="end" fill="#1e1e1e">10</text>
<line x1="23.3" y1="471.05" x2="28.1" y2="471.05" stroke="#1f1f1f" stroke-width="1.1"/>
<text x="22" y="473.68" font-size="7.3" text-anchor="end" fill="#1e1e1e">15</text>
<line x1="23.3" y1="446.87" x2="28.1" y2="446.87" stroke="#1f1f1f" stroke-width="1.1"/>
<text x="22" y="449.49" font-size="7.3" text-anchor="end" fill="#1e1e1e">20</text>
<line x1="23.3" y1="422.68" x2="28.1" y2="422.68" stroke="#1f1f1f" stroke-width="1.1"/>
<text x="22" y="425.31" font-size="7.3" text-anchor="end" fill="#1e1e1e">25</text>
<line x1="23.3" y1="398.5" x2="28.1" y2="398.5" stroke="#1f1f1f" stroke-width="1.1"/>
<text x="22" y="401.13" font-size="7.3" text-anchor="end" fill="#1e1e1e">30</text>
<line x1="27.5" y1="543.6" x2="245.8" y2="543.6" stroke="#1f1f1f" stroke-width="1.25"/>
<line x1="39.7" y1="543.6" x2="39.7" y2="548.4" stroke="#1f1f1f" stroke-width="1.1"/>
<text x="0" y="0" font-size="6.9" transform="translate(39.7 555.9) scale(0.87 1)" text-anchor="middle" fill="#1e1e1e">WT</text>
<line x1="57.34" y1="543.6" x2="57.34" y2="548.4" stroke="#1f1f1f" stroke-width="1.1"/>
<text x="0" y="0" font-size="6.9" transform="translate(57.34 555.9) scale(0.87 1)" text-anchor="middle" fill="#1e1e1e">KO</text>
<line x1="74.98" y1="543.6" x2="74.98" y2="548.4" stroke="#1f1f1f" stroke-width="1.1"/>
<text x="0" y="0" font-size="6.9" transform="translate(74.98 555.9) scale(0.87 1)" text-anchor="middle" fill="#1e1e1e">WT</text>
<line x1="92.62" y1="543.6" x2="92.62" y2="548.4" stroke="#1f1f1f" stroke-width="1.1"/>
<text x="0" y="0" font-size="6.9" transform="translate(92.62 555.9) scale(0.87 1)" text-anchor="middle" fill="#1e1e1e">KO</text>
<line x1="110.26" y1="543.6" x2="110.26" y2="548.4" stroke="#1f1f1f" stroke-width="1.1"/>
<text x="0" y="0" font-size="6.9" transform="translate(110.26 555.9) scale(0.87 1)" text-anchor="middle" fill="#1e1e1e">WT</text>
<line x1="127.9" y1="543.6" x2="127.9" y2="548.4" stroke="#1f1f1f" stroke-width="1.1"/>
<text x="0" y="0" font-size="6.9" transform="translate(127.9 555.9) scale(0.87 1)" text-anchor="middle" fill="#1e1e1e">KO</text>
<line x1="145.54" y1="543.6" x2="145.54" y2="548.4" stroke="#1f1f1f" stroke-width="1.1"/>
<text x="0" y="0" font-size="6.9" transform="translate(145.54 555.9) scale(0.87 1)" text-anchor="middle" fill="#1e1e1e">WT</text>
<line x1="163.18" y1="543.6" x2="163.18" y2="548.4" stroke="#1f1f1f" stroke-width="1.1"/>
<text x="0" y="0" font-size="6.9" transform="translate(163.18 555.9) scale(0.87 1)" text-anchor="middle" fill="#1e1e1e">KO</text>
<line x1="180.82" y1="543.6" x2="180.82" y2="548.4" stroke="#1f1f1f" stroke-width="1.1"/>
<text x="0" y="0" font-size="6.9" transform="translate(180.82 555.9) scale(0.87 1)" text-anchor="middle" fill="#1e1e1e">WT</text>
<line x1="198.46" y1="543.6" x2="198.46" y2="548.4" stroke="#1f1f1f" stroke-width="1.1"/>
<text x="0" y="0" font-size="6.9" transform="translate(198.46 555.9) scale(0.87 1)" text-anchor="middle" fill="#1e1e1e">KO</text>
<line x1="216.1" y1="543.6" x2="216.1" y2="548.4" stroke="#1f1f1f" stroke-width="1.1"/>
<text x="0" y="0" font-size="6.9" transform="translate(216.1 555.9) scale(0.87 1)" text-anchor="middle" fill="#1e1e1e">WT</text>
<line x1="233.74" y1="543.6" x2="233.74" y2="548.4" stroke="#1f1f1f" stroke-width="1.1"/>
<text x="0" y="0" font-size="6.9" transform="translate(233.74 555.9) scale(0.87 1)" text-anchor="middle" fill="#1e1e1e">KO</text>
<line x1="35.2" y1="563.8" x2="97.4" y2="563.8" stroke="#1a1a1a" stroke-width="1.1"/>
<line x1="106" y1="563.8" x2="168" y2="563.8" stroke="#1a1a1a" stroke-width="1.1"/>
<line x1="180" y1="563.8" x2="241.8" y2="563.8" stroke="#1a1a1a" stroke-width="1.1"/>
<text x="67.9" y="577.3" font-size="8.6" text-anchor="middle">Ad libitum</text>
<text x="138.2" y="577.3" font-size="8.6" text-anchor="middle">Fast</text>
<text x="213.2" y="577.3" font-size="8.6" text-anchor="middle">Refeed</text>
<text x="48.2" y="404.2" font-size="7.7" text-anchor="middle" fill="#1c1c1c">Dark</text>
<text x="48.2" y="413.2" font-size="7.7" text-anchor="middle" fill="#1c1c1c">cycle</text>
<text x="85" y="403.6" font-size="7.7" text-anchor="middle" fill="#1c1c1c">Light</text>
<text x="85" y="412.6" font-size="7.7" text-anchor="middle" fill="#1c1c1c">cycle</text>
<text x="8.3" y="471.5" font-size="8.85" text-anchor="middle" transform="rotate(-90 8.3 471.5)">Food intake (kcal)</text>
<text x="261.5" y="385.3" font-size="10.8" font-weight="bold" fill="#111">I</text>
<rect x="303.3" y="395.1" width="30.6" height="147.2" fill="#dedede"/>
<rect x="374" y="395.1" width="29.8" height="147.2" fill="#dedede"/>
<rect x="445.4" y="395.1" width="28.6" height="147.2" fill="#dedede"/>
<rect x="304.5" y="528.8" width="10.4" height="13.5" fill="#ffffff" stroke="#141414" stroke-width="1.35"/>
<circle cx="309.7" cy="522.84" r="2.05" fill="none" stroke="#1a1a1a" stroke-width="0.95"/>
<circle cx="305.3" cy="525.75" r="2.05" fill="none" stroke="#1a1a1a" stroke-width="0.95"/>
<circle cx="309.7" cy="528.8" r="2.05" fill="none" stroke="#1a1a1a" stroke-width="0.95"/>
<circle cx="314.1" cy="529.23" r="2.05" fill="none" stroke="#1a1a1a" stroke-width="0.95"/>
<circle cx="305.3" cy="529.96" r="2.05" fill="none" stroke="#1a1a1a" stroke-width="0.95"/>
<circle cx="305.74" cy="530.83" r="2.05" fill="none" stroke="#1a1a1a" stroke-width="0.95"/>
<circle cx="309.7" cy="532.86" r="2.05" fill="none" stroke="#1a1a1a" stroke-width="0.95"/>
<line x1="309.7" y1="527.49" x2="309.7" y2="530.1" stroke="#111" stroke-width="1.15"/>
<line x1="307.4" y1="527.49" x2="312" y2="527.49" stroke="#111" stroke-width="1.15"/>
<line x1="307.4" y1="530.1" x2="312" y2="530.1" stroke="#111" stroke-width="1.15"/>
<rect x="322.14" y="517.18" width="10.4" height="25.12" fill="#90bdf7" stroke="#141414" stroke-width="1.35"/>
<circle cx="327.34" cy="491.48" r="2.05" fill="none" stroke="#1a1a1a" stroke-width="0.95"/>
<circle cx="322.94" cy="491.48" r="2.05" fill="none" stroke="#1a1a1a" stroke-width="0.95"/>
<circle cx="327.34" cy="505.71" r="2.05" fill="none" stroke="#1a1a1a" stroke-width="0.95"/>
<circle cx="327.34" cy="511.81" r="2.05" fill="none" stroke="#1a1a1a" stroke-width="0.95"/>
<circle cx="322.94" cy="513.26" r="2.05" fill="none" stroke="#1a1a1a" stroke-width="0.95"/>
<circle cx="331.74" cy="513.7" r="2.05" fill="none" stroke="#1a1a1a" stroke-width="0.95"/>
<circle cx="327.34" cy="516.16" r="2.05" fill="none" stroke="#1a1a1a" stroke-width="0.95"/>
<circle cx="322.94" cy="518.78" r="2.05" fill="none" stroke="#1a1a1a" stroke-width="0.95"/>
<circle cx="327.34" cy="520.81" r="2.05" fill="none" stroke="#1a1a1a" stroke-width="0.95"/>
<circle cx="322.94" cy="522.84" r="2.05" fill="none" stroke="#1a1a1a" stroke-width="0.95"/>
<circle cx="327.34" cy="524.88" r="2.05" fill="none" stroke="#1a1a1a" stroke-width="0.95"/>
<circle cx="331.74" cy="525.75" r="2.05" fill="none" stroke="#1a1a1a" stroke-width="0.95"/>
<circle cx="327.34" cy="530.83" r="2.05" fill="none" stroke="#1a1a1a" stroke-width="0.95"/>
<circle cx="322.94" cy="532.86" r="2.05" fill="none" stroke="#1a1a1a" stroke-width="0.95"/>
<line x1="327.34" y1="513.84" x2="327.34" y2="520.52" stroke="#111" stroke-width="1.15"/>
<line x1="325.04" y1="513.84" x2="329.64" y2="513.84" stroke="#111" stroke-width="1.15"/>
<line x1="325.04" y1="520.52" x2="329.64" y2="520.52" stroke="#111" stroke-width="1.15"/>
<rect x="339.78" y="537.94" width="10.4" height="4.36" fill="#ffffff" stroke="#141414" stroke-width="1.35"/>
<circle cx="344.98" cy="534.89" r="2.05" fill="none" stroke="#1a1a1a" stroke-width="0.95"/>
<circle cx="340.58" cy="536.93" r="2.05" fill="none" stroke="#1a1a1a" stroke-width="0.95"/>
<circle cx="347.18" cy="537.94" r="2.05" fill="none" stroke="#1a1a1a" stroke-width="0.95"/>
<circle cx="346.96" cy="538.67" r="2.05" fill="none" stroke="#1a1a1a" stroke-width="0.95"/>
<circle cx="348.94" cy="539.4" r="2.05" fill="none" stroke="#1a1a1a" stroke-width="0.95"/>
<circle cx="341.02" cy="539.83" r="2.05" fill="none" stroke="#1a1a1a" stroke-width="0.95"/>
<line x1="344.98" y1="537.07" x2="344.98" y2="538.82" stroke="#111" stroke-width="1.15"/>
<line x1="342.68" y1="537.07" x2="347.28" y2="537.07" stroke="#111" stroke-width="1.15"/>
<line x1="342.68" y1="538.82" x2="347.28" y2="538.82" stroke="#111" stroke-width="1.15"/>
<rect x="357.42" y="534.89" width="10.4" height="7.41" fill="#90bdf7" stroke="#141414" stroke-width="1.35"/>
<circle cx="362.62" cy="522.84" r="2.05" fill="none" stroke="#1a1a1a" stroke-width="0.95"/>
<circle cx="362.62" cy="531.85" r="2.05" fill="none" stroke="#1a1a1a" stroke-width="0.95"/>
<circle cx="358.22" cy="532.86" r="2.05" fill="none" stroke="#1a1a1a" stroke-width="0.95"/>
<circle cx="367.02" cy="533.59" r="2.05" fill="none" stroke="#1a1a1a" stroke-width="0.95"/>
<circle cx="366.58" cy="533.88" r="2.05" fill="none" stroke="#1a1a1a" stroke-width="0.95"/>
<circle cx="358.66" cy="535.04" r="2.05" fill="none" stroke="#1a1a1a" stroke-width="0.95"/>
<circle cx="362.62" cy="536.06" r="2.05" fill="none" stroke="#1a1a1a" stroke-width="0.95"/>
<circle cx="362.62" cy="536.93" r="2.05" fill="none" stroke="#1a1a1a" stroke-width="0.95"/>
<circle cx="367.02" cy="537.94" r="2.05" fill="none" stroke="#1a1a1a" stroke-width="0.95"/>
<circle cx="358.22" cy="539.83" r="2.05" fill="none" stroke="#1a1a1a" stroke-width="0.95"/>
<line x1="362.62" y1="533.59" x2="362.62" y2="536.2" stroke="#111" stroke-width="1.15"/>
<line x1="360.32" y1="533.59" x2="364.92" y2="533.59" stroke="#111" stroke-width="1.15"/>
<line x1="360.32" y1="536.2" x2="364.92" y2="536.2" stroke="#111" stroke-width="1.15"/>
<rect x="375.06" y="519.79" width="10.4" height="22.51" fill="#ffffff" stroke="#141414" stroke-width="1.35"/>
<circle cx="380.26" cy="508.76" r="2.05" fill="none" stroke="#1a1a1a" stroke-width="0.95"/>
<circle cx="378.06" cy="511.81" r="2.05" fill="none" stroke="#1a1a1a" stroke-width="0.95"/>
<circle cx="382.46" cy="513.26" r="2.05" fill="none" stroke="#1a1a1a" stroke-width="0.95"/>
<circle cx="382.24" cy="513.7" r="2.05" fill="none" stroke="#1a1a1a" stroke-width="0.95"/>
<circle cx="380.26" cy="518.78" r="2.05" fill="none" stroke="#1a1a1a" stroke-width="0.95"/>
<circle cx="380.26" cy="523.42" r="2.05" fill="none" stroke="#1a1a1a" stroke-width="0.95"/>
<circle cx="375.86" cy="523.86" r="2.05" fill="none" stroke="#1a1a1a" stroke-width="0.95"/>
<circle cx="380.26" cy="534.89" r="2.05" fill="none" stroke="#1a1a1a" stroke-width="0.95"/>
<line x1="380.26" y1="516.6" x2="380.26" y2="522.99" stroke="#111" stroke-width="1.15"/>
<line x1="377.96" y1="516.6" x2="382.56" y2="516.6" stroke="#111" stroke-width="1.15"/>
<line x1="377.96" y1="522.99" x2="382.56" y2="522.99" stroke="#111" stroke-width="1.15"/>
<rect x="392.7" y="483.64" width="10.4" height="58.66" fill="#90bdf7" stroke="#141414" stroke-width="1.35"/>
<circle cx="397.9" cy="426.87" r="2.05" fill="none" stroke="#1a1a1a" stroke-width="0.95"/>
<circle cx="393.5" cy="428.17" r="2.05" fill="none" stroke="#1a1a1a" stroke-width="0.95"/>
<circle cx="402.3" cy="429.04" r="2.05" fill="none" stroke="#1a1a1a" stroke-width="0.95"/>
<circle cx="397.9" cy="467.38" r="2.05" fill="none" stroke="#1a1a1a" stroke-width="0.95"/>
<circle cx="397.9" cy="474.49" r="2.05" fill="none" stroke="#1a1a1a" stroke-width="0.95"/>
<circle cx="397.9" cy="482.62" r="2.05" fill="none" stroke="#1a1a1a" stroke-width="0.95"/>
<circle cx="397.9" cy="490.17" r="2.05" fill="none" stroke="#1a1a1a" stroke-width="0.95"/>
<circle cx="393.5" cy="492.93" r="2.05" fill="none" stroke="#1a1a1a" stroke-width="0.95"/>
<circle cx="397.9" cy="498.3" r="2.05" fill="none" stroke="#1a1a1a" stroke-width="0.95"/>
<circle cx="393.5" cy="498.74" r="2.05" fill="none" stroke="#1a1a1a" stroke-width="0.95"/>
<circle cx="400.1" cy="501.64" r="2.05" fill="none" stroke="#1a1a1a" stroke-width="0.95"/>
<circle cx="397.9" cy="508.76" r="2.05" fill="none" stroke="#1a1a1a" stroke-width="0.95"/>
<circle cx="395.7" cy="511.81" r="2.05" fill="none" stroke="#1a1a1a" stroke-width="0.95"/>
<circle cx="400.1" cy="513.11" r="2.05" fill="none" stroke="#1a1a1a" stroke-width="0.95"/>
<circle cx="397.9" cy="518.78" r="2.05" fill="none" stroke="#1a1a1a" stroke-width="0.95"/>
<line x1="397.9" y1="476.38" x2="397.9" y2="490.9" stroke="#111" stroke-width="1.15"/>
<line x1="395.6" y1="476.38" x2="400.2" y2="476.38" stroke="#111" stroke-width="1.15"/>
<line x1="395.6" y1="490.9" x2="400.2" y2="490.9" stroke="#111" stroke-width="1.15"/>
<rect x="410.34" y="538.52" width="10.4" height="3.78" fill="#ffffff" stroke="#141414" stroke-width="1.35"/>
<circle cx="415.54" cy="536.93" r="2.05" fill="none" stroke="#1a1a1a" stroke-width="0.95"/>
<circle cx="411.14" cy="537.94" r="2.05" fill="none" stroke="#1a1a1a" stroke-width="0.95"/>
<circle cx="419.94" cy="538.82" r="2.05" fill="none" stroke="#1a1a1a" stroke-width="0.95"/>
<circle cx="417.52" cy="539.4" r="2.05" fill="none" stroke="#1a1a1a" stroke-width="0.95"/>
<circle cx="419.5" cy="539.83" r="2.05" fill="none" stroke="#1a1a1a" stroke-width="0.95"/>
<circle cx="411.58" cy="540.12" r="2.05" fill="none" stroke="#1a1a1a" stroke-width="0.95"/>
<line x1="415.54" y1="537.94" x2="415.54" y2="539.11" stroke="#111" stroke-width="1.15"/>
<line x1="413.24" y1="537.94" x2="417.84" y2="537.94" stroke="#111" stroke-width="1.15"/>
<line x1="413.24" y1="539.11" x2="417.84" y2="539.11" stroke="#111" stroke-width="1.15"/>
<rect x="427.98" y="522.41" width="10.4" height="19.89" fill="#90bdf7" stroke="#141414" stroke-width="1.35"/>
<circle cx="433.18" cy="436.3" r="2.05" fill="none" stroke="#1a1a1a" stroke-width="0.95"/>
<circle cx="433.18" cy="482.04" r="2.05" fill="none" stroke="#1a1a1a" stroke-width="0.95"/>
<circle cx="433.18" cy="517.76" r="2.05" fill="none" stroke="#1a1a1a" stroke-width="0.95"/>
<circle cx="433.18" cy="522.84" r="2.05" fill="none" stroke="#1a1a1a" stroke-width="0.95"/>
<circle cx="430.98" cy="526.33" r="2.05" fill="none" stroke="#1a1a1a" stroke-width="0.95"/>
<circle cx="435.38" cy="528.8" r="2.05" fill="none" stroke="#1a1a1a" stroke-width="0.95"/>
<circle cx="433.18" cy="531.85" r="2.05" fill="none" stroke="#1a1a1a" stroke-width="0.95"/>
<circle cx="430.98" cy="535.04" r="2.05" fill="none" stroke="#1a1a1a" stroke-width="0.95"/>
<circle cx="435.38" cy="536.93" r="2.05" fill="none" stroke="#1a1a1a" stroke-width="0.95"/>
<circle cx="430.98" cy="539.83" r="2.05" fill="none" stroke="#1a1a1a" stroke-width="0.95"/>
<line x1="433.18" y1="513.7" x2="433.18" y2="531.12" stroke="#111" stroke-width="1.15"/>
<line x1="430.88" y1="513.7" x2="435.48" y2="513.7" stroke="#111" stroke-width="1.15"/>
<line x1="430.88" y1="531.12" x2="435.48" y2="531.12" stroke="#111" stroke-width="1.15"/>
<rect x="445.62" y="529.52" width="10.4" height="12.78" fill="#ffffff" stroke="#141414" stroke-width="1.35"/>
<circle cx="450.82" cy="519.21" r="2.05" fill="none" stroke="#1a1a1a" stroke-width="0.95"/>
<circle cx="450.82" cy="525.17" r="2.05" fill="none" stroke="#1a1a1a" stroke-width="0.95"/>
<circle cx="448.62" cy="528.8" r="2.05" fill="none" stroke="#1a1a1a" stroke-width="0.95"/>
<circle cx="453.02" cy="529.23" r="2.05" fill="none" stroke="#1a1a1a" stroke-width="0.95"/>
<circle cx="454.78" cy="529.96" r="2.05" fill="none" stroke="#1a1a1a" stroke-width="0.95"/>
<circle cx="446.86" cy="530.83" r="2.05" fill="none" stroke="#1a1a1a" stroke-width="0.95"/>
<circle cx="450.82" cy="533.88" r="2.05" fill="none" stroke="#1a1a1a" stroke-width="0.95"/>
<line x1="450.82" y1="527.78" x2="450.82" y2="531.26" stroke="#111" stroke-width="1.15"/>
<line x1="448.52" y1="527.78" x2="453.12" y2="527.78" stroke="#111" stroke-width="1.15"/>
<line x1="448.52" y1="531.26" x2="453.12" y2="531.26" stroke="#111" stroke-width="1.15"/>
<rect x="463.26" y="518.34" width="10.4" height="23.96" fill="#90bdf7" stroke="#141414" stroke-width="1.35"/>
<circle cx="468.46" cy="501.64" r="2.05" fill="none" stroke="#1a1a1a" stroke-width="0.95"/>
<circle cx="466.26" cy="504.69" r="2.05" fill="none" stroke="#1a1a1a" stroke-width="0.95"/>
<circle cx="468.46" cy="508.76" r="2.05" fill="none" stroke="#1a1a1a" stroke-width="0.95"/>
<circle cx="468.46" cy="514.71" r="2.05" fill="none" stroke="#1a1a1a" stroke-width="0.95"/>
<circle cx="464.06" cy="515.73" r="2.05" fill="none" stroke="#1a1a1a" stroke-width="0.95"/>
<circle cx="472.86" cy="516.89" r="2.05" fill="none" stroke="#1a1a1a" stroke-width="0.95"/>
<circle cx="468.46" cy="518.78" r="2.05" fill="none" stroke="#1a1a1a" stroke-width="0.95"/>
<circle cx="464.06" cy="519.79" r="2.05" fill="none" stroke="#1a1a1a" stroke-width="0.95"/>
<circle cx="468.46" cy="522.84" r="2.05" fill="none" stroke="#1a1a1a" stroke-width="0.95"/>
<circle cx="464.06" cy="524.88" r="2.05" fill="none" stroke="#1a1a1a" stroke-width="0.95"/>
<circle cx="468.46" cy="526.76" r="2.05" fill="none" stroke="#1a1a1a" stroke-width="0.95"/>
<circle cx="466.26" cy="529.81" r="2.05" fill="none" stroke="#1a1a1a" stroke-width="0.95"/>
<line x1="468.46" y1="516.16" x2="468.46" y2="520.52" stroke="#111" stroke-width="1.15"/>
<line x1="466.16" y1="516.16" x2="470.76" y2="516.16" stroke="#111" stroke-width="1.15"/>
<line x1="466.16" y1="520.52" x2="470.76" y2="520.52" stroke="#111" stroke-width="1.15"/>
<rect x="480.9" y="538.96" width="10.4" height="3.34" fill="#ffffff" stroke="#141414" stroke-width="1.35"/>
<circle cx="486.1" cy="536.93" r="2.05" fill="none" stroke="#1a1a1a" stroke-width="0.95"/>
<circle cx="481.7" cy="538.23" r="2.05" fill="none" stroke="#1a1a1a" stroke-width="0.95"/>
<circle cx="490.5" cy="538.67" r="2.05" fill="none" stroke="#1a1a1a" stroke-width="0.95"/>
<circle cx="488.08" cy="539.25" r="2.05" fill="none" stroke="#1a1a1a" stroke-width="0.95"/>
<circle cx="490.06" cy="540.12" r="2.05" fill="none" stroke="#1a1a1a" stroke-width="0.95"/>
<line x1="486.1" y1="538.38" x2="486.1" y2="539.54" stroke="#111" stroke-width="1.15"/>
<line x1="483.8" y1="538.38" x2="488.4" y2="538.38" stroke="#111" stroke-width="1.15"/>
<line x1="483.8" y1="539.54" x2="488.4" y2="539.54" stroke="#111" stroke-width="1.15"/>
<rect x="498.54" y="536.49" width="10.4" height="5.81" fill="#90bdf7" stroke="#141414" stroke-width="1.35"/>
<circle cx="503.74" cy="530.83" r="2.05" fill="none" stroke="#1a1a1a" stroke-width="0.95"/>
<circle cx="499.34" cy="532.86" r="2.05" fill="none" stroke="#1a1a1a" stroke-width="0.95"/>
<circle cx="505.94" cy="533.88" r="2.05" fill="none" stroke="#1a1a1a" stroke-width="0.95"/>
<circle cx="505.72" cy="535.77" r="2.05" fill="none" stroke="#1a1a1a" stroke-width="0.95"/>
<circle cx="501.54" cy="536.93" r="2.05" fill="none" stroke="#1a1a1a" stroke-width="0.95"/>
<circle cx="499.78" cy="537.94" r="2.05" fill="none" stroke="#1a1a1a" stroke-width="0.95"/>
<circle cx="505.94" cy="539.83" r="2.05" fill="none" stroke="#1a1a1a" stroke-width="0.95"/>
<line x1="503.74" y1="535.62" x2="503.74" y2="537.36" stroke="#111" stroke-width="1.15"/>
<line x1="501.44" y1="535.62" x2="506.04" y2="535.62" stroke="#111" stroke-width="1.15"/>
<line x1="501.44" y1="537.36" x2="506.04" y2="537.36" stroke="#111" stroke-width="1.15"/>
<line x1="298.3" y1="396.5" x2="298.3" y2="542.9" stroke="#1f1f1f" stroke-width="1.25"/>
<line x1="293.5" y1="542.3" x2="298.3" y2="542.3" stroke="#1f1f1f" stroke-width="1.1"/>
<text x="292.2" y="544.93" font-size="7.3" text-anchor="end" fill="#1e1e1e">0</text>
<line x1="293.5" y1="513.26" x2="298.3" y2="513.26" stroke="#1f1f1f" stroke-width="1.1"/>
<text x="292.2" y="515.89" font-size="7.3" text-anchor="end" fill="#1e1e1e">20000</text>
<line x1="293.5" y1="484.22" x2="298.3" y2="484.22" stroke="#1f1f1f" stroke-width="1.1"/>
<text x="292.2" y="486.85" font-size="7.3" text-anchor="end" fill="#1e1e1e">40000</text>
<line x1="293.5" y1="455.18" x2="298.3" y2="455.18" stroke="#1f1f1f" stroke-width="1.1"/>
<text x="292.2" y="457.81" font-size="7.3" text-anchor="end" fill="#1e1e1e">60000</text>
<line x1="293.5" y1="426.14" x2="298.3" y2="426.14" stroke="#1f1f1f" stroke-width="1.1"/>
<text x="292.2" y="428.77" font-size="7.3" text-anchor="end" fill="#1e1e1e">80000</text>
<line x1="293.5" y1="397.1" x2="298.3" y2="397.1" stroke="#1f1f1f" stroke-width="1.1"/>
<text x="292.2" y="399.73" font-size="7.3" text-anchor="end" fill="#1e1e1e">100000</text>
<line x1="297.7" y1="542.3" x2="516.4" y2="542.3" stroke="#1f1f1f" stroke-width="1.25"/>
<line x1="309.7" y1="542.3" x2="309.7" y2="547.1" stroke="#1f1f1f" stroke-width="1.1"/>
<text x="0" y="0" font-size="6.9" transform="translate(309.7 554.6) scale(0.87 1)" text-anchor="middle" fill="#1e1e1e">WT</text>
<line x1="327.34" y1="542.3" x2="327.34" y2="547.1" stroke="#1f1f1f" stroke-width="1.1"/>
<text x="0" y="0" font-size="6.9" transform="translate(327.34 554.6) scale(0.87 1)" text-anchor="middle" fill="#1e1e1e">KO</text>
<line x1="344.98" y1="542.3" x2="344.98" y2="547.1" stroke="#1f1f1f" stroke-width="1.1"/>
<text x="0" y="0" font-size="6.9" transform="translate(344.98 554.6) scale(0.87 1)" text-anchor="middle" fill="#1e1e1e">WT</text>
<line x1="362.62" y1="542.3" x2="362.62" y2="547.1" stroke="#1f1f1f" stroke-width="1.1"/>
<text x="0" y="0" font-size="6.9" transform="translate(362.62 554.6) scale(0.87 1)" text-anchor="middle" fill="#1e1e1e">KO</text>
<line x1="380.26" y1="542.3" x2="380.26" y2="547.1" stroke="#1f1f1f" stroke-width="1.1"/>
<text x="0" y="0" font-size="6.9" transform="translate(380.26 554.6) scale(0.87 1)" text-anchor="middle" fill="#1e1e1e">WT</text>
<line x1="397.9" y1="542.3" x2="397.9" y2="547.1" stroke="#1f1f1f" stroke-width="1.1"/>
<text x="0" y="0" font-size="6.9" transform="translate(397.9 554.6) scale(0.87 1)" text-anchor="middle" fill="#1e1e1e">KO</text>
<line x1="415.54" y1="542.3" x2="415.54" y2="547.1" stroke="#1f1f1f" stroke-width="1.1"/>
<text x="0" y="0" font-size="6.9" transform="translate(415.54 554.6) scale(0.87 1)" text-anchor="middle" fill="#1e1e1e">WT</text>
<line x1="433.18" y1="542.3" x2="433.18" y2="547.1" stroke="#1f1f1f" stroke-width="1.1"/>
<text x="0" y="0" font-size="6.9" transform="translate(433.18 554.6) scale(0.87 1)" text-anchor="middle" fill="#1e1e1e">KO</text>
<line x1="450.82" y1="542.3" x2="450.82" y2="547.1" stroke="#1f1f1f" stroke-width="1.1"/>
<text x="0" y="0" font-size="6.9" transform="translate(450.82 554.6) scale(0.87 1)" text-anchor="middle" fill="#1e1e1e">WT</text>
<line x1="468.46" y1="542.3" x2="468.46" y2="547.1" stroke="#1f1f1f" stroke-width="1.1"/>
<text x="0" y="0" font-size="6.9" transform="translate(468.46 554.6) scale(0.87 1)" text-anchor="middle" fill="#1e1e1e">KO</text>
<line x1="486.1" y1="542.3" x2="486.1" y2="547.1" stroke="#1f1f1f" stroke-width="1.1"/>
<text x="0" y="0" font-size="6.9" transform="translate(486.1 554.6) scale(0.87 1)" text-anchor="middle" fill="#1e1e1e">WT</text>
<line x1="503.74" y1="542.3" x2="503.74" y2="547.1" stroke="#1f1f1f" stroke-width="1.1"/>
<text x="0" y="0" font-size="6.9" transform="translate(503.74 554.6) scale(0.87 1)" text-anchor="middle" fill="#1e1e1e">KO</text>
<line x1="305.3" y1="562.6" x2="367.7" y2="562.6" stroke="#1a1a1a" stroke-width="1.1"/>
<line x1="376.4" y1="562.6" x2="438" y2="562.6" stroke="#1a1a1a" stroke-width="1.1"/>
<line x1="450" y1="562.6" x2="511.8" y2="562.6" stroke="#1a1a1a" stroke-width="1.1"/>
<text x="317.8" y="576.1" font-size="8.6">Ad</text>
<text x="317.8" y="586.2" font-size="8.6">libitum</text>
<text x="407.6" y="575.5" font-size="8.6" text-anchor="middle">Fast</text>
<text x="483" y="575.5" font-size="8.6" text-anchor="middle">Refeed</text>
<text x="317.8" y="402.2" font-size="7.7" text-anchor="middle" fill="#1c1c1c">Dark</text>
<text x="317.8" y="410.2" font-size="7.7" text-anchor="middle" fill="#1c1c1c">cycle</text>
<text x="354.6" y="401.2" font-size="7.7" text-anchor="middle" fill="#1c1c1c">Light</text>
<text x="354.6" y="409.2" font-size="7.7" text-anchor="middle" fill="#1c1c1c">cycle</text>
<text x="261" y="470.5" font-size="9.05" text-anchor="middle" transform="rotate(-90 261 470.5)">Ambulatory activity (beam breaks)</text>
<polyline points="310.4,473 310.4,467.5 327.4,467.5 327.4,473" stroke="#1a1a1a" stroke-width="1.2" fill="none"/>
<path d="M319,458.5L319,455.5M319,458.5L321.85,457.57M319,458.5L320.76,460.93M319,458.5L317.24,460.93M319,458.5L316.15,457.57" stroke="#111" stroke-width="1.35" stroke-linecap="round" fill="none"/>
<polyline points="346,489.1 346,483.6 363,483.6 363,489.1" stroke="#1a1a1a" stroke-width="1.2" fill="none"/>
<text x="339.5" y="473.6" font-size="7.6" fill="#1a1a1a"><tspan font-style="italic">P</tspan> = 0.06</text>
<polyline points="381.1,421.4 381.1,415.6 398,415.6 398,421.4" stroke="#1a1a1a" stroke-width="1.2" fill="none"/>
<path d="M386.2,405.3L386.2,402.3M386.2,405.3L389.05,404.37M386.2,405.3L387.96,407.73M386.2,405.3L384.44,407.73M386.2,405.3L383.35,404.37M393.2,405.3L393.2,402.3M393.2,405.3L396.05,404.37M393.2,405.3L394.96,407.73M393.2,405.3L391.44,407.73M393.2,405.3L390.35,404.37" stroke="#111" stroke-width="1.35" stroke-linecap="round" fill="none"/>
<polyline points="416.7,472.6 416.7,466.9 434,466.9 434,472.6" stroke="#1a1a1a" stroke-width="1.2" fill="none"/>
<text x="411.5" y="458.9" font-size="7.6" fill="#1a1a1a"><tspan font-style="italic">P</tspan> = 0.09</text>
<polyline points="451.4,428.3 451.4,422.7 468.5,422.7 468.5,428.3" stroke="#1a1a1a" stroke-width="1.2" fill="none"/>
<path d="M456.5,412.6L456.5,409.6M456.5,412.6L459.35,411.67M456.5,412.6L458.26,415.03M456.5,412.6L454.74,415.03M456.5,412.6L453.65,411.67M463.5,412.6L463.5,409.6M463.5,412.6L466.35,411.67M463.5,412.6L465.26,415.03M463.5,412.6L461.74,415.03M463.5,412.6L460.65,411.67" stroke="#111" stroke-width="1.35" stroke-linecap="round" fill="none"/>
<polyline points="487,428.3 487,422.7 504.1,422.7 504.1,428.3" stroke="#1a1a1a" stroke-width="1.2" fill="none"/>
<path d="M492.2,412.6L492.2,409.6M492.2,412.6L495.05,411.67M492.2,412.6L493.96,415.03M492.2,412.6L490.44,415.03M492.2,412.6L489.35,411.67M499.2,412.6L499.2,409.6M499.2,412.6L502.05,411.67M499.2,412.6L500.96,415.03M499.2,412.6L497.44,415.03M499.2,412.6L496.35,411.67" stroke="#111" stroke-width="1.35" stroke-linecap="round" fill="none"/>
<text x="525.5" y="385.3" font-size="10.8" font-weight="bold" fill="#111">J</text>
<rect x="554.2" y="395.1" width="31.2" height="147.2" fill="#dedede"/>
<rect x="626.1" y="395.1" width="29.7" height="147.2" fill="#dedede"/>
<rect x="697" y="395.1" width="28.6" height="147.2" fill="#dedede"/>
<rect x="556.8" y="457.36" width="10.4" height="84.94" fill="#ffffff" stroke="#141414" stroke-width="1.35"/>
<circle cx="562" cy="437.76" r="2.05" fill="none" stroke="#1a1a1a" stroke-width="0.95"/>
<circle cx="557.6" cy="438.85" r="2.05" fill="none" stroke="#1a1a1a" stroke-width="0.95"/>
<circle cx="562" cy="448.28" r="2.05" fill="none" stroke="#1a1a1a" stroke-width="0.95"/>
<circle cx="562" cy="461.35" r="2.05" fill="none" stroke="#1a1a1a" stroke-width="0.95"/>
<circle cx="557.6" cy="462.44" r="2.05" fill="none" stroke="#1a1a1a" stroke-width="0.95"/>
<circle cx="562" cy="465.34" r="2.05" fill="none" stroke="#1a1a1a" stroke-width="0.95"/>
<circle cx="559.8" cy="468.97" r="2.05" fill="none" stroke="#1a1a1a" stroke-width="0.95"/>
<circle cx="564.2" cy="471.51" r="2.05" fill="none" stroke="#1a1a1a" stroke-width="0.95"/>
<line x1="562" y1="452.64" x2="562" y2="462.08" stroke="#111" stroke-width="1.15"/>
<line x1="559.7" y1="452.64" x2="564.3" y2="452.64" stroke="#111" stroke-width="1.15"/>
<line x1="559.7" y1="462.08" x2="564.3" y2="462.08" stroke="#111" stroke-width="1.15"/>
<rect x="574.35" y="457.36" width="10.4" height="84.94" fill="#90bdf7" stroke="#141414" stroke-width="1.35"/>
<circle cx="579.55" cy="443.2" r="2.05" fill="none" stroke="#1a1a1a" stroke-width="0.95"/>
<circle cx="575.15" cy="443.56" r="2.05" fill="none" stroke="#1a1a1a" stroke-width="0.95"/>
<circle cx="579.55" cy="447.19" r="2.05" fill="none" stroke="#1a1a1a" stroke-width="0.95"/>
<circle cx="579.55" cy="452.28" r="2.05" fill="none" stroke="#1a1a1a" stroke-width="0.95"/>
<circle cx="575.15" cy="454.45" r="2.05" fill="none" stroke="#1a1a1a" stroke-width="0.95"/>
<circle cx="579.55" cy="456.27" r="2.05" fill="none" stroke="#1a1a1a" stroke-width="0.95"/>
<circle cx="583.95" cy="457" r="2.05" fill="none" stroke="#1a1a1a" stroke-width="0.95"/>
<circle cx="575.15" cy="458.81" r="2.05" fill="none" stroke="#1a1a1a" stroke-width="0.95"/>
<circle cx="579.55" cy="460.99" r="2.05" fill="none" stroke="#1a1a1a" stroke-width="0.95"/>
<circle cx="583.95" cy="462.44" r="2.05" fill="none" stroke="#1a1a1a" stroke-width="0.95"/>
<circle cx="577.35" cy="464.25" r="2.05" fill="none" stroke="#1a1a1a" stroke-width="0.95"/>
<circle cx="579.55" cy="468.61" r="2.05" fill="none" stroke="#1a1a1a" stroke-width="0.95"/>
<circle cx="575.15" cy="468.61" r="2.05" fill="none" stroke="#1a1a1a" stroke-width="0.95"/>
<line x1="579.55" y1="454.82" x2="579.55" y2="459.9" stroke="#111" stroke-width="1.15"/>
<line x1="577.25" y1="454.82" x2="581.85" y2="454.82" stroke="#111" stroke-width="1.15"/>
<line x1="577.25" y1="459.9" x2="581.85" y2="459.9" stroke="#111" stroke-width="1.15"/>
<rect x="591.9" y="472.97" width="10.4" height="69.33" fill="#ffffff" stroke="#141414" stroke-width="1.35"/>
<circle cx="597.1" cy="458.45" r="2.05" fill="none" stroke="#1a1a1a" stroke-width="0.95"/>
<circle cx="597.1" cy="463.17" r="2.05" fill="none" stroke="#1a1a1a" stroke-width="0.95"/>
<circle cx="592.7" cy="465.34" r="2.05" fill="none" stroke="#1a1a1a" stroke-width="0.95"/>
<circle cx="597.1" cy="473.33" r="2.05" fill="none" stroke="#1a1a1a" stroke-width="0.95"/>
<circle cx="592.7" cy="475.14" r="2.05" fill="none" stroke="#1a1a1a" stroke-width="0.95"/>
<circle cx="597.1" cy="478.41" r="2.05" fill="none" stroke="#1a1a1a" stroke-width="0.95"/>
<circle cx="594.9" cy="482.04" r="2.05" fill="none" stroke="#1a1a1a" stroke-width="0.95"/>
<line x1="597.1" y1="469.34" x2="597.1" y2="476.6" stroke="#111" stroke-width="1.15"/>
<line x1="594.8" y1="469.34" x2="599.4" y2="469.34" stroke="#111" stroke-width="1.15"/>
<line x1="594.8" y1="476.6" x2="599.4" y2="476.6" stroke="#111" stroke-width="1.15"/>
<rect x="609.45" y="470.43" width="10.4" height="71.87" fill="#90bdf7" stroke="#141414" stroke-width="1.35"/>
<circle cx="614.65" cy="456.27" r="2.05" fill="none" stroke="#1a1a1a" stroke-width="0.95"/>
<circle cx="614.65" cy="460.62" r="2.05" fill="none" stroke="#1a1a1a" stroke-width="0.95"/>
<circle cx="614.65" cy="465.34" r="2.05" fill="none" stroke="#1a1a1a" stroke-width="0.95"/>
<circle cx="610.25" cy="466.8" r="2.05" fill="none" stroke="#1a1a1a" stroke-width="0.95"/>
<circle cx="616.85" cy="468.61" r="2.05" fill="none" stroke="#1a1a1a" stroke-width="0.95"/>
<circle cx="610.69" cy="469.7" r="2.05" fill="none" stroke="#1a1a1a" stroke-width="0.95"/>
<circle cx="614.65" cy="472.6" r="2.05" fill="none" stroke="#1a1a1a" stroke-width="0.95"/>
<circle cx="610.25" cy="475.14" r="2.05" fill="none" stroke="#1a1a1a" stroke-width="0.95"/>
<circle cx="614.65" cy="478.41" r="2.05" fill="none" stroke="#1a1a1a" stroke-width="0.95"/>
<circle cx="614.65" cy="482.4" r="2.05" fill="none" stroke="#1a1a1a" stroke-width="0.95"/>
<circle cx="610.25" cy="482.4" r="2.05" fill="none" stroke="#1a1a1a" stroke-width="0.95"/>
<line x1="614.65" y1="468.25" x2="614.65" y2="472.6" stroke="#111" stroke-width="1.15"/>
<line x1="612.35" y1="468.25" x2="616.95" y2="468.25" stroke="#111" stroke-width="1.15"/>
<line x1="612.35" y1="472.6" x2="616.95" y2="472.6" stroke="#111" stroke-width="1.15"/>
<rect x="627" y="464.25" width="10.4" height="78.04" fill="#ffffff" stroke="#141414" stroke-width="1.35"/>
<circle cx="632.2" cy="445.02" r="2.05" fill="none" stroke="#1a1a1a" stroke-width="0.95"/>
<circle cx="632.2" cy="454.45" r="2.05" fill="none" stroke="#1a1a1a" stroke-width="0.95"/>
<circle cx="632.2" cy="461.35" r="2.05" fill="none" stroke="#1a1a1a" stroke-width="0.95"/>
<circle cx="632.2" cy="466.07" r="2.05" fill="none" stroke="#1a1a1a" stroke-width="0.95"/>
<circle cx="627.8" cy="468.61" r="2.05" fill="none" stroke="#1a1a1a" stroke-width="0.95"/>
<circle cx="632.2" cy="473.69" r="2.05" fill="none" stroke="#1a1a1a" stroke-width="0.95"/>
<circle cx="627.8" cy="473.69" r="2.05" fill="none" stroke="#1a1a1a" stroke-width="0.95"/>
<line x1="632.2" y1="460.62" x2="632.2" y2="467.88" stroke="#111" stroke-width="1.15"/>
<line x1="629.9" y1="460.62" x2="634.5" y2="460.62" stroke="#111" stroke-width="1.15"/>
<line x1="629.9" y1="467.88" x2="634.5" y2="467.88" stroke="#111" stroke-width="1.15"/>
<rect x="644.55" y="463.53" width="10.4" height="78.77" fill="#90bdf7" stroke="#141414" stroke-width="1.35"/>
<circle cx="649.75" cy="451.55" r="2.05" fill="none" stroke="#1a1a1a" stroke-width="0.95"/>
<circle cx="645.35" cy="453.37" r="2.05" fill="none" stroke="#1a1a1a" stroke-width="0.95"/>
<circle cx="651.95" cy="455.18" r="2.05" fill="none" stroke="#1a1a1a" stroke-width="0.95"/>
<circle cx="649.75" cy="458.45" r="2.05" fill="none" stroke="#1a1a1a" stroke-width="0.95"/>
<circle cx="649.75" cy="462.44" r="2.05" fill="none" stroke="#1a1a1a" stroke-width="0.95"/>
<circle cx="645.35" cy="464.25" r="2.05" fill="none" stroke="#1a1a1a" stroke-width="0.95"/>
<circle cx="651.95" cy="466.07" r="2.05" fill="none" stroke="#1a1a1a" stroke-width="0.95"/>
<circle cx="647.55" cy="468.61" r="2.05" fill="none" stroke="#1a1a1a" stroke-width="0.95"/>
<circle cx="649.75" cy="473.33" r="2.05" fill="none" stroke="#1a1a1a" stroke-width="0.95"/>
<circle cx="647.55" cy="476.6" r="2.05" fill="none" stroke="#1a1a1a" stroke-width="0.95"/>
<circle cx="649.75" cy="482.4" r="2.05" fill="none" stroke="#1a1a1a" stroke-width="0.95"/>
<line x1="649.75" y1="460.99" x2="649.75" y2="466.07" stroke="#111" stroke-width="1.15"/>
<line x1="647.45" y1="460.99" x2="652.05" y2="460.99" stroke="#111" stroke-width="1.15"/>
<line x1="647.45" y1="466.07" x2="652.05" y2="466.07" stroke="#111" stroke-width="1.15"/>
<rect x="662.1" y="481.68" width="10.4" height="60.62" fill="#ffffff" stroke="#141414" stroke-width="1.35"/>
<circle cx="667.3" cy="470.06" r="2.05" fill="none" stroke="#1a1a1a" stroke-width="0.95"/>
<circle cx="665.1" cy="473.69" r="2.05" fill="none" stroke="#1a1a1a" stroke-width="0.95"/>
<circle cx="669.5" cy="476.6" r="2.05" fill="none" stroke="#1a1a1a" stroke-width="0.95"/>
<circle cx="667.3" cy="480.59" r="2.05" fill="none" stroke="#1a1a1a" stroke-width="0.95"/>
<circle cx="662.9" cy="481.68" r="2.05" fill="none" stroke="#1a1a1a" stroke-width="0.95"/>
<circle cx="667.3" cy="485.67" r="2.05" fill="none" stroke="#1a1a1a" stroke-width="0.95"/>
<circle cx="667.3" cy="492.57" r="2.05" fill="none" stroke="#1a1a1a" stroke-width="0.95"/>
<line x1="667.3" y1="478.41" x2="667.3" y2="484.95" stroke="#111" stroke-width="1.15"/>
<line x1="665" y1="478.41" x2="669.6" y2="478.41" stroke="#111" stroke-width="1.15"/>
<line x1="665" y1="484.95" x2="669.6" y2="484.95" stroke="#111" stroke-width="1.15"/>
<rect x="679.65" y="484.95" width="10.4" height="57.35" fill="#90bdf7" stroke="#141414" stroke-width="1.35"/>
<circle cx="684.85" cy="473.69" r="2.05" fill="none" stroke="#1a1a1a" stroke-width="0.95"/>
<circle cx="684.85" cy="479.5" r="2.05" fill="none" stroke="#1a1a1a" stroke-width="0.95"/>
<circle cx="680.45" cy="482.4" r="2.05" fill="none" stroke="#1a1a1a" stroke-width="0.95"/>
<circle cx="684.85" cy="484.22" r="2.05" fill="none" stroke="#1a1a1a" stroke-width="0.95"/>
<circle cx="689.25" cy="484.95" r="2.05" fill="none" stroke="#1a1a1a" stroke-width="0.95"/>
<circle cx="680.45" cy="486.76" r="2.05" fill="none" stroke="#1a1a1a" stroke-width="0.95"/>
<circle cx="684.85" cy="490.75" r="2.05" fill="none" stroke="#1a1a1a" stroke-width="0.95"/>
<circle cx="684.85" cy="496.92" r="2.05" fill="none" stroke="#1a1a1a" stroke-width="0.95"/>
<circle cx="680.45" cy="499.83" r="2.05" fill="none" stroke="#1a1a1a" stroke-width="0.95"/>
<line x1="684.85" y1="482.77" x2="684.85" y2="487.12" stroke="#111" stroke-width="1.15"/>
<line x1="682.55" y1="482.77" x2="687.15" y2="482.77" stroke="#111" stroke-width="1.15"/>
<line x1="682.55" y1="487.12" x2="687.15" y2="487.12" stroke="#111" stroke-width="1.15"/>
<rect x="697.2" y="460.62" width="10.4" height="81.67" fill="#ffffff" stroke="#141414" stroke-width="1.35"/>
<circle cx="702.4" cy="437.76" r="2.05" fill="none" stroke="#1a1a1a" stroke-width="0.95"/>
<circle cx="700.2" cy="441.39" r="2.05" fill="none" stroke="#1a1a1a" stroke-width="0.95"/>
<circle cx="702.4" cy="461.35" r="2.05" fill="none" stroke="#1a1a1a" stroke-width="0.95"/>
<circle cx="698" cy="461.35" r="2.05" fill="none" stroke="#1a1a1a" stroke-width="0.95"/>
<circle cx="706.8" cy="462.44" r="2.05" fill="none" stroke="#1a1a1a" stroke-width="0.95"/>
<circle cx="702.4" cy="474.42" r="2.05" fill="none" stroke="#1a1a1a" stroke-width="0.95"/>
<circle cx="698" cy="475.51" r="2.05" fill="none" stroke="#1a1a1a" stroke-width="0.95"/>
<line x1="702.4" y1="455.54" x2="702.4" y2="465.71" stroke="#111" stroke-width="1.15"/>
<line x1="700.1" y1="455.54" x2="704.7" y2="455.54" stroke="#111" stroke-width="1.15"/>
<line x1="700.1" y1="465.71" x2="704.7" y2="465.71" stroke="#111" stroke-width="1.15"/>
<rect x="714.75" y="462.8" width="10.4" height="79.5" fill="#90bdf7" stroke="#141414" stroke-width="1.35"/>
<circle cx="719.95" cy="443.2" r="2.05" fill="none" stroke="#1a1a1a" stroke-width="0.95"/>
<circle cx="719.95" cy="453.37" r="2.05" fill="none" stroke="#1a1a1a" stroke-width="0.95"/>
<circle cx="715.55" cy="453.73" r="2.05" fill="none" stroke="#1a1a1a" stroke-width="0.95"/>
<circle cx="719.95" cy="459.54" r="2.05" fill="none" stroke="#1a1a1a" stroke-width="0.95"/>
<circle cx="715.55" cy="461.35" r="2.05" fill="none" stroke="#1a1a1a" stroke-width="0.95"/>
<circle cx="719.95" cy="465.34" r="2.05" fill="none" stroke="#1a1a1a" stroke-width="0.95"/>
<circle cx="719.95" cy="469.7" r="2.05" fill="none" stroke="#1a1a1a" stroke-width="0.95"/>
<circle cx="715.55" cy="471.51" r="2.05" fill="none" stroke="#1a1a1a" stroke-width="0.95"/>
<circle cx="719.95" cy="476.6" r="2.05" fill="none" stroke="#1a1a1a" stroke-width="0.95"/>
<circle cx="715.55" cy="476.6" r="2.05" fill="none" stroke="#1a1a1a" stroke-width="0.95"/>
<line x1="719.95" y1="459.9" x2="719.95" y2="465.71" stroke="#111" stroke-width="1.15"/>
<line x1="717.65" y1="459.9" x2="722.25" y2="459.9" stroke="#111" stroke-width="1.15"/>
<line x1="717.65" y1="465.71" x2="722.25" y2="465.71" stroke="#111" stroke-width="1.15"/>
<rect x="732.3" y="476.23" width="10.4" height="66.07" fill="#ffffff" stroke="#141414" stroke-width="1.35"/>
<circle cx="737.5" cy="458.45" r="2.05" fill="none" stroke="#1a1a1a" stroke-width="0.95"/>
<circle cx="737.5" cy="466.8" r="2.05" fill="none" stroke="#1a1a1a" stroke-width="0.95"/>
<circle cx="737.5" cy="475.14" r="2.05" fill="none" stroke="#1a1a1a" stroke-width="0.95"/>
<circle cx="733.1" cy="476.6" r="2.05" fill="none" stroke="#1a1a1a" stroke-width="0.95"/>
<circle cx="737.5" cy="485.67" r="2.05" fill="none" stroke="#1a1a1a" stroke-width="0.95"/>
<circle cx="737.5" cy="490.75" r="2.05" fill="none" stroke="#1a1a1a" stroke-width="0.95"/>
<line x1="737.5" y1="472.6" x2="737.5" y2="479.86" stroke="#111" stroke-width="1.15"/>
<line x1="735.2" y1="472.6" x2="739.8" y2="472.6" stroke="#111" stroke-width="1.15"/>
<line x1="735.2" y1="479.86" x2="739.8" y2="479.86" stroke="#111" stroke-width="1.15"/>
<rect x="749.85" y="474.06" width="10.4" height="68.24" fill="#90bdf7" stroke="#141414" stroke-width="1.35"/>
<circle cx="755.05" cy="459.9" r="2.05" fill="none" stroke="#1a1a1a" stroke-width="0.95"/>
<circle cx="755.05" cy="467.52" r="2.05" fill="none" stroke="#1a1a1a" stroke-width="0.95"/>
<circle cx="750.65" cy="469.7" r="2.05" fill="none" stroke="#1a1a1a" stroke-width="0.95"/>
<circle cx="755.05" cy="472.6" r="2.05" fill="none" stroke="#1a1a1a" stroke-width="0.95"/>
<circle cx="750.65" cy="475.14" r="2.05" fill="none" stroke="#1a1a1a" stroke-width="0.95"/>
<circle cx="755.05" cy="478.41" r="2.05" fill="none" stroke="#1a1a1a" stroke-width="0.95"/>
<circle cx="755.05" cy="483.49" r="2.05" fill="none" stroke="#1a1a1a" stroke-width="0.95"/>
<circle cx="752.85" cy="486.76" r="2.05" fill="none" stroke="#1a1a1a" stroke-width="0.95"/>
<line x1="755.05" y1="471.88" x2="755.05" y2="476.23" stroke="#111" stroke-width="1.15"/>
<line x1="752.75" y1="471.88" x2="757.35" y2="471.88" stroke="#111" stroke-width="1.15"/>
<line x1="752.75" y1="476.23" x2="757.35" y2="476.23" stroke="#111" stroke-width="1.15"/>
<line x1="550.6" y1="396.5" x2="550.6" y2="542.9" stroke="#1f1f1f" stroke-width="1.25"/>
<line x1="545.8" y1="542.3" x2="550.6" y2="542.3" stroke="#1f1f1f" stroke-width="1.1"/>
<text x="544.5" y="544.93" font-size="7.3" text-anchor="end" fill="#1e1e1e">0</text>
<line x1="545.8" y1="506" x2="550.6" y2="506" stroke="#1f1f1f" stroke-width="1.1"/>
<text x="544.5" y="508.63" font-size="7.3" text-anchor="end" fill="#1e1e1e">10</text>
<line x1="545.8" y1="469.7" x2="550.6" y2="469.7" stroke="#1f1f1f" stroke-width="1.1"/>
<text x="544.5" y="472.33" font-size="7.3" text-anchor="end" fill="#1e1e1e">20</text>
<line x1="545.8" y1="433.4" x2="550.6" y2="433.4" stroke="#1f1f1f" stroke-width="1.1"/>
<text x="544.5" y="436.03" font-size="7.3" text-anchor="end" fill="#1e1e1e">30</text>
<line x1="545.8" y1="397.1" x2="550.6" y2="397.1" stroke="#1f1f1f" stroke-width="1.1"/>
<text x="544.5" y="399.73" font-size="7.3" text-anchor="end" fill="#1e1e1e">40</text>
<line x1="550" y1="542.3" x2="767.8" y2="542.3" stroke="#1f1f1f" stroke-width="1.25"/>
<line x1="562" y1="542.3" x2="562" y2="547.1" stroke="#1f1f1f" stroke-width="1.1"/>
<text x="0" y="0" font-size="6.9" transform="translate(562 554.6) scale(0.87 1)" text-anchor="middle" fill="#1e1e1e">WT</text>
<line x1="579.55" y1="542.3" x2="579.55" y2="547.1" stroke="#1f1f1f" stroke-width="1.1"/>
<text x="0" y="0" font-size="6.9" transform="translate(579.55 554.6) scale(0.87 1)" text-anchor="middle" fill="#1e1e1e">KO</text>
<line x1="597.1" y1="542.3" x2="597.1" y2="547.1" stroke="#1f1f1f" stroke-width="1.1"/>
<text x="0" y="0" font-size="6.9" transform="translate(597.1 554.6) scale(0.87 1)" text-anchor="middle" fill="#1e1e1e">WT</text>
<line x1="614.65" y1="542.3" x2="614.65" y2="547.1" stroke="#1f1f1f" stroke-width="1.1"/>
<text x="0" y="0" font-size="6.9" transform="translate(614.65 554.6) scale(0.87 1)" text-anchor="middle" fill="#1e1e1e">KO</text>
<line x1="632.2" y1="542.3" x2="632.2" y2="547.1" stroke="#1f1f1f" stroke-width="1.1"/>
<text x="0" y="0" font-size="6.9" transform="translate(632.2 554.6) scale(0.87 1)" text-anchor="middle" fill="#1e1e1e">WT</text>
<line x1="649.75" y1="542.3" x2="649.75" y2="547.1" stroke="#1f1f1f" stroke-width="1.1"/>
<text x="0" y="0" font-size="6.9" transform="translate(649.75 554.6) scale(0.87 1)" text-anchor="middle" fill="#1e1e1e">KO</text>
<line x1="667.3" y1="542.3" x2="667.3" y2="547.1" stroke="#1f1f1f" stroke-width="1.1"/>
<text x="0" y="0" font-size="6.9" transform="translate(667.3 554.6) scale(0.87 1)" text-anchor="middle" fill="#1e1e1e">WT</text>
<line x1="684.85" y1="542.3" x2="684.85" y2="547.1" stroke="#1f1f1f" stroke-width="1.1"/>
<text x="0" y="0" font-size="6.9" transform="translate(684.85 554.6) scale(0.87 1)" text-anchor="middle" fill="#1e1e1e">KO</text>
<line x1="702.4" y1="542.3" x2="702.4" y2="547.1" stroke="#1f1f1f" stroke-width="1.1"/>
<text x="0" y="0" font-size="6.9" transform="translate(702.4 554.6) scale(0.87 1)" text-anchor="middle" fill="#1e1e1e">WT</text>
<line x1="719.95" y1="542.3" x2="719.95" y2="547.1" stroke="#1f1f1f" stroke-width="1.1"/>
<text x="0" y="0" font-size="6.9" transform="translate(719.95 554.6) scale(0.87 1)" text-anchor="middle" fill="#1e1e1e">KO</text>
<line x1="737.5" y1="542.3" x2="737.5" y2="547.1" stroke="#1f1f1f" stroke-width="1.1"/>
<text x="0" y="0" font-size="6.9" transform="translate(737.5 554.6) scale(0.87 1)" text-anchor="middle" fill="#1e1e1e">WT</text>
<line x1="755.05" y1="542.3" x2="755.05" y2="547.1" stroke="#1f1f1f" stroke-width="1.1"/>
<text x="0" y="0" font-size="6.9" transform="translate(755.05 554.6) scale(0.87 1)" text-anchor="middle" fill="#1e1e1e">KO</text>
<line x1="557.2" y1="562.6" x2="619.2" y2="562.6" stroke="#1a1a1a" stroke-width="1.1"/>
<line x1="628" y1="562.6" x2="689.8" y2="562.6" stroke="#1a1a1a" stroke-width="1.1"/>
<line x1="701.4" y1="562.6" x2="763.4" y2="562.6" stroke="#1a1a1a" stroke-width="1.1"/>
<text x="569.7" y="576.1" font-size="8.6">Ad</text>
<text x="569.7" y="586.2" font-size="8.6">libitum</text>
<text x="659.2" y="575.5" font-size="8.6" text-anchor="middle">Fast</text>
<text x="734" y="575.5" font-size="8.6" text-anchor="middle">Refeed</text>
<text x="570" y="402.2" font-size="7.7" text-anchor="middle" fill="#1c1c1c">Dark</text>
<text x="570" y="410.2" font-size="7.7" text-anchor="middle" fill="#1c1c1c">cycle</text>
<text x="607" y="401.2" font-size="7.7" text-anchor="middle" fill="#1c1c1c">Light</text>
<text x="607" y="409.2" font-size="7.7" text-anchor="middle" fill="#1c1c1c">cycle</text>
<text x="530" y="470.8" font-size="9" text-anchor="middle" transform="rotate(-90 530 470.8)">EE (kcal / kg-LM / hr)</text>
<text x="14.2" y="606.2" font-size="10.8" font-weight="bold" fill="#111">K</text>
<circle cx="73.2" cy="608.5" r="3.32" fill="none" stroke="#111" stroke-width="1.09"/>
<line x1="74.81" y1="605.84" x2="77.19" y2="599.57" stroke="#111" stroke-width="0.95"/>
<polyline points="73.01,601.47 77.28,599.38 77.95,603.75" stroke="#111" stroke-width="0.95" fill="none" stroke-linejoin="round" stroke-linecap="round"/>
<text x="94.9" y="608.7" font-size="8.7">Ad Libitum fed</text>
<line x1="65" y1="604.2" x2="65" y2="725.3" stroke="#1f1f1f" stroke-width="1.25"/>
<line x1="60.2" y1="724.7" x2="65" y2="724.7" stroke="#1f1f1f" stroke-width="1.1"/>
<text x="58.9" y="727.33" font-size="7.3" text-anchor="end" fill="#1e1e1e">0.40</text>
<line x1="60.2" y1="694.73" x2="65" y2="694.73" stroke="#1f1f1f" stroke-width="1.1"/>
<text x="58.9" y="697.35" font-size="7.3" text-anchor="end" fill="#1e1e1e">0.45</text>
<line x1="60.2" y1="664.75" x2="65" y2="664.75" stroke="#1f1f1f" stroke-width="1.1"/>
<text x="58.9" y="667.38" font-size="7.3" text-anchor="end" fill="#1e1e1e">0.50</text>
<line x1="60.2" y1="634.77" x2="65" y2="634.77" stroke="#1f1f1f" stroke-width="1.1"/>
<text x="58.9" y="637.4" font-size="7.3" text-anchor="end" fill="#1e1e1e">0.55</text>
<line x1="60.2" y1="604.8" x2="65" y2="604.8" stroke="#1f1f1f" stroke-width="1.1"/>
<text x="58.9" y="607.43" font-size="7.3" text-anchor="end" fill="#1e1e1e">0.60</text>
<line x1="64.4" y1="724.7" x2="185.2" y2="724.7" stroke="#1f1f1f" stroke-width="1.25"/>
<line x1="65" y1="724.7" x2="65" y2="729.5" stroke="#1f1f1f" stroke-width="1.1"/>
<text x="65" y="738.3" font-size="7.2" text-anchor="middle" fill="#1e1e1e">20</text>
<line x1="95.05" y1="724.7" x2="95.05" y2="729.5" stroke="#1f1f1f" stroke-width="1.1"/>
<text x="95.05" y="738.3" font-size="7.2" text-anchor="middle" fill="#1e1e1e">30</text>
<line x1="125.1" y1="724.7" x2="125.1" y2="729.5" stroke="#1f1f1f" stroke-width="1.1"/>
<text x="125.1" y="738.3" font-size="7.2" text-anchor="middle" fill="#1e1e1e">40</text>
<line x1="155.15" y1="724.7" x2="155.15" y2="729.5" stroke="#1f1f1f" stroke-width="1.1"/>
<text x="155.15" y="738.3" font-size="7.2" text-anchor="middle" fill="#1e1e1e">50</text>
<line x1="185.2" y1="724.7" x2="185.2" y2="729.5" stroke="#1f1f1f" stroke-width="1.1"/>
<text x="185.2" y="738.3" font-size="7.2" text-anchor="middle" fill="#1e1e1e">60</text>
<text x="125.1" y="751.3" font-size="8.7" text-anchor="middle">Body weight (g)</text>
<text x="39.5" y="665" font-size="9" text-anchor="middle" transform="rotate(-90 39.5 665)">EE (kcal / hr)</text>
<line x1="84.83" y1="687.53" x2="156.95" y2="660.97" stroke="#4c95f2" stroke-width="1.25"/>
<line x1="114.88" y1="681.78" x2="167.77" y2="651.08" stroke="#2b2b2b" stroke-width="1.25"/>
<circle cx="90.24" cy="629.5" r="2.45" fill="#4c95f2"/>
<circle cx="113.68" cy="627.16" r="2.45" fill="#4c95f2"/>
<circle cx="157.25" cy="652.64" r="2.45" fill="#4c95f2"/>
<circle cx="117.59" cy="661.75" r="2.45" fill="#4c95f2"/>
<circle cx="132.01" cy="666.73" r="2.45" fill="#4c95f2"/>
<circle cx="96.25" cy="672.18" r="2.45" fill="#4c95f2"/>
<circle cx="113.68" cy="671.64" r="2.45" fill="#4c95f2"/>
<circle cx="92.65" cy="683.57" r="2.45" fill="#4c95f2"/>
<circle cx="142.83" cy="675" r="2.45" fill="#4c95f2"/>
<circle cx="120.29" cy="686.75" r="2.45" fill="#4c95f2"/>
<circle cx="84.53" cy="695.56" r="2.45" fill="#4c95f2"/>
<circle cx="115.48" cy="694.55" r="2.45" fill="#4c95f2"/>
<circle cx="106.17" cy="699.22" r="2.45" fill="#4c95f2"/>
<circle cx="101.36" cy="704.68" r="2.45" fill="#4c95f2"/>
<circle cx="104.06" cy="708.57" r="2.45" fill="#4c95f2"/>
<circle cx="98.96" cy="714.81" r="2.45" fill="#4c95f2"/>
<circle cx="145.53" cy="623.02" r="2.45" fill="#2b2b2b"/>
<circle cx="114.43" cy="667.21" r="2.45" fill="#2b2b2b"/>
<circle cx="135.32" cy="665.17" r="2.45" fill="#2b2b2b"/>
<circle cx="143.73" cy="660.19" r="2.45" fill="#2b2b2b"/>
<circle cx="148.54" cy="671.4" r="2.45" fill="#2b2b2b"/>
<circle cx="168.07" cy="669.55" r="2.45" fill="#2b2b2b"/>
<circle cx="116.39" cy="686.21" r="2.45" fill="#2b2b2b"/>
<circle cx="121.19" cy="711.93" r="2.45" fill="#2b2b2b"/>
<line x1="185.5" y1="611.6" x2="197.7" y2="611.6" stroke="#2b2b2b" stroke-width="1.5"/>
<circle cx="191.6" cy="611.6" r="2.5" fill="#2b2b2b"/>
<text x="205" y="615.06" font-size="9.6">WT</text>
<line x1="185.5" y1="623" x2="197.7" y2="623" stroke="#4c95f2" stroke-width="1.5"/>
<circle cx="191.6" cy="623" r="2.5" fill="#4c95f2"/>
<text x="205.2" y="626.46" font-size="9.6">KO</text>
<line x1="297" y1="604.2" x2="297" y2="725.3" stroke="#1f1f1f" stroke-width="1.25"/>
<line x1="292.2" y1="724.7" x2="297" y2="724.7" stroke="#1f1f1f" stroke-width="1.1"/>
<text x="290.9" y="727.33" font-size="7.3" text-anchor="end" fill="#1e1e1e">0.30</text>
<line x1="292.2" y1="700.72" x2="297" y2="700.72" stroke="#1f1f1f" stroke-width="1.1"/>
<text x="290.9" y="703.35" font-size="7.3" text-anchor="end" fill="#1e1e1e">0.35</text>
<line x1="292.2" y1="676.74" x2="297" y2="676.74" stroke="#1f1f1f" stroke-width="1.1"/>
<text x="290.9" y="679.37" font-size="7.3" text-anchor="end" fill="#1e1e1e">0.40</text>
<line x1="292.2" y1="652.76" x2="297" y2="652.76" stroke="#1f1f1f" stroke-width="1.1"/>
<text x="290.9" y="655.39" font-size="7.3" text-anchor="end" fill="#1e1e1e">0.45</text>
<line x1="292.2" y1="628.78" x2="297" y2="628.78" stroke="#1f1f1f" stroke-width="1.1"/>
<text x="290.9" y="631.41" font-size="7.3" text-anchor="end" fill="#1e1e1e">0.50</text>
<line x1="292.2" y1="604.8" x2="297" y2="604.8" stroke="#1f1f1f" stroke-width="1.1"/>
<text x="290.9" y="607.43" font-size="7.3" text-anchor="end" fill="#1e1e1e">0.55</text>
<line x1="296.4" y1="724.7" x2="417.1" y2="724.7" stroke="#1f1f1f" stroke-width="1.25"/>
<line x1="297" y1="724.7" x2="297" y2="729.5" stroke="#1f1f1f" stroke-width="1.1"/>
<text x="297" y="738.3" font-size="7.2" text-anchor="middle" fill="#1e1e1e">20</text>
<line x1="327.02" y1="724.7" x2="327.02" y2="729.5" stroke="#1f1f1f" stroke-width="1.1"/>
<text x="327.02" y="738.3" font-size="7.2" text-anchor="middle" fill="#1e1e1e">30</text>
<line x1="357.05" y1="724.7" x2="357.05" y2="729.5" stroke="#1f1f1f" stroke-width="1.1"/>
<text x="357.05" y="738.3" font-size="7.2" text-anchor="middle" fill="#1e1e1e">40</text>
<line x1="387.08" y1="724.7" x2="387.08" y2="729.5" stroke="#1f1f1f" stroke-width="1.1"/>
<text x="387.08" y="738.3" font-size="7.2" text-anchor="middle" fill="#1e1e1e">50</text>
<line x1="417.1" y1="724.7" x2="417.1" y2="729.5" stroke="#1f1f1f" stroke-width="1.1"/>
<text x="417.1" y="738.3" font-size="7.2" text-anchor="middle" fill="#1e1e1e">60</text>
<text x="357.05" y="751.3" font-size="8.7" text-anchor="middle">Body weight (g)</text>
<text x="271.5" y="665" font-size="9" text-anchor="middle" transform="rotate(-90 271.5 665)">EE (kcal / hr)</text>
<line x1="316.52" y1="689.59" x2="388.88" y2="635.49" stroke="#4c95f2" stroke-width="1.25"/>
<line x1="348.34" y1="668.11" x2="399.69" y2="638.85" stroke="#2b2b2b" stroke-width="1.25"/>
<circle cx="345.34" cy="634.97" r="2.45" fill="#4c95f2"/>
<circle cx="389.18" cy="629.5" r="2.45" fill="#4c95f2"/>
<circle cx="363.96" cy="641.97" r="2.45" fill="#4c95f2"/>
<circle cx="321.92" cy="663.84" r="2.45" fill="#4c95f2"/>
<circle cx="324.62" cy="667.72" r="2.45" fill="#4c95f2"/>
<circle cx="327.93" cy="671.66" r="2.45" fill="#4c95f2"/>
<circle cx="345.64" cy="662.54" r="2.45" fill="#4c95f2"/>
<circle cx="349.54" cy="658.9" r="2.45" fill="#4c95f2"/>
<circle cx="347.44" cy="674.01" r="2.45" fill="#4c95f2"/>
<circle cx="352.25" cy="672.42" r="2.45" fill="#4c95f2"/>
<circle cx="331.23" cy="684.41" r="2.45" fill="#4c95f2"/>
<circle cx="333.03" cy="696.07" r="2.45" fill="#4c95f2"/>
<circle cx="337.83" cy="695.3" r="2.45" fill="#4c95f2"/>
<circle cx="316.52" cy="689.59" r="2.45" fill="#4c95f2"/>
<circle cx="335.43" cy="713.24" r="2.45" fill="#4c95f2"/>
<circle cx="374.76" cy="653.19" r="2.45" fill="#4c95f2"/>
<circle cx="346.39" cy="654.49" r="2.45" fill="#2b2b2b"/>
<circle cx="377.47" cy="637.84" r="2.45" fill="#2b2b2b"/>
<circle cx="399.69" cy="638.37" r="2.45" fill="#2b2b2b"/>
<circle cx="367.26" cy="656.02" r="2.45" fill="#2b2b2b"/>
<circle cx="375.37" cy="654.49" r="2.45" fill="#2b2b2b"/>
<circle cx="380.17" cy="657.56" r="2.45" fill="#2b2b2b"/>
<circle cx="348.34" cy="668.01" r="2.45" fill="#2b2b2b"/>
<circle cx="353.15" cy="685.71" r="2.45" fill="#2b2b2b"/>
<text x="349" y="605.6" font-size="8.7" text-anchor="middle">Fasted</text>
<line x1="507.3" y1="603.7" x2="507.3" y2="724.8" stroke="#1f1f1f" stroke-width="1.25"/>
<line x1="502.5" y1="724.2" x2="507.3" y2="724.2" stroke="#1f1f1f" stroke-width="1.1"/>
<text x="501.2" y="726.83" font-size="7.3" text-anchor="end" fill="#1e1e1e">0.35</text>
<line x1="502.5" y1="700.22" x2="507.3" y2="700.22" stroke="#1f1f1f" stroke-width="1.1"/>
<text x="501.2" y="702.85" font-size="7.3" text-anchor="end" fill="#1e1e1e">0.40</text>
<line x1="502.5" y1="676.24" x2="507.3" y2="676.24" stroke="#1f1f1f" stroke-width="1.1"/>
<text x="501.2" y="678.87" font-size="7.3" text-anchor="end" fill="#1e1e1e">0.45</text>
<line x1="502.5" y1="652.26" x2="507.3" y2="652.26" stroke="#1f1f1f" stroke-width="1.1"/>
<text x="501.2" y="654.89" font-size="7.3" text-anchor="end" fill="#1e1e1e">0.50</text>
<line x1="502.5" y1="628.28" x2="507.3" y2="628.28" stroke="#1f1f1f" stroke-width="1.1"/>
<text x="501.2" y="630.91" font-size="7.3" text-anchor="end" fill="#1e1e1e">0.55</text>
<line x1="502.5" y1="604.3" x2="507.3" y2="604.3" stroke="#1f1f1f" stroke-width="1.1"/>
<text x="501.2" y="606.93" font-size="7.3" text-anchor="end" fill="#1e1e1e">0.60</text>
<line x1="506.7" y1="724.2" x2="627.5" y2="724.2" stroke="#1f1f1f" stroke-width="1.25"/>
<line x1="507.3" y1="724.2" x2="507.3" y2="729" stroke="#1f1f1f" stroke-width="1.1"/>
<text x="507.3" y="737.9" font-size="7.2" text-anchor="middle" fill="#1e1e1e">20</text>
<line x1="537.35" y1="724.2" x2="537.35" y2="729" stroke="#1f1f1f" stroke-width="1.1"/>
<text x="537.35" y="737.9" font-size="7.2" text-anchor="middle" fill="#1e1e1e">30</text>
<line x1="567.4" y1="724.2" x2="567.4" y2="729" stroke="#1f1f1f" stroke-width="1.1"/>
<text x="567.4" y="737.9" font-size="7.2" text-anchor="middle" fill="#1e1e1e">40</text>
<line x1="597.45" y1="724.2" x2="597.45" y2="729" stroke="#1f1f1f" stroke-width="1.1"/>
<text x="597.45" y="737.9" font-size="7.2" text-anchor="middle" fill="#1e1e1e">50</text>
<line x1="627.5" y1="724.2" x2="627.5" y2="729" stroke="#1f1f1f" stroke-width="1.1"/>
<text x="627.5" y="737.9" font-size="7.2" text-anchor="middle" fill="#1e1e1e">60</text>
<text x="567.4" y="751" font-size="8.7" text-anchor="middle">Body weight (g)</text>
<text x="481.5" y="665" font-size="9" text-anchor="middle" transform="rotate(-90 481.5 665)">EE (kcal / hr)</text>
<line x1="527.13" y1="697.15" x2="599.85" y2="637.58" stroke="#4c95f2" stroke-width="1.25"/>
<line x1="558.08" y1="669.33" x2="610.37" y2="652.69" stroke="#2b2b2b" stroke-width="1.25"/>
<circle cx="559.59" cy="630.82" r="2.45" fill="#4c95f2"/>
<circle cx="574.61" cy="638.35" r="2.45" fill="#4c95f2"/>
<circle cx="599.85" cy="636.29" r="2.45" fill="#4c95f2"/>
<circle cx="555.68" cy="646.17" r="2.45" fill="#4c95f2"/>
<circle cx="555.98" cy="667.51" r="2.45" fill="#4c95f2"/>
<circle cx="585.43" cy="666.22" r="2.45" fill="#4c95f2"/>
<circle cx="532.24" cy="673.22" r="2.45" fill="#4c95f2"/>
<circle cx="538.55" cy="679.45" r="2.45" fill="#4c95f2"/>
<circle cx="543.36" cy="684.15" r="2.45" fill="#4c95f2"/>
<circle cx="534.65" cy="690.39" r="2.45" fill="#4c95f2"/>
<circle cx="541.26" cy="691.16" r="2.45" fill="#4c95f2"/>
<circle cx="562.29" cy="680.51" r="2.45" fill="#4c95f2"/>
<circle cx="546.37" cy="700.22" r="2.45" fill="#4c95f2"/>
<circle cx="548.77" cy="701.8" r="2.45" fill="#4c95f2"/>
<circle cx="557.48" cy="706.5" r="2.45" fill="#4c95f2"/>
<circle cx="527.13" cy="707.03" r="2.45" fill="#4c95f2"/>
<circle cx="587.68" cy="627.94" r="2.45" fill="#2b2b2b"/>
<circle cx="556.73" cy="651.88" r="2.45" fill="#2b2b2b"/>
<circle cx="577.62" cy="648.52" r="2.45" fill="#2b2b2b"/>
<circle cx="591.14" cy="660.99" r="2.45" fill="#2b2b2b"/>
<circle cx="610.37" cy="664.63" r="2.45" fill="#2b2b2b"/>
<circle cx="586.03" cy="675.57" r="2.45" fill="#2b2b2b"/>
<circle cx="563.79" cy="681.28" r="2.45" fill="#2b2b2b"/>
<circle cx="558.69" cy="689.09" r="2.45" fill="#2b2b2b"/>
<text x="558" y="605.1" font-size="8.7" text-anchor="middle">Refed</text>
<text x="6" y="777.9" font-size="10.8" font-weight="bold" fill="#111">L</text>
<circle cx="34.2" cy="770.2" r="3.32" fill="none" stroke="#111" stroke-width="1.09"/>
<line x1="34.2" y1="773.53" x2="34.2" y2="779.99" stroke="#111" stroke-width="1.09"/>
<line x1="30.88" y1="776.57" x2="37.53" y2="776.57" stroke="#111" stroke-width="1.09"/>
<rect x="33.8" y="781.7" width="30.5" height="147.5" fill="#dedede"/>
<rect x="104.4" y="781.7" width="29.4" height="147.5" fill="#dedede"/>
<rect x="175" y="781.7" width="30.6" height="147.5" fill="#dedede"/>
<rect x="35" y="869.84" width="10.4" height="59.36" fill="#ffffff" stroke="#141414" stroke-width="1.35"/>
<circle cx="40.2" cy="820.95" r="2.05" fill="none" stroke="#1a1a1a" stroke-width="0.95"/>
<circle cx="40.2" cy="852.38" r="2.05" fill="none" stroke="#1a1a1a" stroke-width="0.95"/>
<circle cx="40.2" cy="872.16" r="2.05" fill="none" stroke="#1a1a1a" stroke-width="0.95"/>
<circle cx="35.8" cy="873.33" r="2.05" fill="none" stroke="#1a1a1a" stroke-width="0.95"/>
<circle cx="40.2" cy="876.82" r="2.05" fill="none" stroke="#1a1a1a" stroke-width="0.95"/>
<circle cx="35.8" cy="878.57" r="2.05" fill="none" stroke="#1a1a1a" stroke-width="0.95"/>
<circle cx="42.4" cy="880.31" r="2.05" fill="none" stroke="#1a1a1a" stroke-width="0.95"/>
<circle cx="40.2" cy="891.37" r="2.05" fill="none" stroke="#1a1a1a" stroke-width="0.95"/>
<line x1="40.2" y1="862.27" x2="40.2" y2="877.4" stroke="#111" stroke-width="1.15"/>
<line x1="37.9" y1="862.27" x2="42.5" y2="862.27" stroke="#111" stroke-width="1.15"/>
<line x1="37.9" y1="877.4" x2="42.5" y2="877.4" stroke="#111" stroke-width="1.15"/>
<rect x="52.6" y="869.55" width="10.4" height="59.65" fill="#fb9d9f" stroke="#141414" stroke-width="1.35"/>
<circle cx="57.8" cy="847.14" r="2.05" fill="none" stroke="#1a1a1a" stroke-width="0.95"/>
<circle cx="53.4" cy="848.3" r="2.05" fill="none" stroke="#1a1a1a" stroke-width="0.95"/>
<circle cx="57.8" cy="856.45" r="2.05" fill="none" stroke="#1a1a1a" stroke-width="0.95"/>
<circle cx="53.4" cy="858.2" r="2.05" fill="none" stroke="#1a1a1a" stroke-width="0.95"/>
<circle cx="57.8" cy="869.25" r="2.05" fill="none" stroke="#1a1a1a" stroke-width="0.95"/>
<circle cx="57.8" cy="876.82" r="2.05" fill="none" stroke="#1a1a1a" stroke-width="0.95"/>
<circle cx="53.4" cy="879.73" r="2.05" fill="none" stroke="#1a1a1a" stroke-width="0.95"/>
<circle cx="57.8" cy="886.13" r="2.05" fill="none" stroke="#1a1a1a" stroke-width="0.95"/>
<circle cx="57.8" cy="897.19" r="2.05" fill="none" stroke="#1a1a1a" stroke-width="0.95"/>
<line x1="57.8" y1="863.43" x2="57.8" y2="875.66" stroke="#111" stroke-width="1.15"/>
<line x1="55.5" y1="863.43" x2="60.1" y2="863.43" stroke="#111" stroke-width="1.15"/>
<line x1="55.5" y1="875.66" x2="60.1" y2="875.66" stroke="#111" stroke-width="1.15"/>
<rect x="70.2" y="911.16" width="10.4" height="18.04" fill="#ffffff" stroke="#141414" stroke-width="1.35"/>
<circle cx="75.4" cy="898.94" r="2.05" fill="none" stroke="#1a1a1a" stroke-width="0.95"/>
<circle cx="75.4" cy="904.17" r="2.05" fill="none" stroke="#1a1a1a" stroke-width="0.95"/>
<circle cx="71" cy="904.76" r="2.05" fill="none" stroke="#1a1a1a" stroke-width="0.95"/>
<circle cx="79.8" cy="906.5" r="2.05" fill="none" stroke="#1a1a1a" stroke-width="0.95"/>
<circle cx="75.4" cy="910.58" r="2.05" fill="none" stroke="#1a1a1a" stroke-width="0.95"/>
<circle cx="71" cy="912.9" r="2.05" fill="none" stroke="#1a1a1a" stroke-width="0.95"/>
<circle cx="75.4" cy="914.65" r="2.05" fill="none" stroke="#1a1a1a" stroke-width="0.95"/>
<circle cx="71" cy="917.56" r="2.05" fill="none" stroke="#1a1a1a" stroke-width="0.95"/>
<circle cx="75.4" cy="921.05" r="2.05" fill="none" stroke="#1a1a1a" stroke-width="0.95"/>
<line x1="75.4" y1="908.54" x2="75.4" y2="913.78" stroke="#111" stroke-width="1.15"/>
<line x1="73.1" y1="908.54" x2="77.7" y2="908.54" stroke="#111" stroke-width="1.15"/>
<line x1="73.1" y1="913.78" x2="77.7" y2="913.78" stroke="#111" stroke-width="1.15"/>
<rect x="87.8" y="911.16" width="10.4" height="18.04" fill="#fb9d9f" stroke="#141414" stroke-width="1.35"/>
<circle cx="93" cy="901.85" r="2.05" fill="none" stroke="#1a1a1a" stroke-width="0.95"/>
<circle cx="93" cy="906.5" r="2.05" fill="none" stroke="#1a1a1a" stroke-width="0.95"/>
<circle cx="88.6" cy="908.25" r="2.05" fill="none" stroke="#1a1a1a" stroke-width="0.95"/>
<circle cx="95.2" cy="909.99" r="2.05" fill="none" stroke="#1a1a1a" stroke-width="0.95"/>
<circle cx="96.96" cy="910.58" r="2.05" fill="none" stroke="#1a1a1a" stroke-width="0.95"/>
<circle cx="90.8" cy="911.74" r="2.05" fill="none" stroke="#1a1a1a" stroke-width="0.95"/>
<circle cx="93" cy="924.54" r="2.05" fill="none" stroke="#1a1a1a" stroke-width="0.95"/>
<line x1="93" y1="908.54" x2="93" y2="913.78" stroke="#111" stroke-width="1.15"/>
<line x1="90.7" y1="908.54" x2="95.3" y2="908.54" stroke="#111" stroke-width="1.15"/>
<line x1="90.7" y1="913.78" x2="95.3" y2="913.78" stroke="#111" stroke-width="1.15"/>
<rect x="105.4" y="928.91" width="10.4" height="0.29" fill="#ffffff" stroke="#141414" stroke-width="1.35"/>
<rect x="104.6" y="927" width="12" height="4.4" rx="2.2" fill="#111" stroke="#111" stroke-width="1.1"/>
<rect x="123" y="928.91" width="10.4" height="0.29" fill="#fb9d9f" stroke="#141414" stroke-width="1.35"/>
<rect x="122.2" y="927" width="12" height="4.4" rx="2.2" fill="#111" stroke="#111" stroke-width="1.1"/>
<rect x="140.6" y="928.91" width="10.4" height="0.29" fill="#ffffff" stroke="#141414" stroke-width="1.35"/>
<rect x="139.8" y="927" width="12" height="4.4" rx="2.2" fill="#111" stroke="#111" stroke-width="1.1"/>
<rect x="158.2" y="928.91" width="10.4" height="0.29" fill="#fb9d9f" stroke="#141414" stroke-width="1.35"/>
<rect x="157.4" y="927" width="12" height="4.4" rx="2.2" fill="#111" stroke="#111" stroke-width="1.1"/>
<rect x="175.8" y="836.08" width="10.4" height="93.12" fill="#ffffff" stroke="#141414" stroke-width="1.35"/>
<circle cx="181" cy="797.09" r="2.05" fill="none" stroke="#1a1a1a" stroke-width="0.95"/>
<circle cx="181" cy="808.14" r="2.05" fill="none" stroke="#1a1a1a" stroke-width="0.95"/>
<circle cx="181" cy="825.02" r="2.05" fill="none" stroke="#1a1a1a" stroke-width="0.95"/>
<circle cx="181" cy="838.99" r="2.05" fill="none" stroke="#1a1a1a" stroke-width="0.95"/>
<circle cx="176.6" cy="840.15" r="2.05" fill="none" stroke="#1a1a1a" stroke-width="0.95"/>
<circle cx="181" cy="843.06" r="2.05" fill="none" stroke="#1a1a1a" stroke-width="0.95"/>
<circle cx="181" cy="847.14" r="2.05" fill="none" stroke="#1a1a1a" stroke-width="0.95"/>
<circle cx="181" cy="864.6" r="2.05" fill="none" stroke="#1a1a1a" stroke-width="0.95"/>
<line x1="181" y1="828.51" x2="181" y2="843.65" stroke="#111" stroke-width="1.15"/>
<line x1="178.7" y1="828.51" x2="183.3" y2="828.51" stroke="#111" stroke-width="1.15"/>
<line x1="178.7" y1="843.65" x2="183.3" y2="843.65" stroke="#111" stroke-width="1.15"/>
<rect x="193.4" y="835.79" width="10.4" height="93.41" fill="#fb9d9f" stroke="#141414" stroke-width="1.35"/>
<circle cx="198.6" cy="798.25" r="2.05" fill="none" stroke="#1a1a1a" stroke-width="0.95"/>
<circle cx="198.6" cy="828.51" r="2.05" fill="none" stroke="#1a1a1a" stroke-width="0.95"/>
<circle cx="194.2" cy="830.26" r="2.05" fill="none" stroke="#1a1a1a" stroke-width="0.95"/>
<circle cx="198.6" cy="837.24" r="2.05" fill="none" stroke="#1a1a1a" stroke-width="0.95"/>
<circle cx="194.2" cy="838.99" r="2.05" fill="none" stroke="#1a1a1a" stroke-width="0.95"/>
<circle cx="203" cy="840.15" r="2.05" fill="none" stroke="#1a1a1a" stroke-width="0.95"/>
<circle cx="198.6" cy="864.6" r="2.05" fill="none" stroke="#1a1a1a" stroke-width="0.95"/>
<line x1="198.6" y1="829.97" x2="198.6" y2="841.61" stroke="#111" stroke-width="1.15"/>
<line x1="196.3" y1="829.97" x2="200.9" y2="829.97" stroke="#111" stroke-width="1.15"/>
<line x1="196.3" y1="841.61" x2="200.9" y2="841.61" stroke="#111" stroke-width="1.15"/>
<rect x="211" y="908.83" width="10.4" height="20.37" fill="#ffffff" stroke="#141414" stroke-width="1.35"/>
<circle cx="216.2" cy="886.71" r="2.05" fill="none" stroke="#1a1a1a" stroke-width="0.95"/>
<circle cx="216.2" cy="900.1" r="2.05" fill="none" stroke="#1a1a1a" stroke-width="0.95"/>
<circle cx="216.2" cy="908.25" r="2.05" fill="none" stroke="#1a1a1a" stroke-width="0.95"/>
<circle cx="211.8" cy="909.99" r="2.05" fill="none" stroke="#1a1a1a" stroke-width="0.95"/>
<circle cx="216.2" cy="914.65" r="2.05" fill="none" stroke="#1a1a1a" stroke-width="0.95"/>
<circle cx="216.2" cy="922.22" r="2.05" fill="none" stroke="#1a1a1a" stroke-width="0.95"/>
<line x1="216.2" y1="904.76" x2="216.2" y2="912.9" stroke="#111" stroke-width="1.15"/>
<line x1="213.9" y1="904.76" x2="218.5" y2="904.76" stroke="#111" stroke-width="1.15"/>
<line x1="213.9" y1="912.9" x2="218.5" y2="912.9" stroke="#111" stroke-width="1.15"/>
<rect x="228.6" y="906.5" width="10.4" height="22.7" fill="#fb9d9f" stroke="#141414" stroke-width="1.35"/>
<circle cx="233.8" cy="894.86" r="2.05" fill="none" stroke="#1a1a1a" stroke-width="0.95"/>
<circle cx="229.4" cy="896.61" r="2.05" fill="none" stroke="#1a1a1a" stroke-width="0.95"/>
<circle cx="233.8" cy="900.68" r="2.05" fill="none" stroke="#1a1a1a" stroke-width="0.95"/>
<circle cx="233.8" cy="906.5" r="2.05" fill="none" stroke="#1a1a1a" stroke-width="0.95"/>
<circle cx="229.4" cy="908.83" r="2.05" fill="none" stroke="#1a1a1a" stroke-width="0.95"/>
<circle cx="233.8" cy="911.74" r="2.05" fill="none" stroke="#1a1a1a" stroke-width="0.95"/>
<circle cx="233.8" cy="920.47" r="2.05" fill="none" stroke="#1a1a1a" stroke-width="0.95"/>
<line x1="233.8" y1="903.3" x2="233.8" y2="909.7" stroke="#111" stroke-width="1.15"/>
<line x1="231.5" y1="903.3" x2="236.1" y2="903.3" stroke="#111" stroke-width="1.15"/>
<line x1="231.5" y1="909.7" x2="236.1" y2="909.7" stroke="#111" stroke-width="1.15"/>
<line x1="28.7" y1="783.1" x2="28.7" y2="929.8" stroke="#1f1f1f" stroke-width="1.25"/>
<line x1="23.9" y1="929.2" x2="28.7" y2="929.2" stroke="#1f1f1f" stroke-width="1.1"/>
<text x="22.6" y="931.83" font-size="7.3" text-anchor="end" fill="#1e1e1e">0</text>
<line x1="23.9" y1="900.1" x2="28.7" y2="900.1" stroke="#1f1f1f" stroke-width="1.1"/>
<text x="22.6" y="902.73" font-size="7.3" text-anchor="end" fill="#1e1e1e">5</text>
<line x1="23.9" y1="871" x2="28.7" y2="871" stroke="#1f1f1f" stroke-width="1.1"/>
<text x="22.6" y="873.63" font-size="7.3" text-anchor="end" fill="#1e1e1e">10</text>
<line x1="23.9" y1="841.9" x2="28.7" y2="841.9" stroke="#1f1f1f" stroke-width="1.1"/>
<text x="22.6" y="844.53" font-size="7.3" text-anchor="end" fill="#1e1e1e">15</text>
<line x1="23.9" y1="812.8" x2="28.7" y2="812.8" stroke="#1f1f1f" stroke-width="1.1"/>
<text x="22.6" y="815.43" font-size="7.3" text-anchor="end" fill="#1e1e1e">20</text>
<line x1="23.9" y1="783.7" x2="28.7" y2="783.7" stroke="#1f1f1f" stroke-width="1.1"/>
<text x="22.6" y="786.33" font-size="7.3" text-anchor="end" fill="#1e1e1e">25</text>
<line x1="28.1" y1="929.2" x2="246.8" y2="929.2" stroke="#1f1f1f" stroke-width="1.25"/>
<line x1="40.2" y1="929.2" x2="40.2" y2="934" stroke="#1f1f1f" stroke-width="1.1"/>
<text x="0" y="0" font-size="6.9" transform="translate(40.2 940.8) scale(0.87 1)" text-anchor="middle" fill="#1e1e1e">WT</text>
<line x1="57.8" y1="929.2" x2="57.8" y2="934" stroke="#1f1f1f" stroke-width="1.1"/>
<text x="0" y="0" font-size="6.9" transform="translate(57.8 940.8) scale(0.87 1)" text-anchor="middle" fill="#1e1e1e">KO</text>
<line x1="75.4" y1="929.2" x2="75.4" y2="934" stroke="#1f1f1f" stroke-width="1.1"/>
<text x="0" y="0" font-size="6.9" transform="translate(75.4 940.8) scale(0.87 1)" text-anchor="middle" fill="#1e1e1e">WT</text>
<line x1="93" y1="929.2" x2="93" y2="934" stroke="#1f1f1f" stroke-width="1.1"/>
<text x="0" y="0" font-size="6.9" transform="translate(93 940.8) scale(0.87 1)" text-anchor="middle" fill="#1e1e1e">KO</text>
<line x1="110.6" y1="929.2" x2="110.6" y2="934" stroke="#1f1f1f" stroke-width="1.1"/>
<text x="0" y="0" font-size="6.9" transform="translate(110.6 940.8) scale(0.87 1)" text-anchor="middle" fill="#1e1e1e">WT</text>
<line x1="128.2" y1="929.2" x2="128.2" y2="934" stroke="#1f1f1f" stroke-width="1.1"/>
<text x="0" y="0" font-size="6.9" transform="translate(128.2 940.8) scale(0.87 1)" text-anchor="middle" fill="#1e1e1e">KO</text>
<line x1="145.8" y1="929.2" x2="145.8" y2="934" stroke="#1f1f1f" stroke-width="1.1"/>
<text x="0" y="0" font-size="6.9" transform="translate(145.8 940.8) scale(0.87 1)" text-anchor="middle" fill="#1e1e1e">WT</text>
<line x1="163.4" y1="929.2" x2="163.4" y2="934" stroke="#1f1f1f" stroke-width="1.1"/>
<text x="0" y="0" font-size="6.9" transform="translate(163.4 940.8) scale(0.87 1)" text-anchor="middle" fill="#1e1e1e">KO</text>
<line x1="181" y1="929.2" x2="181" y2="934" stroke="#1f1f1f" stroke-width="1.1"/>
<text x="0" y="0" font-size="6.9" transform="translate(181 940.8) scale(0.87 1)" text-anchor="middle" fill="#1e1e1e">WT</text>
<line x1="198.6" y1="929.2" x2="198.6" y2="934" stroke="#1f1f1f" stroke-width="1.1"/>
<text x="0" y="0" font-size="6.9" transform="translate(198.6 940.8) scale(0.87 1)" text-anchor="middle" fill="#1e1e1e">KO</text>
<line x1="216.2" y1="929.2" x2="216.2" y2="934" stroke="#1f1f1f" stroke-width="1.1"/>
<text x="0" y="0" font-size="6.9" transform="translate(216.2 940.8) scale(0.87 1)" text-anchor="middle" fill="#1e1e1e">WT</text>
<line x1="233.8" y1="929.2" x2="233.8" y2="934" stroke="#1f1f1f" stroke-width="1.1"/>
<text x="0" y="0" font-size="6.9" transform="translate(233.8 940.8) scale(0.87 1)" text-anchor="middle" fill="#1e1e1e">KO</text>
<line x1="35.2" y1="948.9" x2="97.4" y2="948.9" stroke="#1a1a1a" stroke-width="1.1"/>
<line x1="107" y1="948.9" x2="168.4" y2="948.9" stroke="#1a1a1a" stroke-width="1.1"/>
<line x1="180" y1="948.9" x2="241.8" y2="948.9" stroke="#1a1a1a" stroke-width="1.1"/>
<text x="68.3" y="961.9" font-size="8.6" text-anchor="middle">Ad libitum</text>
<text x="138.6" y="961.9" font-size="8.6" text-anchor="middle">Fast</text>
<text x="213.5" y="961.5" font-size="8.6" text-anchor="middle">Refeed</text>
<text x="48.6" y="789.1" font-size="7.7" text-anchor="middle" fill="#1c1c1c">Dark</text>
<text x="48.6" y="798.6" font-size="7.7" text-anchor="middle" fill="#1c1c1c">cycle</text>
<text x="85.3" y="788.1" font-size="7.7" text-anchor="middle" fill="#1c1c1c">Light</text>
<text x="85.3" y="797.6" font-size="7.7" text-anchor="middle" fill="#1c1c1c">cycle</text>
<text x="8.3" y="857" font-size="8.85" text-anchor="middle" transform="rotate(-90 8.3 857)">Food intake (kcal)</text>
<text x="260.8" y="778.3" font-size="10.8" font-weight="bold" fill="#111">M</text>
<rect x="306.7" y="780.1" width="30.2" height="147.4" fill="#dedede"/>
<rect x="377.6" y="780.1" width="29.2" height="147.4" fill="#dedede"/>
<rect x="448.4" y="780.1" width="28.8" height="147.4" fill="#dedede"/>
<rect x="307.8" y="908.17" width="10.4" height="19.33" fill="#ffffff" stroke="#141414" stroke-width="1.35"/>
<circle cx="313" cy="886.32" r="2.05" fill="none" stroke="#1a1a1a" stroke-width="0.95"/>
<circle cx="313" cy="894.15" r="2.05" fill="none" stroke="#1a1a1a" stroke-width="0.95"/>
<circle cx="313" cy="904.4" r="2.05" fill="none" stroke="#1a1a1a" stroke-width="0.95"/>
<circle cx="308.6" cy="906.43" r="2.05" fill="none" stroke="#1a1a1a" stroke-width="0.95"/>
<circle cx="313" cy="908.17" r="2.05" fill="none" stroke="#1a1a1a" stroke-width="0.95"/>
<circle cx="317.4" cy="909.81" r="2.05" fill="none" stroke="#1a1a1a" stroke-width="0.95"/>
<circle cx="313" cy="913" r="2.05" fill="none" stroke="#1a1a1a" stroke-width="0.95"/>
<circle cx="308.6" cy="915.8" r="2.05" fill="none" stroke="#1a1a1a" stroke-width="0.95"/>
<circle cx="313" cy="918.9" r="2.05" fill="none" stroke="#1a1a1a" stroke-width="0.95"/>
<line x1="313" y1="905.27" x2="313" y2="911.07" stroke="#111" stroke-width="1.15"/>
<line x1="310.7" y1="905.27" x2="315.3" y2="905.27" stroke="#111" stroke-width="1.15"/>
<line x1="310.7" y1="911.07" x2="315.3" y2="911.07" stroke="#111" stroke-width="1.15"/>
<rect x="325.42" y="901.79" width="10.4" height="25.71" fill="#fb9d9f" stroke="#141414" stroke-width="1.35"/>
<circle cx="330.62" cy="853.55" r="2.05" fill="none" stroke="#1a1a1a" stroke-width="0.95"/>
<circle cx="330.62" cy="892.7" r="2.05" fill="none" stroke="#1a1a1a" stroke-width="0.95"/>
<circle cx="326.22" cy="893.67" r="2.05" fill="none" stroke="#1a1a1a" stroke-width="0.95"/>
<circle cx="330.62" cy="896.76" r="2.05" fill="none" stroke="#1a1a1a" stroke-width="0.95"/>
<circle cx="330.62" cy="904.78" r="2.05" fill="none" stroke="#1a1a1a" stroke-width="0.95"/>
<circle cx="328.42" cy="908.17" r="2.05" fill="none" stroke="#1a1a1a" stroke-width="0.95"/>
<circle cx="332.82" cy="909.81" r="2.05" fill="none" stroke="#1a1a1a" stroke-width="0.95"/>
<circle cx="330.62" cy="912.81" r="2.05" fill="none" stroke="#1a1a1a" stroke-width="0.95"/>
<circle cx="330.62" cy="920.83" r="2.05" fill="none" stroke="#1a1a1a" stroke-width="0.95"/>
<line x1="330.62" y1="896.28" x2="330.62" y2="907.3" stroke="#111" stroke-width="1.15"/>
<line x1="328.32" y1="896.28" x2="332.92" y2="896.28" stroke="#111" stroke-width="1.15"/>
<line x1="328.32" y1="907.3" x2="332.92" y2="907.3" stroke="#111" stroke-width="1.15"/>
<rect x="343.04" y="922.86" width="10.4" height="4.64" fill="#ffffff" stroke="#141414" stroke-width="1.35"/>
<circle cx="348.24" cy="915.8" r="2.05" fill="none" stroke="#1a1a1a" stroke-width="0.95"/>
<circle cx="348.24" cy="921.7" r="2.05" fill="none" stroke="#1a1a1a" stroke-width="0.95"/>
<circle cx="343.84" cy="921.89" r="2.05" fill="none" stroke="#1a1a1a" stroke-width="0.95"/>
<circle cx="352.64" cy="922.67" r="2.05" fill="none" stroke="#1a1a1a" stroke-width="0.95"/>
<circle cx="352.2" cy="923.15" r="2.05" fill="none" stroke="#1a1a1a" stroke-width="0.95"/>
<circle cx="344.28" cy="923.92" r="2.05" fill="none" stroke="#1a1a1a" stroke-width="0.95"/>
<line x1="348.24" y1="921.7" x2="348.24" y2="924.02" stroke="#111" stroke-width="1.15"/>
<line x1="345.94" y1="921.7" x2="350.54" y2="921.7" stroke="#111" stroke-width="1.15"/>
<line x1="345.94" y1="924.02" x2="350.54" y2="924.02" stroke="#111" stroke-width="1.15"/>
<rect x="360.66" y="919.86" width="10.4" height="7.64" fill="#fb9d9f" stroke="#141414" stroke-width="1.35"/>
<circle cx="365.86" cy="906.23" r="2.05" fill="none" stroke="#1a1a1a" stroke-width="0.95"/>
<circle cx="365.86" cy="914.84" r="2.05" fill="none" stroke="#1a1a1a" stroke-width="0.95"/>
<circle cx="363.66" cy="917.83" r="2.05" fill="none" stroke="#1a1a1a" stroke-width="0.95"/>
<circle cx="368.06" cy="919.28" r="2.05" fill="none" stroke="#1a1a1a" stroke-width="0.95"/>
<circle cx="369.82" cy="919.77" r="2.05" fill="none" stroke="#1a1a1a" stroke-width="0.95"/>
<circle cx="361.46" cy="920.83" r="2.05" fill="none" stroke="#1a1a1a" stroke-width="0.95"/>
<circle cx="365.86" cy="923.92" r="2.05" fill="none" stroke="#1a1a1a" stroke-width="0.95"/>
<line x1="365.86" y1="918.12" x2="365.86" y2="921.6" stroke="#111" stroke-width="1.15"/>
<line x1="363.56" y1="918.12" x2="368.16" y2="918.12" stroke="#111" stroke-width="1.15"/>
<line x1="363.56" y1="921.6" x2="368.16" y2="921.6" stroke="#111" stroke-width="1.15"/>
<rect x="378.28" y="891.73" width="10.4" height="35.77" fill="#ffffff" stroke="#141414" stroke-width="1.35"/>
<circle cx="383.48" cy="863.99" r="2.05" fill="none" stroke="#1a1a1a" stroke-width="0.95"/>
<circle cx="383.48" cy="877.43" r="2.05" fill="none" stroke="#1a1a1a" stroke-width="0.95"/>
<circle cx="379.08" cy="880.23" r="2.05" fill="none" stroke="#1a1a1a" stroke-width="0.95"/>
<circle cx="383.48" cy="883.03" r="2.05" fill="none" stroke="#1a1a1a" stroke-width="0.95"/>
<circle cx="383.48" cy="894.34" r="2.05" fill="none" stroke="#1a1a1a" stroke-width="0.95"/>
<circle cx="383.48" cy="899.76" r="2.05" fill="none" stroke="#1a1a1a" stroke-width="0.95"/>
<circle cx="381.28" cy="903.33" r="2.05" fill="none" stroke="#1a1a1a" stroke-width="0.95"/>
<circle cx="385.68" cy="905.75" r="2.05" fill="none" stroke="#1a1a1a" stroke-width="0.95"/>
<circle cx="385.46" cy="905.75" r="2.05" fill="none" stroke="#1a1a1a" stroke-width="0.95"/>
<line x1="383.48" y1="886.71" x2="383.48" y2="896.76" stroke="#111" stroke-width="1.15"/>
<line x1="381.18" y1="886.71" x2="385.78" y2="886.71" stroke="#111" stroke-width="1.15"/>
<line x1="381.18" y1="896.76" x2="385.78" y2="896.76" stroke="#111" stroke-width="1.15"/>
<rect x="395.9" y="862.06" width="10.4" height="65.44" fill="#fb9d9f" stroke="#141414" stroke-width="1.35"/>
<circle cx="401.1" cy="787.14" r="2.05" fill="none" stroke="#1a1a1a" stroke-width="0.95"/>
<circle cx="401.1" cy="815.27" r="2.05" fill="none" stroke="#1a1a1a" stroke-width="0.95"/>
<circle cx="401.1" cy="846.11" r="2.05" fill="none" stroke="#1a1a1a" stroke-width="0.95"/>
<circle cx="401.1" cy="856.16" r="2.05" fill="none" stroke="#1a1a1a" stroke-width="0.95"/>
<circle cx="401.1" cy="869.6" r="2.05" fill="none" stroke="#1a1a1a" stroke-width="0.95"/>
<circle cx="401.1" cy="875.2" r="2.05" fill="none" stroke="#1a1a1a" stroke-width="0.95"/>
<circle cx="396.7" cy="877.23" r="2.05" fill="none" stroke="#1a1a1a" stroke-width="0.95"/>
<circle cx="401.1" cy="890.28" r="2.05" fill="none" stroke="#1a1a1a" stroke-width="0.95"/>
<circle cx="401.1" cy="897.73" r="2.05" fill="none" stroke="#1a1a1a" stroke-width="0.95"/>
<line x1="401.1" y1="849.88" x2="401.1" y2="874.24" stroke="#111" stroke-width="1.15"/>
<line x1="398.8" y1="849.88" x2="403.4" y2="849.88" stroke="#111" stroke-width="1.15"/>
<line x1="398.8" y1="874.24" x2="403.4" y2="874.24" stroke="#111" stroke-width="1.15"/>
<rect x="413.52" y="919.86" width="10.4" height="7.64" fill="#ffffff" stroke="#141414" stroke-width="1.35"/>
<circle cx="418.72" cy="892.7" r="2.05" fill="none" stroke="#1a1a1a" stroke-width="0.95"/>
<circle cx="418.72" cy="918.9" r="2.05" fill="none" stroke="#1a1a1a" stroke-width="0.95"/>
<circle cx="414.32" cy="920.73" r="2.05" fill="none" stroke="#1a1a1a" stroke-width="0.95"/>
<circle cx="420.92" cy="921.89" r="2.05" fill="none" stroke="#1a1a1a" stroke-width="0.95"/>
<circle cx="422.68" cy="923.63" r="2.05" fill="none" stroke="#1a1a1a" stroke-width="0.95"/>
<circle cx="418.72" cy="924.89" r="2.05" fill="none" stroke="#1a1a1a" stroke-width="0.95"/>
<line x1="418.72" y1="917.06" x2="418.72" y2="922.67" stroke="#111" stroke-width="1.15"/>
<line x1="416.42" y1="917.06" x2="421.02" y2="917.06" stroke="#111" stroke-width="1.15"/>
<line x1="416.42" y1="922.67" x2="421.02" y2="922.67" stroke="#111" stroke-width="1.15"/>
<rect x="431.14" y="881.29" width="10.4" height="46.21" fill="#fb9d9f" stroke="#141414" stroke-width="1.35"/>
<circle cx="436.34" cy="817.69" r="2.05" fill="none" stroke="#1a1a1a" stroke-width="0.95"/>
<circle cx="436.34" cy="827.35" r="2.05" fill="none" stroke="#1a1a1a" stroke-width="0.95"/>
<circle cx="436.34" cy="833.44" r="2.05" fill="none" stroke="#1a1a1a" stroke-width="0.95"/>
<circle cx="436.34" cy="873.66" r="2.05" fill="none" stroke="#1a1a1a" stroke-width="0.95"/>
<circle cx="436.34" cy="898.79" r="2.05" fill="none" stroke="#1a1a1a" stroke-width="0.95"/>
<circle cx="436.34" cy="904.4" r="2.05" fill="none" stroke="#1a1a1a" stroke-width="0.95"/>
<circle cx="436.34" cy="913.87" r="2.05" fill="none" stroke="#1a1a1a" stroke-width="0.95"/>
<circle cx="436.34" cy="918.41" r="2.05" fill="none" stroke="#1a1a1a" stroke-width="0.95"/>
<circle cx="434.14" cy="921.51" r="2.05" fill="none" stroke="#1a1a1a" stroke-width="0.95"/>
<line x1="436.34" y1="868.44" x2="436.34" y2="894.15" stroke="#111" stroke-width="1.15"/>
<line x1="434.04" y1="868.44" x2="438.64" y2="868.44" stroke="#111" stroke-width="1.15"/>
<line x1="434.04" y1="894.15" x2="438.64" y2="894.15" stroke="#111" stroke-width="1.15"/>
<rect x="448.76" y="912.42" width="10.4" height="15.08" fill="#ffffff" stroke="#141414" stroke-width="1.35"/>
<circle cx="453.96" cy="898.79" r="2.05" fill="none" stroke="#1a1a1a" stroke-width="0.95"/>
<circle cx="453.96" cy="907.78" r="2.05" fill="none" stroke="#1a1a1a" stroke-width="0.95"/>
<circle cx="451.76" cy="910.78" r="2.05" fill="none" stroke="#1a1a1a" stroke-width="0.95"/>
<circle cx="456.16" cy="912.03" r="2.05" fill="none" stroke="#1a1a1a" stroke-width="0.95"/>
<circle cx="457.92" cy="913" r="2.05" fill="none" stroke="#1a1a1a" stroke-width="0.95"/>
<circle cx="451.76" cy="914.84" r="2.05" fill="none" stroke="#1a1a1a" stroke-width="0.95"/>
<circle cx="453.96" cy="918.9" r="2.05" fill="none" stroke="#1a1a1a" stroke-width="0.95"/>
<line x1="453.96" y1="910.2" x2="453.96" y2="914.64" stroke="#111" stroke-width="1.15"/>
<line x1="451.66" y1="910.2" x2="456.26" y2="910.2" stroke="#111" stroke-width="1.15"/>
<line x1="451.66" y1="914.64" x2="456.26" y2="914.64" stroke="#111" stroke-width="1.15"/>
<rect x="466.38" y="913.19" width="10.4" height="14.31" fill="#fb9d9f" stroke="#141414" stroke-width="1.35"/>
<circle cx="471.58" cy="898.31" r="2.05" fill="none" stroke="#1a1a1a" stroke-width="0.95"/>
<circle cx="467.18" cy="900.34" r="2.05" fill="none" stroke="#1a1a1a" stroke-width="0.95"/>
<circle cx="471.58" cy="909.81" r="2.05" fill="none" stroke="#1a1a1a" stroke-width="0.95"/>
<circle cx="469.38" cy="913" r="2.05" fill="none" stroke="#1a1a1a" stroke-width="0.95"/>
<circle cx="473.78" cy="913.87" r="2.05" fill="none" stroke="#1a1a1a" stroke-width="0.95"/>
<circle cx="471.58" cy="916.87" r="2.05" fill="none" stroke="#1a1a1a" stroke-width="0.95"/>
<circle cx="471.58" cy="921.89" r="2.05" fill="none" stroke="#1a1a1a" stroke-width="0.95"/>
<line x1="471.58" y1="910.78" x2="471.58" y2="915.61" stroke="#111" stroke-width="1.15"/>
<line x1="469.28" y1="910.78" x2="473.88" y2="910.78" stroke="#111" stroke-width="1.15"/>
<line x1="469.28" y1="915.61" x2="473.88" y2="915.61" stroke="#111" stroke-width="1.15"/>
<rect x="484" y="921.89" width="10.4" height="5.61" fill="#ffffff" stroke="#141414" stroke-width="1.35"/>
<circle cx="489.2" cy="918.9" r="2.05" fill="none" stroke="#1a1a1a" stroke-width="0.95"/>
<circle cx="484.8" cy="921.7" r="2.05" fill="none" stroke="#1a1a1a" stroke-width="0.95"/>
<circle cx="491.4" cy="922.47" r="2.05" fill="none" stroke="#1a1a1a" stroke-width="0.95"/>
<circle cx="491.18" cy="923.63" r="2.05" fill="none" stroke="#1a1a1a" stroke-width="0.95"/>
<circle cx="487" cy="924.89" r="2.05" fill="none" stroke="#1a1a1a" stroke-width="0.95"/>
<line x1="489.2" y1="920.83" x2="489.2" y2="922.96" stroke="#111" stroke-width="1.15"/>
<line x1="486.9" y1="920.83" x2="491.5" y2="920.83" stroke="#111" stroke-width="1.15"/>
<line x1="486.9" y1="922.96" x2="491.5" y2="922.96" stroke="#111" stroke-width="1.15"/>
<rect x="501.62" y="921.51" width="10.4" height="5.99" fill="#fb9d9f" stroke="#141414" stroke-width="1.35"/>
<circle cx="506.82" cy="907.78" r="2.05" fill="none" stroke="#1a1a1a" stroke-width="0.95"/>
<circle cx="506.82" cy="916.87" r="2.05" fill="none" stroke="#1a1a1a" stroke-width="0.95"/>
<circle cx="506.82" cy="920.83" r="2.05" fill="none" stroke="#1a1a1a" stroke-width="0.95"/>
<circle cx="502.42" cy="922.67" r="2.05" fill="none" stroke="#1a1a1a" stroke-width="0.95"/>
<circle cx="509.02" cy="923.92" r="2.05" fill="none" stroke="#1a1a1a" stroke-width="0.95"/>
<line x1="506.82" y1="919.77" x2="506.82" y2="923.25" stroke="#111" stroke-width="1.15"/>
<line x1="504.52" y1="919.77" x2="509.12" y2="919.77" stroke="#111" stroke-width="1.15"/>
<line x1="504.52" y1="923.25" x2="509.12" y2="923.25" stroke="#111" stroke-width="1.15"/>
<line x1="301.3" y1="781.9" x2="301.3" y2="928.1" stroke="#1f1f1f" stroke-width="1.25"/>
<line x1="296.5" y1="927.5" x2="301.3" y2="927.5" stroke="#1f1f1f" stroke-width="1.1"/>
<text x="295.2" y="930.13" font-size="7.3" text-anchor="end" fill="#1e1e1e">0</text>
<line x1="296.5" y1="879.17" x2="301.3" y2="879.17" stroke="#1f1f1f" stroke-width="1.1"/>
<text x="295.2" y="881.79" font-size="7.3" text-anchor="end" fill="#1e1e1e">50000</text>
<line x1="296.5" y1="830.83" x2="301.3" y2="830.83" stroke="#1f1f1f" stroke-width="1.1"/>
<text x="295.2" y="833.46" font-size="7.3" text-anchor="end" fill="#1e1e1e">100000</text>
<line x1="296.5" y1="782.5" x2="301.3" y2="782.5" stroke="#1f1f1f" stroke-width="1.1"/>
<text x="295.2" y="785.13" font-size="7.3" text-anchor="end" fill="#1e1e1e">150000</text>
<line x1="300.7" y1="927.5" x2="519.2" y2="927.5" stroke="#1f1f1f" stroke-width="1.25"/>
<line x1="313" y1="927.5" x2="313" y2="932.3" stroke="#1f1f1f" stroke-width="1.1"/>
<text x="0" y="0" font-size="6.9" transform="translate(313 939.6) scale(0.87 1)" text-anchor="middle" fill="#1e1e1e">WT</text>
<line x1="330.62" y1="927.5" x2="330.62" y2="932.3" stroke="#1f1f1f" stroke-width="1.1"/>
<text x="0" y="0" font-size="6.9" transform="translate(330.62 939.6) scale(0.87 1)" text-anchor="middle" fill="#1e1e1e">KO</text>
<line x1="348.24" y1="927.5" x2="348.24" y2="932.3" stroke="#1f1f1f" stroke-width="1.1"/>
<text x="0" y="0" font-size="6.9" transform="translate(348.24 939.6) scale(0.87 1)" text-anchor="middle" fill="#1e1e1e">WT</text>
<line x1="365.86" y1="927.5" x2="365.86" y2="932.3" stroke="#1f1f1f" stroke-width="1.1"/>
<text x="0" y="0" font-size="6.9" transform="translate(365.86 939.6) scale(0.87 1)" text-anchor="middle" fill="#1e1e1e">KO</text>
<line x1="383.48" y1="927.5" x2="383.48" y2="932.3" stroke="#1f1f1f" stroke-width="1.1"/>
<text x="0" y="0" font-size="6.9" transform="translate(383.48 939.6) scale(0.87 1)" text-anchor="middle" fill="#1e1e1e">WT</text>
<line x1="401.1" y1="927.5" x2="401.1" y2="932.3" stroke="#1f1f1f" stroke-width="1.1"/>
<text x="0" y="0" font-size="6.9" transform="translate(401.1 939.6) scale(0.87 1)" text-anchor="middle" fill="#1e1e1e">KO</text>
<line x1="418.72" y1="927.5" x2="418.72" y2="932.3" stroke="#1f1f1f" stroke-width="1.1"/>
<text x="0" y="0" font-size="6.9" transform="translate(418.72 939.6) scale(0.87 1)" text-anchor="middle" fill="#1e1e1e">WT</text>
<line x1="436.34" y1="927.5" x2="436.34" y2="932.3" stroke="#1f1f1f" stroke-width="1.1"/>
<text x="0" y="0" font-size="6.9" transform="translate(436.34 939.6) scale(0.87 1)" text-anchor="middle" fill="#1e1e1e">KO</text>
<line x1="453.96" y1="927.5" x2="453.96" y2="932.3" stroke="#1f1f1f" stroke-width="1.1"/>
<text x="0" y="0" font-size="6.9" transform="translate(453.96 939.6) scale(0.87 1)" text-anchor="middle" fill="#1e1e1e">WT</text>
<line x1="471.58" y1="927.5" x2="471.58" y2="932.3" stroke="#1f1f1f" stroke-width="1.1"/>
<text x="0" y="0" font-size="6.9" transform="translate(471.58 939.6) scale(0.87 1)" text-anchor="middle" fill="#1e1e1e">KO</text>
<line x1="489.2" y1="927.5" x2="489.2" y2="932.3" stroke="#1f1f1f" stroke-width="1.1"/>
<text x="0" y="0" font-size="6.9" transform="translate(489.2 939.6) scale(0.87 1)" text-anchor="middle" fill="#1e1e1e">WT</text>
<line x1="506.82" y1="927.5" x2="506.82" y2="932.3" stroke="#1f1f1f" stroke-width="1.1"/>
<text x="0" y="0" font-size="6.9" transform="translate(506.82 939.6) scale(0.87 1)" text-anchor="middle" fill="#1e1e1e">KO</text>
<line x1="309" y1="948" x2="370.7" y2="948" stroke="#1a1a1a" stroke-width="1.1"/>
<line x1="379.7" y1="948" x2="441.4" y2="948" stroke="#1a1a1a" stroke-width="1.1"/>
<line x1="453.5" y1="948" x2="514.8" y2="948" stroke="#1a1a1a" stroke-width="1.1"/>
<text x="321.4" y="961.1" font-size="8.6">Ad</text>
<text x="321.4" y="971.1" font-size="8.6">libitum</text>
<text x="410.6" y="961.1" font-size="8.6" text-anchor="middle">Fast</text>
<text x="486" y="961.1" font-size="8.6" text-anchor="middle">Refeed</text>
<text x="321" y="787.6" font-size="7.7" text-anchor="middle" fill="#1c1c1c">Dark</text>
<text x="321" y="796.3" font-size="7.7" text-anchor="middle" fill="#1c1c1c">cycle</text>
<text x="358.5" y="786.6" font-size="7.7" text-anchor="middle" fill="#1c1c1c">Light</text>
<text x="358.5" y="795.3" font-size="7.7" text-anchor="middle" fill="#1c1c1c">cycle</text>
<text x="264.5" y="856.5" font-size="9.05" text-anchor="middle" transform="rotate(-90 264.5 856.5)">Ambulatory activity (beam breaks)</text>
<polyline points="349.6,886.3 349.6,880.7 366.7,880.7 366.7,886.3" stroke="#1a1a1a" stroke-width="1.2" fill="none"/>
<path d="M359,871.6L359,868.6M359,871.6L361.85,870.67M359,871.6L360.76,874.03M359,871.6L357.24,874.03M359,871.6L356.15,870.67" stroke="#111" stroke-width="1.35" stroke-linecap="round" fill="none"/>
<polyline points="384.5,803 384.5,797.6 401.6,797.6 401.6,803" stroke="#1a1a1a" stroke-width="1.2" fill="none"/>
<path d="M393.1,788.6L393.1,785.6M393.1,788.6L395.95,787.67M393.1,788.6L394.86,791.03M393.1,788.6L391.34,791.03M393.1,788.6L390.25,787.67" stroke="#111" stroke-width="1.35" stroke-linecap="round" fill="none"/>
<polyline points="420.3,803 420.3,797.6 437.4,797.6 437.4,803" stroke="#1a1a1a" stroke-width="1.2" fill="none"/>
<path d="M425.4,788.6L425.4,785.6M425.4,788.6L428.25,787.67M425.4,788.6L427.16,791.03M425.4,788.6L423.64,791.03M425.4,788.6L422.55,787.67M432.4,788.6L432.4,785.6M432.4,788.6L435.25,787.67M432.4,788.6L434.16,791.03M432.4,788.6L430.64,791.03M432.4,788.6L429.55,787.67" stroke="#111" stroke-width="1.35" stroke-linecap="round" fill="none"/>
<text x="523" y="778.3" font-size="10.8" font-weight="bold" fill="#111">N</text>
<rect x="554.2" y="781.1" width="30.6" height="147.4" fill="#dedede"/>
<rect x="625.3" y="781.1" width="29.5" height="147.4" fill="#dedede"/>
<rect x="696.4" y="781.1" width="28.8" height="147.4" fill="#dedede"/>
<rect x="555.6" y="829.54" width="10.4" height="98.96" fill="#ffffff" stroke="#141414" stroke-width="1.35"/>
<circle cx="560.8" cy="814.67" r="2.05" fill="none" stroke="#1a1a1a" stroke-width="0.95"/>
<circle cx="556.4" cy="814.67" r="2.05" fill="none" stroke="#1a1a1a" stroke-width="0.95"/>
<circle cx="565.2" cy="814.67" r="2.05" fill="none" stroke="#1a1a1a" stroke-width="0.95"/>
<circle cx="560.8" cy="819.75" r="2.05" fill="none" stroke="#1a1a1a" stroke-width="0.95"/>
<circle cx="560.8" cy="826.27" r="2.05" fill="none" stroke="#1a1a1a" stroke-width="0.95"/>
<circle cx="560.8" cy="830.62" r="2.05" fill="none" stroke="#1a1a1a" stroke-width="0.95"/>
<circle cx="556.4" cy="832.44" r="2.05" fill="none" stroke="#1a1a1a" stroke-width="0.95"/>
<circle cx="563" cy="834.25" r="2.05" fill="none" stroke="#1a1a1a" stroke-width="0.95"/>
<circle cx="558.6" cy="836.42" r="2.05" fill="none" stroke="#1a1a1a" stroke-width="0.95"/>
<circle cx="560.8" cy="841.5" r="2.05" fill="none" stroke="#1a1a1a" stroke-width="0.95"/>
<circle cx="556.4" cy="844.4" r="2.05" fill="none" stroke="#1a1a1a" stroke-width="0.95"/>
<line x1="560.8" y1="826.27" x2="560.8" y2="832.8" stroke="#111" stroke-width="1.15"/>
<line x1="558.5" y1="826.27" x2="563.1" y2="826.27" stroke="#111" stroke-width="1.15"/>
<line x1="558.5" y1="832.8" x2="563.1" y2="832.8" stroke="#111" stroke-width="1.15"/>
<rect x="573.23" y="825.55" width="10.4" height="102.95" fill="#fb9d9f" stroke="#141414" stroke-width="1.35"/>
<circle cx="578.43" cy="812.14" r="2.05" fill="none" stroke="#1a1a1a" stroke-width="0.95"/>
<circle cx="574.03" cy="813.23" r="2.05" fill="none" stroke="#1a1a1a" stroke-width="0.95"/>
<circle cx="578.43" cy="819.75" r="2.05" fill="none" stroke="#1a1a1a" stroke-width="0.95"/>
<circle cx="574.03" cy="821.2" r="2.05" fill="none" stroke="#1a1a1a" stroke-width="0.95"/>
<circle cx="580.63" cy="823.38" r="2.05" fill="none" stroke="#1a1a1a" stroke-width="0.95"/>
<circle cx="576.23" cy="825.19" r="2.05" fill="none" stroke="#1a1a1a" stroke-width="0.95"/>
<circle cx="582.83" cy="827" r="2.05" fill="none" stroke="#1a1a1a" stroke-width="0.95"/>
<circle cx="578.43" cy="829.54" r="2.05" fill="none" stroke="#1a1a1a" stroke-width="0.95"/>
<circle cx="578.43" cy="834.25" r="2.05" fill="none" stroke="#1a1a1a" stroke-width="0.95"/>
<circle cx="574.03" cy="836.42" r="2.05" fill="none" stroke="#1a1a1a" stroke-width="0.95"/>
<line x1="578.43" y1="823.01" x2="578.43" y2="828.09" stroke="#111" stroke-width="1.15"/>
<line x1="576.13" y1="823.01" x2="580.73" y2="823.01" stroke="#111" stroke-width="1.15"/>
<line x1="576.13" y1="828.09" x2="580.73" y2="828.09" stroke="#111" stroke-width="1.15"/>
<rect x="590.86" y="848.02" width="10.4" height="80.48" fill="#ffffff" stroke="#141414" stroke-width="1.35"/>
<circle cx="596.06" cy="836.42" r="2.05" fill="none" stroke="#1a1a1a" stroke-width="0.95"/>
<circle cx="596.06" cy="840.41" r="2.05" fill="none" stroke="#1a1a1a" stroke-width="0.95"/>
<circle cx="591.66" cy="842.95" r="2.05" fill="none" stroke="#1a1a1a" stroke-width="0.95"/>
<circle cx="596.06" cy="846.94" r="2.05" fill="none" stroke="#1a1a1a" stroke-width="0.95"/>
<circle cx="591.66" cy="848.75" r="2.05" fill="none" stroke="#1a1a1a" stroke-width="0.95"/>
<circle cx="598.26" cy="850.56" r="2.05" fill="none" stroke="#1a1a1a" stroke-width="0.95"/>
<circle cx="596.06" cy="854.55" r="2.05" fill="none" stroke="#1a1a1a" stroke-width="0.95"/>
<circle cx="596.06" cy="858.54" r="2.05" fill="none" stroke="#1a1a1a" stroke-width="0.95"/>
<line x1="596.06" y1="845.85" x2="596.06" y2="850.2" stroke="#111" stroke-width="1.15"/>
<line x1="593.76" y1="845.85" x2="598.36" y2="845.85" stroke="#111" stroke-width="1.15"/>
<line x1="593.76" y1="850.2" x2="598.36" y2="850.2" stroke="#111" stroke-width="1.15"/>
<rect x="608.49" y="841.5" width="10.4" height="87" fill="#fb9d9f" stroke="#141414" stroke-width="1.35"/>
<circle cx="613.69" cy="825.19" r="2.05" fill="none" stroke="#1a1a1a" stroke-width="0.95"/>
<circle cx="613.69" cy="832.44" r="2.05" fill="none" stroke="#1a1a1a" stroke-width="0.95"/>
<circle cx="613.69" cy="837.51" r="2.05" fill="none" stroke="#1a1a1a" stroke-width="0.95"/>
<circle cx="609.29" cy="839.69" r="2.05" fill="none" stroke="#1a1a1a" stroke-width="0.95"/>
<circle cx="618.09" cy="840.41" r="2.05" fill="none" stroke="#1a1a1a" stroke-width="0.95"/>
<circle cx="613.69" cy="841.5" r="2.05" fill="none" stroke="#1a1a1a" stroke-width="0.95"/>
<circle cx="613.69" cy="846.58" r="2.05" fill="none" stroke="#1a1a1a" stroke-width="0.95"/>
<circle cx="613.69" cy="854.55" r="2.05" fill="none" stroke="#1a1a1a" stroke-width="0.95"/>
<line x1="613.69" y1="838.6" x2="613.69" y2="844.4" stroke="#111" stroke-width="1.15"/>
<line x1="611.39" y1="838.6" x2="615.99" y2="838.6" stroke="#111" stroke-width="1.15"/>
<line x1="611.39" y1="844.4" x2="615.99" y2="844.4" stroke="#111" stroke-width="1.15"/>
<rect x="626.12" y="844.4" width="10.4" height="84.1" fill="#ffffff" stroke="#141414" stroke-width="1.35"/>
<circle cx="631.32" cy="833.52" r="2.05" fill="none" stroke="#1a1a1a" stroke-width="0.95"/>
<circle cx="631.32" cy="837.51" r="2.05" fill="none" stroke="#1a1a1a" stroke-width="0.95"/>
<circle cx="631.32" cy="841.5" r="2.05" fill="none" stroke="#1a1a1a" stroke-width="0.95"/>
<circle cx="626.92" cy="843.31" r="2.05" fill="none" stroke="#1a1a1a" stroke-width="0.95"/>
<circle cx="633.52" cy="845.12" r="2.05" fill="none" stroke="#1a1a1a" stroke-width="0.95"/>
<circle cx="629.12" cy="846.58" r="2.05" fill="none" stroke="#1a1a1a" stroke-width="0.95"/>
<circle cx="631.32" cy="850.56" r="2.05" fill="none" stroke="#1a1a1a" stroke-width="0.95"/>
<circle cx="631.32" cy="856" r="2.05" fill="none" stroke="#1a1a1a" stroke-width="0.95"/>
<line x1="631.32" y1="842.23" x2="631.32" y2="846.58" stroke="#111" stroke-width="1.15"/>
<line x1="629.02" y1="842.23" x2="633.62" y2="842.23" stroke="#111" stroke-width="1.15"/>
<line x1="629.02" y1="846.58" x2="633.62" y2="846.58" stroke="#111" stroke-width="1.15"/>
<rect x="643.75" y="832.8" width="10.4" height="95.7" fill="#fb9d9f" stroke="#141414" stroke-width="1.35"/>
<circle cx="648.95" cy="812.86" r="2.05" fill="none" stroke="#1a1a1a" stroke-width="0.95"/>
<circle cx="648.95" cy="818.3" r="2.05" fill="none" stroke="#1a1a1a" stroke-width="0.95"/>
<circle cx="648.95" cy="831.35" r="2.05" fill="none" stroke="#1a1a1a" stroke-width="0.95"/>
<circle cx="644.55" cy="834.25" r="2.05" fill="none" stroke="#1a1a1a" stroke-width="0.95"/>
<circle cx="648.95" cy="837.51" r="2.05" fill="none" stroke="#1a1a1a" stroke-width="0.95"/>
<circle cx="648.95" cy="842.59" r="2.05" fill="none" stroke="#1a1a1a" stroke-width="0.95"/>
<circle cx="648.95" cy="847.3" r="2.05" fill="none" stroke="#1a1a1a" stroke-width="0.95"/>
<line x1="648.95" y1="829.17" x2="648.95" y2="836.42" stroke="#111" stroke-width="1.15"/>
<line x1="646.65" y1="829.17" x2="651.25" y2="829.17" stroke="#111" stroke-width="1.15"/>
<line x1="646.65" y1="836.42" x2="651.25" y2="836.42" stroke="#111" stroke-width="1.15"/>
<rect x="661.38" y="871.23" width="10.4" height="57.27" fill="#ffffff" stroke="#141414" stroke-width="1.35"/>
<circle cx="666.58" cy="857.45" r="2.05" fill="none" stroke="#1a1a1a" stroke-width="0.95"/>
<circle cx="666.58" cy="862.52" r="2.05" fill="none" stroke="#1a1a1a" stroke-width="0.95"/>
<circle cx="662.18" cy="865.06" r="2.05" fill="none" stroke="#1a1a1a" stroke-width="0.95"/>
<circle cx="666.58" cy="868.69" r="2.05" fill="none" stroke="#1a1a1a" stroke-width="0.95"/>
<circle cx="664.38" cy="872.31" r="2.05" fill="none" stroke="#1a1a1a" stroke-width="0.95"/>
<circle cx="666.58" cy="877.75" r="2.05" fill="none" stroke="#1a1a1a" stroke-width="0.95"/>
<circle cx="666.58" cy="884.64" r="2.05" fill="none" stroke="#1a1a1a" stroke-width="0.95"/>
<line x1="666.58" y1="868.33" x2="666.58" y2="874.12" stroke="#111" stroke-width="1.15"/>
<line x1="664.28" y1="868.33" x2="668.88" y2="868.33" stroke="#111" stroke-width="1.15"/>
<line x1="664.28" y1="874.12" x2="668.88" y2="874.12" stroke="#111" stroke-width="1.15"/>
<rect x="679.01" y="858.54" width="10.4" height="69.96" fill="#fb9d9f" stroke="#141414" stroke-width="1.35"/>
<circle cx="684.21" cy="840.05" r="2.05" fill="none" stroke="#1a1a1a" stroke-width="0.95"/>
<circle cx="684.21" cy="845.49" r="2.05" fill="none" stroke="#1a1a1a" stroke-width="0.95"/>
<circle cx="684.21" cy="851.65" r="2.05" fill="none" stroke="#1a1a1a" stroke-width="0.95"/>
<circle cx="684.21" cy="855.64" r="2.05" fill="none" stroke="#1a1a1a" stroke-width="0.95"/>
<circle cx="684.21" cy="859.62" r="2.05" fill="none" stroke="#1a1a1a" stroke-width="0.95"/>
<circle cx="684.21" cy="864.7" r="2.05" fill="none" stroke="#1a1a1a" stroke-width="0.95"/>
<circle cx="684.21" cy="870.5" r="2.05" fill="none" stroke="#1a1a1a" stroke-width="0.95"/>
<circle cx="684.21" cy="875.58" r="2.05" fill="none" stroke="#1a1a1a" stroke-width="0.95"/>
<line x1="684.21" y1="854.55" x2="684.21" y2="862.52" stroke="#111" stroke-width="1.15"/>
<line x1="681.91" y1="854.55" x2="686.51" y2="854.55" stroke="#111" stroke-width="1.15"/>
<line x1="681.91" y1="862.52" x2="686.51" y2="862.52" stroke="#111" stroke-width="1.15"/>
<rect x="696.64" y="837.88" width="10.4" height="90.62" fill="#ffffff" stroke="#141414" stroke-width="1.35"/>
<circle cx="701.84" cy="821.2" r="2.05" fill="none" stroke="#1a1a1a" stroke-width="0.95"/>
<circle cx="697.44" cy="821.2" r="2.05" fill="none" stroke="#1a1a1a" stroke-width="0.95"/>
<circle cx="701.84" cy="831.35" r="2.05" fill="none" stroke="#1a1a1a" stroke-width="0.95"/>
<circle cx="697.44" cy="831.35" r="2.05" fill="none" stroke="#1a1a1a" stroke-width="0.95"/>
<circle cx="701.84" cy="837.88" r="2.05" fill="none" stroke="#1a1a1a" stroke-width="0.95"/>
<circle cx="697.44" cy="839.33" r="2.05" fill="none" stroke="#1a1a1a" stroke-width="0.95"/>
<circle cx="701.84" cy="848.39" r="2.05" fill="none" stroke="#1a1a1a" stroke-width="0.95"/>
<circle cx="697.44" cy="848.39" r="2.05" fill="none" stroke="#1a1a1a" stroke-width="0.95"/>
<circle cx="701.84" cy="852.38" r="2.05" fill="none" stroke="#1a1a1a" stroke-width="0.95"/>
<line x1="701.84" y1="833.89" x2="701.84" y2="841.86" stroke="#111" stroke-width="1.15"/>
<line x1="699.54" y1="833.89" x2="704.14" y2="833.89" stroke="#111" stroke-width="1.15"/>
<line x1="699.54" y1="841.86" x2="704.14" y2="841.86" stroke="#111" stroke-width="1.15"/>
<rect x="714.27" y="842.41" width="10.4" height="86.09" fill="#fb9d9f" stroke="#141414" stroke-width="1.35"/>
<circle cx="719.47" cy="827.36" r="2.05" fill="none" stroke="#1a1a1a" stroke-width="0.95"/>
<circle cx="715.07" cy="829.54" r="2.05" fill="none" stroke="#1a1a1a" stroke-width="0.95"/>
<circle cx="719.47" cy="836.42" r="2.05" fill="none" stroke="#1a1a1a" stroke-width="0.95"/>
<circle cx="719.47" cy="843.31" r="2.05" fill="none" stroke="#1a1a1a" stroke-width="0.95"/>
<circle cx="715.07" cy="845.12" r="2.05" fill="none" stroke="#1a1a1a" stroke-width="0.95"/>
<circle cx="719.47" cy="848.39" r="2.05" fill="none" stroke="#1a1a1a" stroke-width="0.95"/>
<circle cx="723.87" cy="848.75" r="2.05" fill="none" stroke="#1a1a1a" stroke-width="0.95"/>
<circle cx="719.47" cy="852.38" r="2.05" fill="none" stroke="#1a1a1a" stroke-width="0.95"/>
<line x1="719.47" y1="839.14" x2="719.47" y2="845.67" stroke="#111" stroke-width="1.15"/>
<line x1="717.17" y1="839.14" x2="721.77" y2="839.14" stroke="#111" stroke-width="1.15"/>
<line x1="717.17" y1="845.67" x2="721.77" y2="845.67" stroke="#111" stroke-width="1.15"/>
<rect x="731.9" y="849.48" width="10.4" height="79.02" fill="#ffffff" stroke="#141414" stroke-width="1.35"/>
<circle cx="737.1" cy="837.51" r="2.05" fill="none" stroke="#1a1a1a" stroke-width="0.95"/>
<circle cx="732.7" cy="840.41" r="2.05" fill="none" stroke="#1a1a1a" stroke-width="0.95"/>
<circle cx="737.1" cy="845.12" r="2.05" fill="none" stroke="#1a1a1a" stroke-width="0.95"/>
<circle cx="734.9" cy="848.39" r="2.05" fill="none" stroke="#1a1a1a" stroke-width="0.95"/>
<circle cx="739.3" cy="850.56" r="2.05" fill="none" stroke="#1a1a1a" stroke-width="0.95"/>
<circle cx="734.9" cy="852.38" r="2.05" fill="none" stroke="#1a1a1a" stroke-width="0.95"/>
<circle cx="735.12" cy="853.46" r="2.05" fill="none" stroke="#1a1a1a" stroke-width="0.95"/>
<circle cx="737.1" cy="858.54" r="2.05" fill="none" stroke="#1a1a1a" stroke-width="0.95"/>
<line x1="737.1" y1="846.94" x2="737.1" y2="852.01" stroke="#111" stroke-width="1.15"/>
<line x1="734.8" y1="846.94" x2="739.4" y2="846.94" stroke="#111" stroke-width="1.15"/>
<line x1="734.8" y1="852.01" x2="739.4" y2="852.01" stroke="#111" stroke-width="1.15"/>
<rect x="749.53" y="845.49" width="10.4" height="83.01" fill="#fb9d9f" stroke="#141414" stroke-width="1.35"/>
<circle cx="754.73" cy="829.9" r="2.05" fill="none" stroke="#1a1a1a" stroke-width="0.95"/>
<circle cx="754.73" cy="839.33" r="2.05" fill="none" stroke="#1a1a1a" stroke-width="0.95"/>
<circle cx="754.73" cy="844.4" r="2.05" fill="none" stroke="#1a1a1a" stroke-width="0.95"/>
<circle cx="750.33" cy="846.94" r="2.05" fill="none" stroke="#1a1a1a" stroke-width="0.95"/>
<circle cx="754.73" cy="849.48" r="2.05" fill="none" stroke="#1a1a1a" stroke-width="0.95"/>
<circle cx="754.73" cy="854.19" r="2.05" fill="none" stroke="#1a1a1a" stroke-width="0.95"/>
<circle cx="754.73" cy="859.99" r="2.05" fill="none" stroke="#1a1a1a" stroke-width="0.95"/>
<line x1="754.73" y1="842.59" x2="754.73" y2="848.39" stroke="#111" stroke-width="1.15"/>
<line x1="752.43" y1="842.59" x2="757.03" y2="842.59" stroke="#111" stroke-width="1.15"/>
<line x1="752.43" y1="848.39" x2="757.03" y2="848.39" stroke="#111" stroke-width="1.15"/>
<line x1="549.2" y1="782.9" x2="549.2" y2="929.1" stroke="#1f1f1f" stroke-width="1.25"/>
<line x1="544.4" y1="928.5" x2="549.2" y2="928.5" stroke="#1f1f1f" stroke-width="1.1"/>
<text x="543.1" y="931.13" font-size="7.3" text-anchor="end" fill="#1e1e1e">0</text>
<line x1="544.4" y1="892.25" x2="549.2" y2="892.25" stroke="#1f1f1f" stroke-width="1.1"/>
<text x="543.1" y="894.88" font-size="7.3" text-anchor="end" fill="#1e1e1e">10</text>
<line x1="544.4" y1="856" x2="549.2" y2="856" stroke="#1f1f1f" stroke-width="1.1"/>
<text x="543.1" y="858.63" font-size="7.3" text-anchor="end" fill="#1e1e1e">20</text>
<line x1="544.4" y1="819.75" x2="549.2" y2="819.75" stroke="#1f1f1f" stroke-width="1.1"/>
<text x="543.1" y="822.38" font-size="7.3" text-anchor="end" fill="#1e1e1e">30</text>
<line x1="544.4" y1="783.5" x2="549.2" y2="783.5" stroke="#1f1f1f" stroke-width="1.1"/>
<text x="543.1" y="786.13" font-size="7.3" text-anchor="end" fill="#1e1e1e">40</text>
<line x1="548.6" y1="928.5" x2="767.8" y2="928.5" stroke="#1f1f1f" stroke-width="1.25"/>
<line x1="560.8" y1="928.5" x2="560.8" y2="933.3" stroke="#1f1f1f" stroke-width="1.1"/>
<text x="0" y="0" font-size="6.9" transform="translate(560.8 940) scale(0.87 1)" text-anchor="middle" fill="#1e1e1e">WT</text>
<line x1="578.43" y1="928.5" x2="578.43" y2="933.3" stroke="#1f1f1f" stroke-width="1.1"/>
<text x="0" y="0" font-size="6.9" transform="translate(578.43 940) scale(0.87 1)" text-anchor="middle" fill="#1e1e1e">KO</text>
<line x1="596.06" y1="928.5" x2="596.06" y2="933.3" stroke="#1f1f1f" stroke-width="1.1"/>
<text x="0" y="0" font-size="6.9" transform="translate(596.06 940) scale(0.87 1)" text-anchor="middle" fill="#1e1e1e">WT</text>
<line x1="613.69" y1="928.5" x2="613.69" y2="933.3" stroke="#1f1f1f" stroke-width="1.1"/>
<text x="0" y="0" font-size="6.9" transform="translate(613.69 940) scale(0.87 1)" text-anchor="middle" fill="#1e1e1e">KO</text>
<line x1="631.32" y1="928.5" x2="631.32" y2="933.3" stroke="#1f1f1f" stroke-width="1.1"/>
<text x="0" y="0" font-size="6.9" transform="translate(631.32 940) scale(0.87 1)" text-anchor="middle" fill="#1e1e1e">WT</text>
<line x1="648.95" y1="928.5" x2="648.95" y2="933.3" stroke="#1f1f1f" stroke-width="1.1"/>
<text x="0" y="0" font-size="6.9" transform="translate(648.95 940) scale(0.87 1)" text-anchor="middle" fill="#1e1e1e">KO</text>
<line x1="666.58" y1="928.5" x2="666.58" y2="933.3" stroke="#1f1f1f" stroke-width="1.1"/>
<text x="0" y="0" font-size="6.9" transform="translate(666.58 940) scale(0.87 1)" text-anchor="middle" fill="#1e1e1e">WT</text>
<line x1="684.21" y1="928.5" x2="684.21" y2="933.3" stroke="#1f1f1f" stroke-width="1.1"/>
<text x="0" y="0" font-size="6.9" transform="translate(684.21 940) scale(0.87 1)" text-anchor="middle" fill="#1e1e1e">KO</text>
<line x1="701.84" y1="928.5" x2="701.84" y2="933.3" stroke="#1f1f1f" stroke-width="1.1"/>
<text x="0" y="0" font-size="6.9" transform="translate(701.84 940) scale(0.87 1)" text-anchor="middle" fill="#1e1e1e">WT</text>
<line x1="719.47" y1="928.5" x2="719.47" y2="933.3" stroke="#1f1f1f" stroke-width="1.1"/>
<text x="0" y="0" font-size="6.9" transform="translate(719.47 940) scale(0.87 1)" text-anchor="middle" fill="#1e1e1e">KO</text>
<line x1="737.1" y1="928.5" x2="737.1" y2="933.3" stroke="#1f1f1f" stroke-width="1.1"/>
<text x="0" y="0" font-size="6.9" transform="translate(737.1 940) scale(0.87 1)" text-anchor="middle" fill="#1e1e1e">WT</text>
<line x1="754.73" y1="928.5" x2="754.73" y2="933.3" stroke="#1f1f1f" stroke-width="1.1"/>
<text x="0" y="0" font-size="6.9" transform="translate(754.73 940) scale(0.87 1)" text-anchor="middle" fill="#1e1e1e">KO</text>
<line x1="556.6" y1="948.5" x2="618.6" y2="948.5" stroke="#1a1a1a" stroke-width="1.1"/>
<line x1="627.4" y1="948.5" x2="689.4" y2="948.5" stroke="#1a1a1a" stroke-width="1.1"/>
<line x1="701" y1="948.5" x2="762.8" y2="948.5" stroke="#1a1a1a" stroke-width="1.1"/>
<text x="587.8" y="962.1" font-size="8.6" text-anchor="middle">Ad libitum</text>
<text x="658.2" y="961.6" font-size="8.6" text-anchor="middle">Fast</text>
<text x="733.2" y="961.1" font-size="8.6" text-anchor="middle">Refeed</text>
<text x="570" y="787.6" font-size="7.7" text-anchor="middle" fill="#1c1c1c">Dark</text>
<text x="570" y="796.6" font-size="7.7" text-anchor="middle" fill="#1c1c1c">cycle</text>
<text x="606" y="786.6" font-size="7.7" text-anchor="middle" fill="#1c1c1c">Light</text>
<text x="606" y="795.6" font-size="7.7" text-anchor="middle" fill="#1c1c1c">cycle</text>
<text x="529.5" y="855.5" font-size="8.7" text-anchor="middle" transform="rotate(-90 529.5 855.5)">EE (kcal / kg-LM / hr)</text>
<polyline points="596.4,819.9 596.4,813.9 614,813.9 614,819.9" stroke="#1a1a1a" stroke-width="1.2" fill="none"/>
<path d="M605.5,808.7L605.5,805.7M605.5,808.7L608.35,807.77M605.5,808.7L607.26,811.13M605.5,808.7L603.74,811.13M605.5,808.7L602.65,807.77" stroke="#111" stroke-width="1.35" stroke-linecap="round" fill="none"/>
<polyline points="631.6,801.8 631.6,795.8 648.7,795.8 648.7,801.8" stroke="#1a1a1a" stroke-width="1.2" fill="none"/>
<path d="M640.1,787.1L640.1,784.1M640.1,787.1L642.95,786.17M640.1,787.1L641.86,789.53M640.1,787.1L638.34,789.53M640.1,787.1L637.25,786.17" stroke="#111" stroke-width="1.35" stroke-linecap="round" fill="none"/>
<polyline points="667.7,801.8 667.7,795.8 685,795.8 685,801.8" stroke="#1a1a1a" stroke-width="1.2" fill="none"/>
<path d="M676.7,787.1L676.7,784.1M676.7,787.1L679.55,786.17M676.7,787.1L678.46,789.53M676.7,787.1L674.94,789.53M676.7,787.1L673.85,786.17" stroke="#111" stroke-width="1.35" stroke-linecap="round" fill="none"/>
<text x="24.6" y="996" font-size="10.8" font-weight="bold" fill="#111">O</text>
<circle cx="84.5" cy="988.8" r="3.32" fill="none" stroke="#111" stroke-width="1.09"/>
<line x1="84.5" y1="992.12" x2="84.5" y2="998.58" stroke="#111" stroke-width="1.09"/>
<line x1="81.17" y1="995.16" x2="87.83" y2="995.16" stroke="#111" stroke-width="1.09"/>
<text x="98.8" y="999.9" font-size="8.7">Ad Libitum fed</text>
<line x1="75.4" y1="994.1" x2="75.4" y2="1114.9" stroke="#1f1f1f" stroke-width="1.25"/>
<line x1="70.6" y1="1114.3" x2="75.4" y2="1114.3" stroke="#1f1f1f" stroke-width="1.1"/>
<text x="69.3" y="1116.93" font-size="7.3" text-anchor="end" fill="#1e1e1e">0.35</text>
<line x1="70.6" y1="1084.4" x2="75.4" y2="1084.4" stroke="#1f1f1f" stroke-width="1.1"/>
<text x="69.3" y="1087.03" font-size="7.3" text-anchor="end" fill="#1e1e1e">0.40</text>
<line x1="70.6" y1="1054.5" x2="75.4" y2="1054.5" stroke="#1f1f1f" stroke-width="1.1"/>
<text x="69.3" y="1057.13" font-size="7.3" text-anchor="end" fill="#1e1e1e">0.45</text>
<line x1="70.6" y1="1024.6" x2="75.4" y2="1024.6" stroke="#1f1f1f" stroke-width="1.1"/>
<text x="69.3" y="1027.23" font-size="7.3" text-anchor="end" fill="#1e1e1e">0.50</text>
<line x1="70.6" y1="994.7" x2="75.4" y2="994.7" stroke="#1f1f1f" stroke-width="1.1"/>
<text x="69.3" y="997.33" font-size="7.3" text-anchor="end" fill="#1e1e1e">0.55</text>
<line x1="74.8" y1="1114.3" x2="195.6" y2="1114.3" stroke="#1f1f1f" stroke-width="1.25"/>
<line x1="75.4" y1="1114.3" x2="75.4" y2="1119.1" stroke="#1f1f1f" stroke-width="1.1"/>
<text x="75.4" y="1127.4" font-size="7.2" text-anchor="middle" fill="#1e1e1e">15</text>
<line x1="105.45" y1="1114.3" x2="105.45" y2="1119.1" stroke="#1f1f1f" stroke-width="1.1"/>
<text x="105.45" y="1127.4" font-size="7.2" text-anchor="middle" fill="#1e1e1e">20</text>
<line x1="135.5" y1="1114.3" x2="135.5" y2="1119.1" stroke="#1f1f1f" stroke-width="1.1"/>
<text x="135.5" y="1127.4" font-size="7.2" text-anchor="middle" fill="#1e1e1e">25</text>
<line x1="165.55" y1="1114.3" x2="165.55" y2="1119.1" stroke="#1f1f1f" stroke-width="1.1"/>
<text x="165.55" y="1127.4" font-size="7.2" text-anchor="middle" fill="#1e1e1e">30</text>
<line x1="195.6" y1="1114.3" x2="195.6" y2="1119.1" stroke="#1f1f1f" stroke-width="1.1"/>
<text x="195.6" y="1127.4" font-size="7.2" text-anchor="middle" fill="#1e1e1e">35</text>
<text x="135.5" y="1141.8" font-size="8.7" text-anchor="middle">Body weight (g)</text>
<text x="49.5" y="1055" font-size="8.8" text-anchor="middle" transform="rotate(-90 49.5 1055)">EE (kcal / hr)</text>
<line x1="98.24" y1="1091.4" x2="153.53" y2="1037.1" stroke="#f03c3c" stroke-width="1.25"/>
<line x1="99.44" y1="1095.82" x2="169.76" y2="1038.11" stroke="#2b2b2b" stroke-width="1.25"/>
<circle cx="154.13" cy="1025.92" r="2.45" fill="#f03c3c"/>
<circle cx="102.45" cy="1068.79" r="2.45" fill="#f03c3c"/>
<circle cx="121.68" cy="1066.7" r="2.45" fill="#f03c3c"/>
<circle cx="121.08" cy="1069.33" r="2.45" fill="#f03c3c"/>
<circle cx="118.07" cy="1072.2" r="2.45" fill="#f03c3c"/>
<circle cx="113.26" cy="1077.1" r="2.45" fill="#f03c3c"/>
<circle cx="119.87" cy="1077.88" r="2.45" fill="#f03c3c"/>
<circle cx="98.24" cy="1079.97" r="2.45" fill="#f03c3c"/>
<circle cx="97.64" cy="1091.7" r="2.45" fill="#f03c3c"/>
<circle cx="109.06" cy="1097.91" r="2.45" fill="#f03c3c"/>
<circle cx="116.27" cy="1094.03" r="2.45" fill="#f03c3c"/>
<circle cx="167.35" cy="1014.73" r="2.45" fill="#2b2b2b"/>
<circle cx="145.72" cy="1033.15" r="2.45" fill="#2b2b2b"/>
<circle cx="145.12" cy="1044.87" r="2.45" fill="#2b2b2b"/>
<circle cx="155.93" cy="1054.5" r="2.45" fill="#2b2b2b"/>
<circle cx="169.76" cy="1051.39" r="2.45" fill="#2b2b2b"/>
<circle cx="98.24" cy="1081.83" r="2.45" fill="#2b2b2b"/>
<circle cx="109.66" cy="1089.84" r="2.45" fill="#2b2b2b"/>
<circle cx="125.88" cy="1075.31" r="2.45" fill="#2b2b2b"/>
<circle cx="136.1" cy="1076.87" r="2.45" fill="#2b2b2b"/>
<circle cx="149.92" cy="1076.63" r="2.45" fill="#2b2b2b"/>
<circle cx="126.48" cy="1095.04" r="2.45" fill="#2b2b2b"/>
<line x1="199.5" y1="1000.7" x2="212" y2="1000.7" stroke="#2b2b2b" stroke-width="1.5"/>
<circle cx="205.75" cy="1000.7" r="2.5" fill="#2b2b2b"/>
<text x="219" y="1004.16" font-size="9.6">WT</text>
<line x1="199.5" y1="1012.4" x2="212" y2="1012.4" stroke="#f03c3c" stroke-width="1.5"/>
<circle cx="205.75" cy="1012.4" r="2.5" fill="#f03c3c"/>
<text x="219.2" y="1015.86" font-size="9.6">KO</text>
<line x1="297" y1="992" x2="297" y2="1113.1" stroke="#1f1f1f" stroke-width="1.25"/>
<line x1="292.2" y1="1112.5" x2="297" y2="1112.5" stroke="#1f1f1f" stroke-width="1.1"/>
<text x="290.9" y="1115.13" font-size="7.3" text-anchor="end" fill="#1e1e1e">0.25</text>
<line x1="292.2" y1="1082.53" x2="297" y2="1082.53" stroke="#1f1f1f" stroke-width="1.1"/>
<text x="290.9" y="1085.15" font-size="7.3" text-anchor="end" fill="#1e1e1e">0.30</text>
<line x1="292.2" y1="1052.55" x2="297" y2="1052.55" stroke="#1f1f1f" stroke-width="1.1"/>
<text x="290.9" y="1055.18" font-size="7.3" text-anchor="end" fill="#1e1e1e">0.35</text>
<line x1="292.2" y1="1022.58" x2="297" y2="1022.58" stroke="#1f1f1f" stroke-width="1.1"/>
<text x="290.9" y="1025.2" font-size="7.3" text-anchor="end" fill="#1e1e1e">0.40</text>
<line x1="292.2" y1="992.6" x2="297" y2="992.6" stroke="#1f1f1f" stroke-width="1.1"/>
<text x="290.9" y="995.23" font-size="7.3" text-anchor="end" fill="#1e1e1e">0.45</text>
<line x1="296.4" y1="1112.5" x2="417.1" y2="1112.5" stroke="#1f1f1f" stroke-width="1.25"/>
<line x1="297" y1="1112.5" x2="297" y2="1117.3" stroke="#1f1f1f" stroke-width="1.1"/>
<text x="297" y="1125.3" font-size="7.2" text-anchor="middle" fill="#1e1e1e">15</text>
<line x1="327.02" y1="1112.5" x2="327.02" y2="1117.3" stroke="#1f1f1f" stroke-width="1.1"/>
<text x="327.02" y="1125.3" font-size="7.2" text-anchor="middle" fill="#1e1e1e">20</text>
<line x1="357.05" y1="1112.5" x2="357.05" y2="1117.3" stroke="#1f1f1f" stroke-width="1.1"/>
<text x="357.05" y="1125.3" font-size="7.2" text-anchor="middle" fill="#1e1e1e">25</text>
<line x1="387.08" y1="1112.5" x2="387.08" y2="1117.3" stroke="#1f1f1f" stroke-width="1.1"/>
<text x="387.08" y="1125.3" font-size="7.2" text-anchor="middle" fill="#1e1e1e">30</text>
<line x1="417.1" y1="1112.5" x2="417.1" y2="1117.3" stroke="#1f1f1f" stroke-width="1.1"/>
<text x="417.1" y="1125.3" font-size="7.2" text-anchor="middle" fill="#1e1e1e">35</text>
<text x="357.05" y="1139.3" font-size="8.7" text-anchor="middle">Body weight (g)</text>
<text x="271.5" y="1052.5" font-size="8.8" text-anchor="middle" transform="rotate(-90 271.5 1052.5)">EE (kcal / hr)</text>
<line x1="320.42" y1="1054.77" x2="376.27" y2="1023.53" stroke="#f03c3c" stroke-width="1.25"/>
<line x1="331.83" y1="1088.28" x2="391.28" y2="1026.41" stroke="#2b2b2b" stroke-width="1.25"/>
<circle cx="376.27" cy="1007.41" r="2.45" fill="#f03c3c"/>
<circle cx="324.02" cy="1023.53" r="2.45" fill="#f03c3c"/>
<circle cx="334.83" cy="1025.63" r="2.45" fill="#f03c3c"/>
<circle cx="339.64" cy="1026.41" r="2.45" fill="#f03c3c"/>
<circle cx="320.42" cy="1041.52" r="2.45" fill="#f03c3c"/>
<circle cx="343.24" cy="1041.52" r="2.45" fill="#f03c3c"/>
<circle cx="343.24" cy="1058.13" r="2.45" fill="#f03c3c"/>
<circle cx="337.83" cy="1061.24" r="2.45" fill="#f03c3c"/>
<circle cx="341.44" cy="1069.82" r="2.45" fill="#f03c3c"/>
<circle cx="331.23" cy="1084.38" r="2.45" fill="#f03c3c"/>
<circle cx="388.88" cy="1016.76" r="2.45" fill="#2b2b2b"/>
<circle cx="391.28" cy="1019.64" r="2.45" fill="#2b2b2b"/>
<circle cx="377.47" cy="1038.1" r="2.45" fill="#2b2b2b"/>
<circle cx="367.26" cy="1050.09" r="2.45" fill="#2b2b2b"/>
<circle cx="367.86" cy="1057.35" r="2.45" fill="#2b2b2b"/>
<circle cx="371.46" cy="1055.25" r="2.45" fill="#2b2b2b"/>
<circle cx="331.23" cy="1063.88" r="2.45" fill="#2b2b2b"/>
<circle cx="347.44" cy="1075.03" r="2.45" fill="#2b2b2b"/>
<circle cx="357.65" cy="1075.81" r="2.45" fill="#2b2b2b"/>
<circle cx="348.04" cy="1085.46" r="2.45" fill="#2b2b2b"/>
<text x="351.1" y="996" font-size="8.7" text-anchor="middle">Fasted</text>
<text x="374.9" y="1087.6" font-size="8.4" fill="#1a1a1a"><tspan font-style="italic">P</tspan> = 0.0011</text>
<line x1="512" y1="990.2" x2="512" y2="1111.6" stroke="#1f1f1f" stroke-width="1.25"/>
<line x1="507.2" y1="1111" x2="512" y2="1111" stroke="#1f1f1f" stroke-width="1.1"/>
<text x="505.9" y="1113.63" font-size="7.3" text-anchor="end" fill="#1e1e1e">0.30</text>
<line x1="507.2" y1="1080.95" x2="512" y2="1080.95" stroke="#1f1f1f" stroke-width="1.1"/>
<text x="505.9" y="1083.58" font-size="7.3" text-anchor="end" fill="#1e1e1e">0.35</text>
<line x1="507.2" y1="1050.9" x2="512" y2="1050.9" stroke="#1f1f1f" stroke-width="1.1"/>
<text x="505.9" y="1053.53" font-size="7.3" text-anchor="end" fill="#1e1e1e">0.40</text>
<line x1="507.2" y1="1020.85" x2="512" y2="1020.85" stroke="#1f1f1f" stroke-width="1.1"/>
<text x="505.9" y="1023.48" font-size="7.3" text-anchor="end" fill="#1e1e1e">0.45</text>
<line x1="507.2" y1="990.8" x2="512" y2="990.8" stroke="#1f1f1f" stroke-width="1.1"/>
<text x="505.9" y="993.43" font-size="7.3" text-anchor="end" fill="#1e1e1e">0.50</text>
<line x1="511.4" y1="1111" x2="632.1" y2="1111" stroke="#1f1f1f" stroke-width="1.25"/>
<line x1="512" y1="1111" x2="512" y2="1115.8" stroke="#1f1f1f" stroke-width="1.1"/>
<text x="512" y="1123.8" font-size="7.2" text-anchor="middle" fill="#1e1e1e">15</text>
<line x1="542.02" y1="1111" x2="542.02" y2="1115.8" stroke="#1f1f1f" stroke-width="1.1"/>
<text x="542.02" y="1123.8" font-size="7.2" text-anchor="middle" fill="#1e1e1e">20</text>
<line x1="572.05" y1="1111" x2="572.05" y2="1115.8" stroke="#1f1f1f" stroke-width="1.1"/>
<text x="572.05" y="1123.8" font-size="7.2" text-anchor="middle" fill="#1e1e1e">25</text>
<line x1="602.08" y1="1111" x2="602.08" y2="1115.8" stroke="#1f1f1f" stroke-width="1.1"/>
<text x="602.08" y="1123.8" font-size="7.2" text-anchor="middle" fill="#1e1e1e">30</text>
<line x1="632.1" y1="1111" x2="632.1" y2="1115.8" stroke="#1f1f1f" stroke-width="1.1"/>
<text x="632.1" y="1123.8" font-size="7.2" text-anchor="middle" fill="#1e1e1e">35</text>
<text x="572.05" y="1137.8" font-size="8.7" text-anchor="middle">Body weight (g)</text>
<text x="486.5" y="1051" font-size="8.8" text-anchor="middle" transform="rotate(-90 486.5 1051)">EE (kcal / hr)</text>
<line x1="534.82" y1="1088.34" x2="591.27" y2="1029.32" stroke="#f03c3c" stroke-width="1.25"/>
<line x1="546.23" y1="1085.22" x2="606.64" y2="1001.74" stroke="#2b2b2b" stroke-width="1.25"/>
<circle cx="591.27" cy="1016.58" r="2.45" fill="#f03c3c"/>
<circle cx="539.02" cy="1058.95" r="2.45" fill="#f03c3c"/>
<circle cx="557.64" cy="1053" r="2.45" fill="#f03c3c"/>
<circle cx="554.64" cy="1059.25" r="2.45" fill="#f03c3c"/>
<circle cx="545.63" cy="1076.14" r="2.45" fill="#f03c3c"/>
<circle cx="558.24" cy="1073.8" r="2.45" fill="#f03c3c"/>
<circle cx="534.82" cy="1081.85" r="2.45" fill="#f03c3c"/>
<circle cx="556.44" cy="1082.39" r="2.45" fill="#f03c3c"/>
<circle cx="549.83" cy="1089.96" r="2.45" fill="#f03c3c"/>
<circle cx="552.83" cy="1088.64" r="2.45" fill="#f03c3c"/>
<circle cx="606.64" cy="1001.2" r="2.45" fill="#2b2b2b"/>
<circle cx="592.47" cy="1003.78" r="2.45" fill="#2b2b2b"/>
<circle cx="603.88" cy="1009.01" r="2.45" fill="#2b2b2b"/>
<circle cx="582.86" cy="1033.23" r="2.45" fill="#2b2b2b"/>
<circle cx="581.66" cy="1038.94" r="2.45" fill="#2b2b2b"/>
<circle cx="586.46" cy="1035.81" r="2.45" fill="#2b2b2b"/>
<circle cx="562.44" cy="1054.81" r="2.45" fill="#2b2b2b"/>
<circle cx="573.25" cy="1057.93" r="2.45" fill="#2b2b2b"/>
<circle cx="563.04" cy="1074.04" r="2.45" fill="#2b2b2b"/>
<circle cx="546.23" cy="1083.17" r="2.45" fill="#2b2b2b"/>
<text x="560.1" y="996" font-size="8.7" text-anchor="middle">Refed</text>
</svg>
</body></html>
